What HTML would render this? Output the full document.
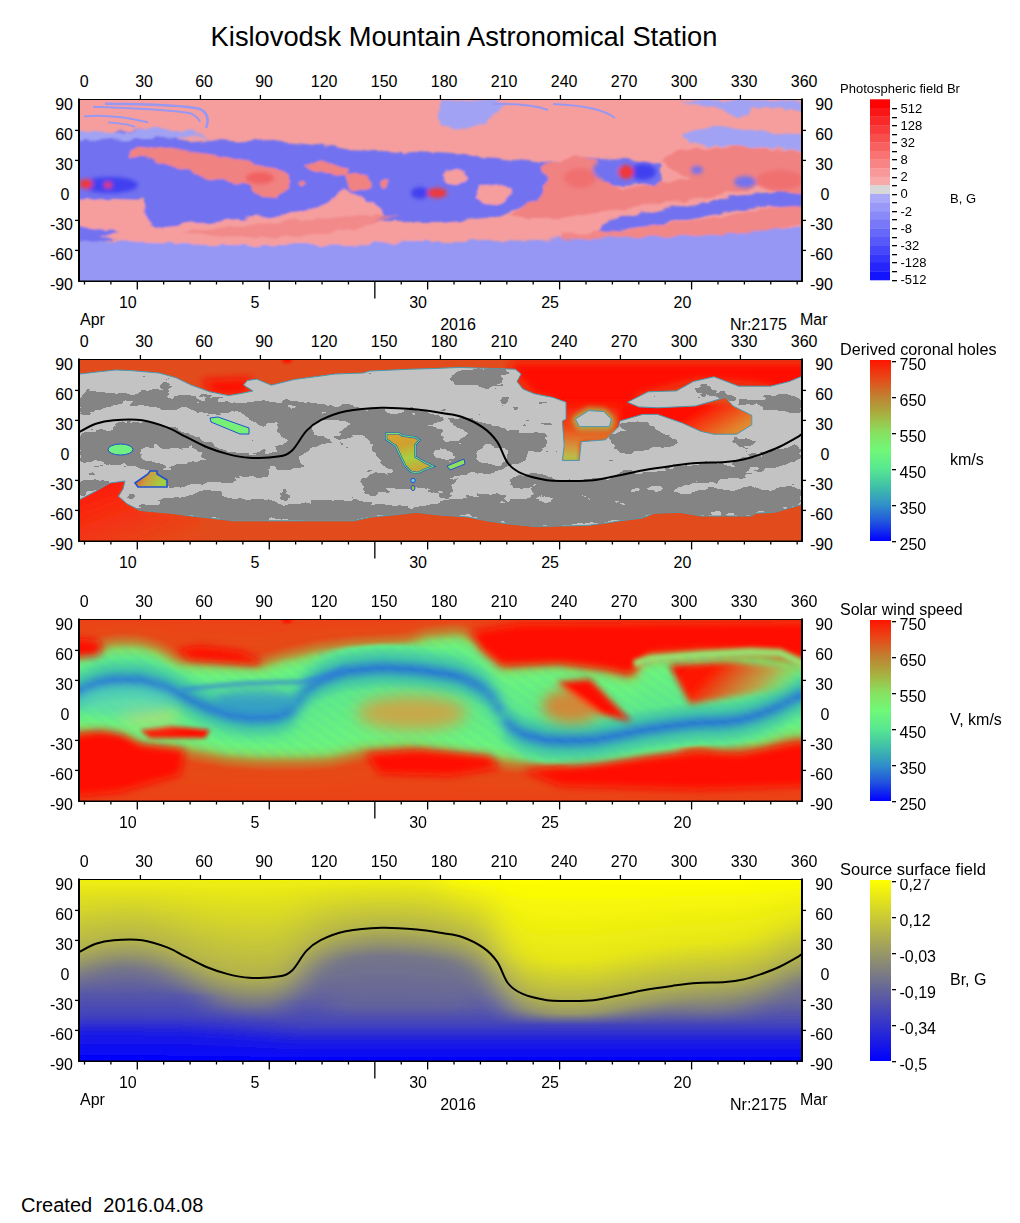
<!DOCTYPE html>
<html><head><meta charset="utf-8"><style>
html,body{margin:0;padding:0;background:#fff;width:1020px;height:1223px;overflow:hidden}
svg{display:block}
text{font-family:"Liberation Sans", sans-serif;fill:#000}
</style></head><body>
<svg width="1020" height="1223" viewBox="0 0 1020 1223">
<defs><clipPath id="clip0"><rect x="80" y="100" width="721" height="181"/></clipPath><clipPath id="clip1"><rect x="80" y="360" width="721" height="181"/></clipPath><clipPath id="clip2"><rect x="80" y="620" width="721" height="181"/></clipPath><clipPath id="clip3"><rect x="80" y="880" width="721" height="181"/></clipPath><linearGradient id="gv" x1="0" y1="0" x2="0" y2="1"><stop offset="0" stop-color="#ff1400"/><stop offset="0.1" stop-color="#e84818"/><stop offset="0.2" stop-color="#c08030"/><stop offset="0.3" stop-color="#a8b040"/><stop offset="0.4" stop-color="#88e060"/><stop offset="0.5" stop-color="#70f878"/><stop offset="0.6" stop-color="#58e890"/><stop offset="0.7" stop-color="#40c0a8"/><stop offset="0.8" stop-color="#3090c8"/><stop offset="0.9" stop-color="#2050e0"/><stop offset="1" stop-color="#0000ff"/></linearGradient><linearGradient id="gs" x1="0" y1="0" x2="0" y2="1"><stop offset="0" stop-color="#ffff00"/><stop offset="1" stop-color="#0000ff"/></linearGradient><clipPath id="lblclip"><rect x="880" y="879" width="80" height="30"/></clipPath><filter id="disp1" filterUnits="userSpaceOnUse" x="60" y="80" width="760" height="220"><feTurbulence type="fractalNoise" baseFrequency="0.06 0.1" numOctaves="2" seed="3" result="n"/><feDisplacementMap in="SourceGraphic" in2="n" scale="9" xChannelSelector="R" yChannelSelector="G" result="d"/><feGaussianBlur in="d" stdDeviation="0.8"/></filter><pattern id="streak" width="9" height="9" patternUnits="userSpaceOnUse" patternTransform="rotate(35)"><rect width="9" height="3" fill="#30a0d0"/></pattern><linearGradient id="g3_0" gradientUnits="userSpaceOnUse" x1="0" y1="619" x2="0" y2="802"><stop offset="0.000" stop-color="#eb4215"/><stop offset="0.120" stop-color="#e64a19"/><stop offset="0.169" stop-color="#be8532"/><stop offset="0.212" stop-color="#86e262"/><stop offset="0.251" stop-color="#70f878"/><stop offset="0.277" stop-color="#62ee86"/><stop offset="0.343" stop-color="#42c4a6"/><stop offset="0.397" stop-color="#2a76d2"/><stop offset="0.452" stop-color="#42c4a6"/><stop offset="0.517" stop-color="#62ee86"/><stop offset="0.552" stop-color="#70f878"/><stop offset="0.590" stop-color="#86e262"/><stop offset="0.634" stop-color="#be8532"/><stop offset="0.683" stop-color="#e64a19"/><stop offset="1.000" stop-color="#eb4215"/></linearGradient><linearGradient id="g3_1" gradientUnits="userSpaceOnUse" x1="0" y1="619" x2="0" y2="802"><stop offset="0.000" stop-color="#eb4215"/><stop offset="0.120" stop-color="#e64a19"/><stop offset="0.169" stop-color="#be8532"/><stop offset="0.212" stop-color="#86e262"/><stop offset="0.251" stop-color="#70f878"/><stop offset="0.277" stop-color="#62ee86"/><stop offset="0.343" stop-color="#42c4a6"/><stop offset="0.397" stop-color="#2a76d2"/><stop offset="0.452" stop-color="#42c4a6"/><stop offset="0.517" stop-color="#62ee86"/><stop offset="0.552" stop-color="#70f878"/><stop offset="0.590" stop-color="#86e262"/><stop offset="0.634" stop-color="#be8532"/><stop offset="0.683" stop-color="#e64a19"/><stop offset="1.000" stop-color="#eb4215"/></linearGradient><linearGradient id="g3_2" gradientUnits="userSpaceOnUse" x1="0" y1="619" x2="0" y2="802"><stop offset="0.000" stop-color="#eb4215"/><stop offset="0.120" stop-color="#e64a19"/><stop offset="0.169" stop-color="#be8532"/><stop offset="0.212" stop-color="#86e262"/><stop offset="0.251" stop-color="#70f878"/><stop offset="0.277" stop-color="#62ee86"/><stop offset="0.343" stop-color="#42c4a6"/><stop offset="0.397" stop-color="#2a76d2"/><stop offset="0.452" stop-color="#42c4a6"/><stop offset="0.517" stop-color="#62ee86"/><stop offset="0.552" stop-color="#70f878"/><stop offset="0.590" stop-color="#86e262"/><stop offset="0.634" stop-color="#be8532"/><stop offset="0.683" stop-color="#e64a19"/><stop offset="1.000" stop-color="#eb4215"/></linearGradient><linearGradient id="g3_3" gradientUnits="userSpaceOnUse" x1="0" y1="619" x2="0" y2="802"><stop offset="0.000" stop-color="#eb4215"/><stop offset="0.120" stop-color="#e64a19"/><stop offset="0.169" stop-color="#be8532"/><stop offset="0.212" stop-color="#86e262"/><stop offset="0.251" stop-color="#70f878"/><stop offset="0.277" stop-color="#62ee86"/><stop offset="0.343" stop-color="#42c4a6"/><stop offset="0.397" stop-color="#2a76d2"/><stop offset="0.452" stop-color="#42c4a6"/><stop offset="0.517" stop-color="#62ee86"/><stop offset="0.552" stop-color="#70f878"/><stop offset="0.590" stop-color="#86e262"/><stop offset="0.634" stop-color="#be8532"/><stop offset="0.683" stop-color="#e64a19"/><stop offset="1.000" stop-color="#eb4215"/></linearGradient><linearGradient id="g3_4" gradientUnits="userSpaceOnUse" x1="0" y1="619" x2="0" y2="802"><stop offset="0.000" stop-color="#eb4215"/><stop offset="0.114" stop-color="#e64a19"/><stop offset="0.163" stop-color="#be8532"/><stop offset="0.207" stop-color="#86e262"/><stop offset="0.245" stop-color="#70f878"/><stop offset="0.266" stop-color="#62ee86"/><stop offset="0.332" stop-color="#42c4a6"/><stop offset="0.386" stop-color="#2a76d2"/><stop offset="0.441" stop-color="#42c4a6"/><stop offset="0.507" stop-color="#62ee86"/><stop offset="0.553" stop-color="#70f878"/><stop offset="0.591" stop-color="#86e262"/><stop offset="0.635" stop-color="#be8532"/><stop offset="0.684" stop-color="#e64a19"/><stop offset="1.000" stop-color="#eb4215"/></linearGradient><linearGradient id="g3_5" gradientUnits="userSpaceOnUse" x1="0" y1="619" x2="0" y2="802"><stop offset="0.000" stop-color="#eb4215"/><stop offset="0.103" stop-color="#e64a19"/><stop offset="0.152" stop-color="#be8532"/><stop offset="0.196" stop-color="#86e262"/><stop offset="0.244" stop-color="#62ee86"/><stop offset="0.310" stop-color="#42c4a6"/><stop offset="0.364" stop-color="#2a76d2"/><stop offset="0.419" stop-color="#42c4a6"/><stop offset="0.485" stop-color="#62ee86"/><stop offset="0.555" stop-color="#70f878"/><stop offset="0.593" stop-color="#86e262"/><stop offset="0.637" stop-color="#be8532"/><stop offset="0.686" stop-color="#e64a19"/><stop offset="1.000" stop-color="#eb4215"/></linearGradient><linearGradient id="g3_6" gradientUnits="userSpaceOnUse" x1="0" y1="619" x2="0" y2="802"><stop offset="0.000" stop-color="#eb4215"/><stop offset="0.092" stop-color="#e64a19"/><stop offset="0.141" stop-color="#be8532"/><stop offset="0.185" stop-color="#86e262"/><stop offset="0.229" stop-color="#62ee86"/><stop offset="0.295" stop-color="#42c4a6"/><stop offset="0.349" stop-color="#2a76d2"/><stop offset="0.404" stop-color="#42c4a6"/><stop offset="0.470" stop-color="#62ee86"/><stop offset="0.557" stop-color="#70f878"/><stop offset="0.596" stop-color="#86e262"/><stop offset="0.639" stop-color="#be8532"/><stop offset="0.689" stop-color="#e64a19"/><stop offset="1.000" stop-color="#eb4215"/></linearGradient><linearGradient id="g3_7" gradientUnits="userSpaceOnUse" x1="0" y1="619" x2="0" y2="802"><stop offset="0.000" stop-color="#eb4215"/><stop offset="0.085" stop-color="#e64a19"/><stop offset="0.134" stop-color="#be8532"/><stop offset="0.178" stop-color="#86e262"/><stop offset="0.220" stop-color="#62ee86"/><stop offset="0.286" stop-color="#42c4a6"/><stop offset="0.341" stop-color="#2a76d2"/><stop offset="0.395" stop-color="#42c4a6"/><stop offset="0.461" stop-color="#62ee86"/><stop offset="0.566" stop-color="#70f878"/><stop offset="0.604" stop-color="#86e262"/><stop offset="0.648" stop-color="#be8532"/><stop offset="0.697" stop-color="#e64a19"/><stop offset="1.000" stop-color="#eb4215"/></linearGradient><linearGradient id="g3_8" gradientUnits="userSpaceOnUse" x1="0" y1="619" x2="0" y2="802"><stop offset="0.000" stop-color="#eb4215"/><stop offset="0.077" stop-color="#e64a19"/><stop offset="0.127" stop-color="#be8532"/><stop offset="0.170" stop-color="#86e262"/><stop offset="0.214" stop-color="#62ee86"/><stop offset="0.280" stop-color="#42c4a6"/><stop offset="0.334" stop-color="#2a76d2"/><stop offset="0.389" stop-color="#42c4a6"/><stop offset="0.455" stop-color="#62ee86"/><stop offset="0.574" stop-color="#70f878"/><stop offset="0.612" stop-color="#86e262"/><stop offset="0.656" stop-color="#be8532"/><stop offset="0.705" stop-color="#e64a19"/><stop offset="1.000" stop-color="#eb4215"/></linearGradient><linearGradient id="g3_9" gradientUnits="userSpaceOnUse" x1="0" y1="619" x2="0" y2="802"><stop offset="0.000" stop-color="#eb4215"/><stop offset="0.077" stop-color="#e64a19"/><stop offset="0.126" stop-color="#be8532"/><stop offset="0.169" stop-color="#86e262"/><stop offset="0.214" stop-color="#62ee86"/><stop offset="0.280" stop-color="#42c4a6"/><stop offset="0.334" stop-color="#2a76d2"/><stop offset="0.389" stop-color="#42c4a6"/><stop offset="0.455" stop-color="#62ee86"/><stop offset="0.586" stop-color="#70f878"/><stop offset="0.624" stop-color="#86e262"/><stop offset="0.668" stop-color="#be8532"/><stop offset="0.717" stop-color="#e64a19"/><stop offset="1.000" stop-color="#eb4215"/></linearGradient><linearGradient id="g3_10" gradientUnits="userSpaceOnUse" x1="0" y1="619" x2="0" y2="802"><stop offset="0.000" stop-color="#eb4215"/><stop offset="0.077" stop-color="#e64a19"/><stop offset="0.126" stop-color="#be8532"/><stop offset="0.169" stop-color="#86e262"/><stop offset="0.214" stop-color="#62ee86"/><stop offset="0.280" stop-color="#42c4a6"/><stop offset="0.334" stop-color="#2a76d2"/><stop offset="0.389" stop-color="#42c4a6"/><stop offset="0.455" stop-color="#62ee86"/><stop offset="0.604" stop-color="#70f878"/><stop offset="0.642" stop-color="#86e262"/><stop offset="0.686" stop-color="#be8532"/><stop offset="0.735" stop-color="#e64a19"/><stop offset="1.000" stop-color="#eb4215"/></linearGradient><linearGradient id="g3_11" gradientUnits="userSpaceOnUse" x1="0" y1="619" x2="0" y2="802"><stop offset="0.000" stop-color="#eb4215"/><stop offset="0.078" stop-color="#e64a19"/><stop offset="0.127" stop-color="#be8532"/><stop offset="0.171" stop-color="#86e262"/><stop offset="0.214" stop-color="#62ee86"/><stop offset="0.280" stop-color="#42c4a6"/><stop offset="0.334" stop-color="#2a76d2"/><stop offset="0.389" stop-color="#42c4a6"/><stop offset="0.455" stop-color="#62ee86"/><stop offset="0.622" stop-color="#70f878"/><stop offset="0.660" stop-color="#86e262"/><stop offset="0.704" stop-color="#be8532"/><stop offset="0.753" stop-color="#e64a19"/><stop offset="1.000" stop-color="#eb4215"/></linearGradient><linearGradient id="g3_12" gradientUnits="userSpaceOnUse" x1="0" y1="619" x2="0" y2="802"><stop offset="0.000" stop-color="#eb4215"/><stop offset="0.091" stop-color="#e64a19"/><stop offset="0.140" stop-color="#be8532"/><stop offset="0.183" stop-color="#86e262"/><stop offset="0.223" stop-color="#62ee86"/><stop offset="0.289" stop-color="#42c4a6"/><stop offset="0.344" stop-color="#2a76d2"/><stop offset="0.398" stop-color="#42c4a6"/><stop offset="0.464" stop-color="#62ee86"/><stop offset="0.630" stop-color="#70f878"/><stop offset="0.668" stop-color="#86e262"/><stop offset="0.712" stop-color="#be8532"/><stop offset="0.761" stop-color="#e64a19"/><stop offset="1.000" stop-color="#eb4215"/></linearGradient><linearGradient id="g3_13" gradientUnits="userSpaceOnUse" x1="0" y1="619" x2="0" y2="802"><stop offset="0.000" stop-color="#eb4215"/><stop offset="0.103" stop-color="#e64a19"/><stop offset="0.152" stop-color="#be8532"/><stop offset="0.196" stop-color="#86e262"/><stop offset="0.236" stop-color="#62ee86"/><stop offset="0.301" stop-color="#42c4a6"/><stop offset="0.356" stop-color="#2a76d2"/><stop offset="0.411" stop-color="#42c4a6"/><stop offset="0.476" stop-color="#62ee86"/><stop offset="0.633" stop-color="#70f878"/><stop offset="0.671" stop-color="#86e262"/><stop offset="0.715" stop-color="#be8532"/><stop offset="0.764" stop-color="#e64a19"/><stop offset="1.000" stop-color="#eb4215"/></linearGradient><linearGradient id="g3_14" gradientUnits="userSpaceOnUse" x1="0" y1="619" x2="0" y2="802"><stop offset="0.000" stop-color="#eb4215"/><stop offset="0.124" stop-color="#e64a19"/><stop offset="0.173" stop-color="#be8532"/><stop offset="0.217" stop-color="#86e262"/><stop offset="0.249" stop-color="#62ee86"/><stop offset="0.314" stop-color="#42c4a6"/><stop offset="0.369" stop-color="#2a76d2"/><stop offset="0.423" stop-color="#42c4a6"/><stop offset="0.489" stop-color="#62ee86"/><stop offset="0.635" stop-color="#70f878"/><stop offset="0.674" stop-color="#86e262"/><stop offset="0.717" stop-color="#be8532"/><stop offset="0.767" stop-color="#e64a19"/><stop offset="1.000" stop-color="#eb4215"/></linearGradient><linearGradient id="g3_15" gradientUnits="userSpaceOnUse" x1="0" y1="619" x2="0" y2="802"><stop offset="0.000" stop-color="#eb4215"/><stop offset="0.153" stop-color="#e64a19"/><stop offset="0.202" stop-color="#be8532"/><stop offset="0.246" stop-color="#86e262"/><stop offset="0.267" stop-color="#62ee86"/><stop offset="0.332" stop-color="#42c4a6"/><stop offset="0.387" stop-color="#2a76d2"/><stop offset="0.442" stop-color="#42c4a6"/><stop offset="0.507" stop-color="#62ee86"/><stop offset="0.638" stop-color="#70f878"/><stop offset="0.676" stop-color="#86e262"/><stop offset="0.720" stop-color="#be8532"/><stop offset="0.769" stop-color="#e64a19"/><stop offset="1.000" stop-color="#eb4215"/></linearGradient><linearGradient id="g3_16" gradientUnits="userSpaceOnUse" x1="0" y1="619" x2="0" y2="802"><stop offset="0.000" stop-color="#eb4215"/><stop offset="0.175" stop-color="#e64a19"/><stop offset="0.224" stop-color="#be8532"/><stop offset="0.268" stop-color="#86e262"/><stop offset="0.289" stop-color="#62ee86"/><stop offset="0.354" stop-color="#42c4a6"/><stop offset="0.409" stop-color="#2a76d2"/><stop offset="0.463" stop-color="#42c4a6"/><stop offset="0.529" stop-color="#62ee86"/><stop offset="0.642" stop-color="#70f878"/><stop offset="0.681" stop-color="#86e262"/><stop offset="0.724" stop-color="#be8532"/><stop offset="0.773" stop-color="#e64a19"/><stop offset="1.000" stop-color="#eb4215"/></linearGradient><linearGradient id="g3_17" gradientUnits="userSpaceOnUse" x1="0" y1="619" x2="0" y2="802"><stop offset="0.000" stop-color="#eb4215"/><stop offset="0.177" stop-color="#e64a19"/><stop offset="0.226" stop-color="#be8532"/><stop offset="0.270" stop-color="#86e262"/><stop offset="0.310" stop-color="#62ee86"/><stop offset="0.376" stop-color="#42c4a6"/><stop offset="0.431" stop-color="#2a76d2"/><stop offset="0.485" stop-color="#42c4a6"/><stop offset="0.551" stop-color="#62ee86"/><stop offset="0.648" stop-color="#70f878"/><stop offset="0.687" stop-color="#86e262"/><stop offset="0.730" stop-color="#be8532"/><stop offset="0.779" stop-color="#e64a19"/><stop offset="1.000" stop-color="#eb4215"/></linearGradient><linearGradient id="g3_18" gradientUnits="userSpaceOnUse" x1="0" y1="619" x2="0" y2="802"><stop offset="0.000" stop-color="#eb4215"/><stop offset="0.178" stop-color="#e64a19"/><stop offset="0.228" stop-color="#be8532"/><stop offset="0.271" stop-color="#86e262"/><stop offset="0.309" stop-color="#70f878"/><stop offset="0.332" stop-color="#62ee86"/><stop offset="0.398" stop-color="#42c4a6"/><stop offset="0.452" stop-color="#2a76d2"/><stop offset="0.507" stop-color="#42c4a6"/><stop offset="0.573" stop-color="#62ee86"/><stop offset="0.654" stop-color="#70f878"/><stop offset="0.692" stop-color="#86e262"/><stop offset="0.736" stop-color="#be8532"/><stop offset="0.785" stop-color="#e64a19"/><stop offset="1.000" stop-color="#eb4215"/></linearGradient><linearGradient id="g3_19" gradientUnits="userSpaceOnUse" x1="0" y1="619" x2="0" y2="802"><stop offset="0.000" stop-color="#eb4215"/><stop offset="0.180" stop-color="#e64a19"/><stop offset="0.229" stop-color="#be8532"/><stop offset="0.273" stop-color="#86e262"/><stop offset="0.311" stop-color="#70f878"/><stop offset="0.354" stop-color="#62ee86"/><stop offset="0.419" stop-color="#42c4a6"/><stop offset="0.474" stop-color="#2a76d2"/><stop offset="0.529" stop-color="#42c4a6"/><stop offset="0.594" stop-color="#62ee86"/><stop offset="0.662" stop-color="#70f878"/><stop offset="0.700" stop-color="#86e262"/><stop offset="0.744" stop-color="#be8532"/><stop offset="0.793" stop-color="#e64a19"/><stop offset="1.000" stop-color="#eb4215"/></linearGradient><linearGradient id="g3_20" gradientUnits="userSpaceOnUse" x1="0" y1="619" x2="0" y2="802"><stop offset="0.000" stop-color="#eb4215"/><stop offset="0.181" stop-color="#e64a19"/><stop offset="0.231" stop-color="#be8532"/><stop offset="0.274" stop-color="#86e262"/><stop offset="0.313" stop-color="#70f878"/><stop offset="0.371" stop-color="#62ee86"/><stop offset="0.436" stop-color="#42c4a6"/><stop offset="0.491" stop-color="#2a76d2"/><stop offset="0.545" stop-color="#42c4a6"/><stop offset="0.611" stop-color="#62ee86"/><stop offset="0.670" stop-color="#70f878"/><stop offset="0.708" stop-color="#86e262"/><stop offset="0.752" stop-color="#be8532"/><stop offset="0.801" stop-color="#e64a19"/><stop offset="1.000" stop-color="#eb4215"/></linearGradient><linearGradient id="g3_21" gradientUnits="userSpaceOnUse" x1="0" y1="619" x2="0" y2="802"><stop offset="0.000" stop-color="#eb4215"/><stop offset="0.183" stop-color="#e64a19"/><stop offset="0.232" stop-color="#be8532"/><stop offset="0.276" stop-color="#86e262"/><stop offset="0.314" stop-color="#70f878"/><stop offset="0.385" stop-color="#62ee86"/><stop offset="0.451" stop-color="#42c4a6"/><stop offset="0.505" stop-color="#2a76d2"/><stop offset="0.560" stop-color="#42c4a6"/><stop offset="0.626" stop-color="#62ee86"/><stop offset="0.678" stop-color="#70f878"/><stop offset="0.717" stop-color="#86e262"/><stop offset="0.760" stop-color="#be8532"/><stop offset="0.809" stop-color="#e64a19"/><stop offset="1.000" stop-color="#eb4215"/></linearGradient><linearGradient id="g3_22" gradientUnits="userSpaceOnUse" x1="0" y1="619" x2="0" y2="802"><stop offset="0.000" stop-color="#eb4215"/><stop offset="0.185" stop-color="#e64a19"/><stop offset="0.234" stop-color="#be8532"/><stop offset="0.277" stop-color="#86e262"/><stop offset="0.316" stop-color="#70f878"/><stop offset="0.400" stop-color="#62ee86"/><stop offset="0.465" stop-color="#42c4a6"/><stop offset="0.520" stop-color="#2a76d2"/><stop offset="0.574" stop-color="#42c4a6"/><stop offset="0.640" stop-color="#62ee86"/><stop offset="0.686" stop-color="#70f878"/><stop offset="0.725" stop-color="#86e262"/><stop offset="0.768" stop-color="#be8532"/><stop offset="0.818" stop-color="#e64a19"/><stop offset="1.000" stop-color="#eb4215"/></linearGradient><linearGradient id="g3_23" gradientUnits="userSpaceOnUse" x1="0" y1="619" x2="0" y2="802"><stop offset="0.000" stop-color="#eb4215"/><stop offset="0.186" stop-color="#e64a19"/><stop offset="0.235" stop-color="#be8532"/><stop offset="0.279" stop-color="#86e262"/><stop offset="0.317" stop-color="#70f878"/><stop offset="0.407" stop-color="#62ee86"/><stop offset="0.472" stop-color="#42c4a6"/><stop offset="0.527" stop-color="#2a76d2"/><stop offset="0.582" stop-color="#42c4a6"/><stop offset="0.647" stop-color="#62ee86"/><stop offset="0.691" stop-color="#70f878"/><stop offset="0.729" stop-color="#86e262"/><stop offset="0.772" stop-color="#be8532"/><stop offset="0.822" stop-color="#e64a19"/><stop offset="1.000" stop-color="#eb4215"/></linearGradient><linearGradient id="g3_24" gradientUnits="userSpaceOnUse" x1="0" y1="619" x2="0" y2="802"><stop offset="0.000" stop-color="#eb4215"/><stop offset="0.188" stop-color="#e64a19"/><stop offset="0.237" stop-color="#be8532"/><stop offset="0.280" stop-color="#86e262"/><stop offset="0.319" stop-color="#70f878"/><stop offset="0.414" stop-color="#62ee86"/><stop offset="0.480" stop-color="#42c4a6"/><stop offset="0.534" stop-color="#2a76d2"/><stop offset="0.589" stop-color="#42c4a6"/><stop offset="0.655" stop-color="#62ee86"/><stop offset="0.693" stop-color="#70f878"/><stop offset="0.731" stop-color="#86e262"/><stop offset="0.775" stop-color="#be8532"/><stop offset="0.824" stop-color="#e64a19"/><stop offset="1.000" stop-color="#eb4215"/></linearGradient><linearGradient id="g3_25" gradientUnits="userSpaceOnUse" x1="0" y1="619" x2="0" y2="802"><stop offset="0.000" stop-color="#eb4215"/><stop offset="0.189" stop-color="#e64a19"/><stop offset="0.238" stop-color="#be8532"/><stop offset="0.282" stop-color="#86e262"/><stop offset="0.320" stop-color="#70f878"/><stop offset="0.419" stop-color="#62ee86"/><stop offset="0.484" stop-color="#42c4a6"/><stop offset="0.539" stop-color="#2a76d2"/><stop offset="0.593" stop-color="#42c4a6"/><stop offset="0.659" stop-color="#62ee86"/><stop offset="0.696" stop-color="#70f878"/><stop offset="0.734" stop-color="#86e262"/><stop offset="0.778" stop-color="#be8532"/><stop offset="0.827" stop-color="#e64a19"/><stop offset="1.000" stop-color="#eb4215"/></linearGradient><linearGradient id="g3_26" gradientUnits="userSpaceOnUse" x1="0" y1="619" x2="0" y2="802"><stop offset="0.000" stop-color="#eb4215"/><stop offset="0.191" stop-color="#e64a19"/><stop offset="0.240" stop-color="#be8532"/><stop offset="0.284" stop-color="#86e262"/><stop offset="0.322" stop-color="#70f878"/><stop offset="0.417" stop-color="#62ee86"/><stop offset="0.482" stop-color="#42c4a6"/><stop offset="0.537" stop-color="#2a76d2"/><stop offset="0.592" stop-color="#42c4a6"/><stop offset="0.657" stop-color="#62ee86"/><stop offset="0.698" stop-color="#70f878"/><stop offset="0.737" stop-color="#86e262"/><stop offset="0.780" stop-color="#be8532"/><stop offset="0.830" stop-color="#e64a19"/><stop offset="1.000" stop-color="#eb4215"/></linearGradient><linearGradient id="g3_27" gradientUnits="userSpaceOnUse" x1="0" y1="619" x2="0" y2="802"><stop offset="0.000" stop-color="#eb4215"/><stop offset="0.183" stop-color="#e64a19"/><stop offset="0.232" stop-color="#be8532"/><stop offset="0.275" stop-color="#86e262"/><stop offset="0.314" stop-color="#70f878"/><stop offset="0.415" stop-color="#62ee86"/><stop offset="0.481" stop-color="#42c4a6"/><stop offset="0.535" stop-color="#2a76d2"/><stop offset="0.590" stop-color="#42c4a6"/><stop offset="0.656" stop-color="#62ee86"/><stop offset="0.699" stop-color="#70f878"/><stop offset="0.738" stop-color="#86e262"/><stop offset="0.781" stop-color="#be8532"/><stop offset="0.831" stop-color="#e64a19"/><stop offset="1.000" stop-color="#eb4215"/></linearGradient><linearGradient id="g3_28" gradientUnits="userSpaceOnUse" x1="0" y1="619" x2="0" y2="802"><stop offset="0.000" stop-color="#eb4215"/><stop offset="0.169" stop-color="#e64a19"/><stop offset="0.218" stop-color="#be8532"/><stop offset="0.262" stop-color="#86e262"/><stop offset="0.300" stop-color="#70f878"/><stop offset="0.414" stop-color="#62ee86"/><stop offset="0.479" stop-color="#42c4a6"/><stop offset="0.534" stop-color="#2a76d2"/><stop offset="0.588" stop-color="#42c4a6"/><stop offset="0.654" stop-color="#62ee86"/><stop offset="0.699" stop-color="#70f878"/><stop offset="0.738" stop-color="#86e262"/><stop offset="0.781" stop-color="#be8532"/><stop offset="0.831" stop-color="#e64a19"/><stop offset="1.000" stop-color="#eb4215"/></linearGradient><linearGradient id="g3_29" gradientUnits="userSpaceOnUse" x1="0" y1="619" x2="0" y2="802"><stop offset="0.000" stop-color="#eb4215"/><stop offset="0.155" stop-color="#e64a19"/><stop offset="0.204" stop-color="#be8532"/><stop offset="0.248" stop-color="#86e262"/><stop offset="0.286" stop-color="#70f878"/><stop offset="0.399" stop-color="#62ee86"/><stop offset="0.464" stop-color="#42c4a6"/><stop offset="0.519" stop-color="#2a76d2"/><stop offset="0.574" stop-color="#42c4a6"/><stop offset="0.639" stop-color="#62ee86"/><stop offset="0.699" stop-color="#70f878"/><stop offset="0.738" stop-color="#86e262"/><stop offset="0.781" stop-color="#be8532"/><stop offset="0.831" stop-color="#e64a19"/><stop offset="1.000" stop-color="#eb4215"/></linearGradient><linearGradient id="g3_30" gradientUnits="userSpaceOnUse" x1="0" y1="619" x2="0" y2="802"><stop offset="0.000" stop-color="#eb4215"/><stop offset="0.145" stop-color="#e64a19"/><stop offset="0.195" stop-color="#be8532"/><stop offset="0.238" stop-color="#86e262"/><stop offset="0.277" stop-color="#70f878"/><stop offset="0.380" stop-color="#62ee86"/><stop offset="0.446" stop-color="#42c4a6"/><stop offset="0.500" stop-color="#2a76d2"/><stop offset="0.555" stop-color="#42c4a6"/><stop offset="0.620" stop-color="#62ee86"/><stop offset="0.699" stop-color="#70f878"/><stop offset="0.738" stop-color="#86e262"/><stop offset="0.781" stop-color="#be8532"/><stop offset="0.831" stop-color="#e64a19"/><stop offset="1.000" stop-color="#eb4215"/></linearGradient><linearGradient id="g3_31" gradientUnits="userSpaceOnUse" x1="0" y1="619" x2="0" y2="802"><stop offset="0.000" stop-color="#eb4215"/><stop offset="0.137" stop-color="#e64a19"/><stop offset="0.186" stop-color="#be8532"/><stop offset="0.230" stop-color="#86e262"/><stop offset="0.268" stop-color="#70f878"/><stop offset="0.321" stop-color="#62ee86"/><stop offset="0.386" stop-color="#42c4a6"/><stop offset="0.441" stop-color="#2a76d2"/><stop offset="0.495" stop-color="#42c4a6"/><stop offset="0.561" stop-color="#62ee86"/><stop offset="0.699" stop-color="#70f878"/><stop offset="0.738" stop-color="#86e262"/><stop offset="0.781" stop-color="#be8532"/><stop offset="0.831" stop-color="#e64a19"/><stop offset="1.000" stop-color="#eb4215"/></linearGradient><linearGradient id="g3_32" gradientUnits="userSpaceOnUse" x1="0" y1="619" x2="0" y2="802"><stop offset="0.000" stop-color="#eb4215"/><stop offset="0.126" stop-color="#e64a19"/><stop offset="0.175" stop-color="#be8532"/><stop offset="0.219" stop-color="#86e262"/><stop offset="0.266" stop-color="#62ee86"/><stop offset="0.332" stop-color="#42c4a6"/><stop offset="0.386" stop-color="#2a76d2"/><stop offset="0.441" stop-color="#42c4a6"/><stop offset="0.507" stop-color="#62ee86"/><stop offset="0.698" stop-color="#70f878"/><stop offset="0.736" stop-color="#86e262"/><stop offset="0.780" stop-color="#be8532"/><stop offset="0.829" stop-color="#e64a19"/><stop offset="1.000" stop-color="#eb4215"/></linearGradient><linearGradient id="g3_33" gradientUnits="userSpaceOnUse" x1="0" y1="619" x2="0" y2="802"><stop offset="0.000" stop-color="#eb4215"/><stop offset="0.115" stop-color="#e64a19"/><stop offset="0.164" stop-color="#be8532"/><stop offset="0.208" stop-color="#86e262"/><stop offset="0.233" stop-color="#62ee86"/><stop offset="0.299" stop-color="#42c4a6"/><stop offset="0.354" stop-color="#2a76d2"/><stop offset="0.408" stop-color="#42c4a6"/><stop offset="0.474" stop-color="#62ee86"/><stop offset="0.697" stop-color="#70f878"/><stop offset="0.735" stop-color="#86e262"/><stop offset="0.779" stop-color="#be8532"/><stop offset="0.828" stop-color="#e64a19"/><stop offset="1.000" stop-color="#eb4215"/></linearGradient><linearGradient id="g3_34" gradientUnits="userSpaceOnUse" x1="0" y1="619" x2="0" y2="802"><stop offset="0.000" stop-color="#eb4215"/><stop offset="0.109" stop-color="#e64a19"/><stop offset="0.158" stop-color="#be8532"/><stop offset="0.208" stop-color="#62ee86"/><stop offset="0.273" stop-color="#42c4a6"/><stop offset="0.328" stop-color="#2a76d2"/><stop offset="0.383" stop-color="#42c4a6"/><stop offset="0.448" stop-color="#62ee86"/><stop offset="0.695" stop-color="#70f878"/><stop offset="0.733" stop-color="#86e262"/><stop offset="0.777" stop-color="#be8532"/><stop offset="0.826" stop-color="#e64a19"/><stop offset="1.000" stop-color="#eb4215"/></linearGradient><linearGradient id="g3_35" gradientUnits="userSpaceOnUse" x1="0" y1="619" x2="0" y2="802"><stop offset="0.000" stop-color="#eb4215"/><stop offset="0.104" stop-color="#e64a19"/><stop offset="0.153" stop-color="#be8532"/><stop offset="0.192" stop-color="#62ee86"/><stop offset="0.258" stop-color="#42c4a6"/><stop offset="0.312" stop-color="#2a76d2"/><stop offset="0.367" stop-color="#42c4a6"/><stop offset="0.433" stop-color="#62ee86"/><stop offset="0.691" stop-color="#70f878"/><stop offset="0.730" stop-color="#86e262"/><stop offset="0.773" stop-color="#be8532"/><stop offset="0.823" stop-color="#e64a19"/><stop offset="1.000" stop-color="#eb4215"/></linearGradient><linearGradient id="g3_36" gradientUnits="userSpaceOnUse" x1="0" y1="619" x2="0" y2="802"><stop offset="0.000" stop-color="#eb4215"/><stop offset="0.098" stop-color="#e64a19"/><stop offset="0.148" stop-color="#be8532"/><stop offset="0.177" stop-color="#62ee86"/><stop offset="0.242" stop-color="#42c4a6"/><stop offset="0.297" stop-color="#2a76d2"/><stop offset="0.352" stop-color="#42c4a6"/><stop offset="0.417" stop-color="#62ee86"/><stop offset="0.681" stop-color="#70f878"/><stop offset="0.719" stop-color="#86e262"/><stop offset="0.763" stop-color="#be8532"/><stop offset="0.812" stop-color="#e64a19"/><stop offset="1.000" stop-color="#eb4215"/></linearGradient><linearGradient id="g3_37" gradientUnits="userSpaceOnUse" x1="0" y1="619" x2="0" y2="802"><stop offset="0.000" stop-color="#eb4215"/><stop offset="0.093" stop-color="#e64a19"/><stop offset="0.142" stop-color="#be8532"/><stop offset="0.164" stop-color="#62ee86"/><stop offset="0.230" stop-color="#42c4a6"/><stop offset="0.285" stop-color="#2a76d2"/><stop offset="0.339" stop-color="#42c4a6"/><stop offset="0.405" stop-color="#62ee86"/><stop offset="0.671" stop-color="#70f878"/><stop offset="0.709" stop-color="#86e262"/><stop offset="0.753" stop-color="#be8532"/><stop offset="0.802" stop-color="#e64a19"/><stop offset="1.000" stop-color="#eb4215"/></linearGradient><linearGradient id="g3_38" gradientUnits="userSpaceOnUse" x1="0" y1="619" x2="0" y2="802"><stop offset="0.000" stop-color="#eb4215"/><stop offset="0.087" stop-color="#e64a19"/><stop offset="0.137" stop-color="#be8532"/><stop offset="0.160" stop-color="#62ee86"/><stop offset="0.225" stop-color="#42c4a6"/><stop offset="0.280" stop-color="#2a76d2"/><stop offset="0.335" stop-color="#42c4a6"/><stop offset="0.400" stop-color="#62ee86"/><stop offset="0.661" stop-color="#70f878"/><stop offset="0.699" stop-color="#86e262"/><stop offset="0.743" stop-color="#be8532"/><stop offset="0.792" stop-color="#e64a19"/><stop offset="1.000" stop-color="#eb4215"/></linearGradient><linearGradient id="g3_39" gradientUnits="userSpaceOnUse" x1="0" y1="619" x2="0" y2="802"><stop offset="0.000" stop-color="#eb4215"/><stop offset="0.085" stop-color="#e64a19"/><stop offset="0.134" stop-color="#be8532"/><stop offset="0.155" stop-color="#62ee86"/><stop offset="0.221" stop-color="#42c4a6"/><stop offset="0.276" stop-color="#2a76d2"/><stop offset="0.330" stop-color="#42c4a6"/><stop offset="0.396" stop-color="#62ee86"/><stop offset="0.650" stop-color="#70f878"/><stop offset="0.689" stop-color="#86e262"/><stop offset="0.732" stop-color="#be8532"/><stop offset="0.781" stop-color="#e64a19"/><stop offset="1.000" stop-color="#eb4215"/></linearGradient><linearGradient id="g3_40" gradientUnits="userSpaceOnUse" x1="0" y1="619" x2="0" y2="802"><stop offset="0.000" stop-color="#eb4215"/><stop offset="0.082" stop-color="#e64a19"/><stop offset="0.132" stop-color="#be8532"/><stop offset="0.151" stop-color="#62ee86"/><stop offset="0.217" stop-color="#42c4a6"/><stop offset="0.271" stop-color="#2a76d2"/><stop offset="0.326" stop-color="#42c4a6"/><stop offset="0.392" stop-color="#62ee86"/><stop offset="0.647" stop-color="#70f878"/><stop offset="0.686" stop-color="#86e262"/><stop offset="0.729" stop-color="#be8532"/><stop offset="0.779" stop-color="#e64a19"/><stop offset="1.000" stop-color="#eb4215"/></linearGradient><linearGradient id="g3_41" gradientUnits="userSpaceOnUse" x1="0" y1="619" x2="0" y2="802"><stop offset="0.000" stop-color="#eb4215"/><stop offset="0.080" stop-color="#e64a19"/><stop offset="0.129" stop-color="#be8532"/><stop offset="0.147" stop-color="#62ee86"/><stop offset="0.212" stop-color="#42c4a6"/><stop offset="0.267" stop-color="#2a76d2"/><stop offset="0.322" stop-color="#42c4a6"/><stop offset="0.387" stop-color="#62ee86"/><stop offset="0.644" stop-color="#70f878"/><stop offset="0.683" stop-color="#86e262"/><stop offset="0.726" stop-color="#be8532"/><stop offset="0.776" stop-color="#e64a19"/><stop offset="1.000" stop-color="#eb4215"/></linearGradient><linearGradient id="g3_42" gradientUnits="userSpaceOnUse" x1="0" y1="619" x2="0" y2="802"><stop offset="0.000" stop-color="#eb4215"/><stop offset="0.078" stop-color="#e64a19"/><stop offset="0.127" stop-color="#be8532"/><stop offset="0.148" stop-color="#62ee86"/><stop offset="0.213" stop-color="#42c4a6"/><stop offset="0.268" stop-color="#2a76d2"/><stop offset="0.323" stop-color="#42c4a6"/><stop offset="0.388" stop-color="#62ee86"/><stop offset="0.642" stop-color="#70f878"/><stop offset="0.680" stop-color="#86e262"/><stop offset="0.723" stop-color="#be8532"/><stop offset="0.773" stop-color="#e64a19"/><stop offset="1.000" stop-color="#eb4215"/></linearGradient><linearGradient id="g3_43" gradientUnits="userSpaceOnUse" x1="0" y1="619" x2="0" y2="802"><stop offset="0.000" stop-color="#eb4215"/><stop offset="0.075" stop-color="#e64a19"/><stop offset="0.124" stop-color="#be8532"/><stop offset="0.150" stop-color="#62ee86"/><stop offset="0.216" stop-color="#42c4a6"/><stop offset="0.270" stop-color="#2a76d2"/><stop offset="0.325" stop-color="#42c4a6"/><stop offset="0.390" stop-color="#62ee86"/><stop offset="0.639" stop-color="#70f878"/><stop offset="0.677" stop-color="#86e262"/><stop offset="0.721" stop-color="#be8532"/><stop offset="0.770" stop-color="#e64a19"/><stop offset="1.000" stop-color="#eb4215"/></linearGradient><linearGradient id="g3_44" gradientUnits="userSpaceOnUse" x1="0" y1="619" x2="0" y2="802"><stop offset="0.000" stop-color="#eb4215"/><stop offset="0.073" stop-color="#e64a19"/><stop offset="0.122" stop-color="#be8532"/><stop offset="0.152" stop-color="#62ee86"/><stop offset="0.218" stop-color="#42c4a6"/><stop offset="0.272" stop-color="#2a76d2"/><stop offset="0.327" stop-color="#42c4a6"/><stop offset="0.393" stop-color="#62ee86"/><stop offset="0.636" stop-color="#70f878"/><stop offset="0.674" stop-color="#86e262"/><stop offset="0.718" stop-color="#be8532"/><stop offset="0.767" stop-color="#e64a19"/><stop offset="1.000" stop-color="#eb4215"/></linearGradient><linearGradient id="g3_45" gradientUnits="userSpaceOnUse" x1="0" y1="619" x2="0" y2="802"><stop offset="0.000" stop-color="#eb4215"/><stop offset="0.065" stop-color="#e64a19"/><stop offset="0.114" stop-color="#be8532"/><stop offset="0.154" stop-color="#62ee86"/><stop offset="0.220" stop-color="#42c4a6"/><stop offset="0.275" stop-color="#2a76d2"/><stop offset="0.329" stop-color="#42c4a6"/><stop offset="0.395" stop-color="#62ee86"/><stop offset="0.636" stop-color="#70f878"/><stop offset="0.674" stop-color="#86e262"/><stop offset="0.718" stop-color="#be8532"/><stop offset="0.767" stop-color="#e64a19"/><stop offset="1.000" stop-color="#eb4215"/></linearGradient><linearGradient id="g3_46" gradientUnits="userSpaceOnUse" x1="0" y1="619" x2="0" y2="802"><stop offset="0.000" stop-color="#eb4215"/><stop offset="0.049" stop-color="#e64a19"/><stop offset="0.098" stop-color="#be8532"/><stop offset="0.142" stop-color="#86e262"/><stop offset="0.158" stop-color="#62ee86"/><stop offset="0.224" stop-color="#42c4a6"/><stop offset="0.278" stop-color="#2a76d2"/><stop offset="0.333" stop-color="#42c4a6"/><stop offset="0.399" stop-color="#62ee86"/><stop offset="0.641" stop-color="#70f878"/><stop offset="0.680" stop-color="#86e262"/><stop offset="0.723" stop-color="#be8532"/><stop offset="0.773" stop-color="#e64a19"/><stop offset="1.000" stop-color="#eb4215"/></linearGradient><linearGradient id="g3_47" gradientUnits="userSpaceOnUse" x1="0" y1="619" x2="0" y2="802"><stop offset="0.000" stop-color="#eb4215"/><stop offset="0.033" stop-color="#e64a19"/><stop offset="0.082" stop-color="#be8532"/><stop offset="0.126" stop-color="#86e262"/><stop offset="0.164" stop-color="#62ee86"/><stop offset="0.230" stop-color="#42c4a6"/><stop offset="0.285" stop-color="#2a76d2"/><stop offset="0.339" stop-color="#42c4a6"/><stop offset="0.405" stop-color="#62ee86"/><stop offset="0.647" stop-color="#70f878"/><stop offset="0.685" stop-color="#86e262"/><stop offset="0.729" stop-color="#be8532"/><stop offset="0.778" stop-color="#e64a19"/><stop offset="1.000" stop-color="#eb4215"/></linearGradient><linearGradient id="g3_48" gradientUnits="userSpaceOnUse" x1="0" y1="619" x2="0" y2="802"><stop offset="0.000" stop-color="#eb4215"/><stop offset="0.029" stop-color="#e64a19"/><stop offset="0.078" stop-color="#be8532"/><stop offset="0.121" stop-color="#86e262"/><stop offset="0.160" stop-color="#70f878"/><stop offset="0.171" stop-color="#62ee86"/><stop offset="0.236" stop-color="#42c4a6"/><stop offset="0.291" stop-color="#2a76d2"/><stop offset="0.346" stop-color="#42c4a6"/><stop offset="0.411" stop-color="#62ee86"/><stop offset="0.652" stop-color="#70f878"/><stop offset="0.691" stop-color="#86e262"/><stop offset="0.734" stop-color="#be8532"/><stop offset="0.783" stop-color="#e64a19"/><stop offset="1.000" stop-color="#eb4215"/></linearGradient><linearGradient id="g3_49" gradientUnits="userSpaceOnUse" x1="0" y1="619" x2="0" y2="802"><stop offset="0.000" stop-color="#eb4215"/><stop offset="0.024" stop-color="#e64a19"/><stop offset="0.074" stop-color="#be8532"/><stop offset="0.117" stop-color="#86e262"/><stop offset="0.155" stop-color="#70f878"/><stop offset="0.177" stop-color="#62ee86"/><stop offset="0.243" stop-color="#42c4a6"/><stop offset="0.298" stop-color="#2a76d2"/><stop offset="0.352" stop-color="#42c4a6"/><stop offset="0.418" stop-color="#62ee86"/><stop offset="0.658" stop-color="#70f878"/><stop offset="0.696" stop-color="#86e262"/><stop offset="0.740" stop-color="#be8532"/><stop offset="0.789" stop-color="#e64a19"/><stop offset="1.000" stop-color="#eb4215"/></linearGradient><linearGradient id="g3_50" gradientUnits="userSpaceOnUse" x1="0" y1="619" x2="0" y2="802"><stop offset="0.000" stop-color="#eb4215"/><stop offset="0.020" stop-color="#e64a19"/><stop offset="0.069" stop-color="#be8532"/><stop offset="0.113" stop-color="#86e262"/><stop offset="0.151" stop-color="#70f878"/><stop offset="0.186" stop-color="#62ee86"/><stop offset="0.251" stop-color="#42c4a6"/><stop offset="0.306" stop-color="#2a76d2"/><stop offset="0.360" stop-color="#42c4a6"/><stop offset="0.426" stop-color="#62ee86"/><stop offset="0.664" stop-color="#70f878"/><stop offset="0.702" stop-color="#86e262"/><stop offset="0.746" stop-color="#be8532"/><stop offset="0.795" stop-color="#e64a19"/><stop offset="1.000" stop-color="#eb4215"/></linearGradient><linearGradient id="g3_51" gradientUnits="userSpaceOnUse" x1="0" y1="619" x2="0" y2="802"><stop offset="0.000" stop-color="#eb4215"/><stop offset="0.018" stop-color="#e64a19"/><stop offset="0.068" stop-color="#be8532"/><stop offset="0.111" stop-color="#86e262"/><stop offset="0.150" stop-color="#70f878"/><stop offset="0.194" stop-color="#62ee86"/><stop offset="0.259" stop-color="#42c4a6"/><stop offset="0.314" stop-color="#2a76d2"/><stop offset="0.369" stop-color="#42c4a6"/><stop offset="0.434" stop-color="#62ee86"/><stop offset="0.670" stop-color="#70f878"/><stop offset="0.709" stop-color="#86e262"/><stop offset="0.752" stop-color="#be8532"/><stop offset="0.802" stop-color="#e64a19"/><stop offset="1.000" stop-color="#eb4215"/></linearGradient><linearGradient id="g3_52" gradientUnits="userSpaceOnUse" x1="0" y1="619" x2="0" y2="802"><stop offset="0.000" stop-color="#eb4215"/><stop offset="0.035" stop-color="#e64a19"/><stop offset="0.084" stop-color="#be8532"/><stop offset="0.128" stop-color="#86e262"/><stop offset="0.166" stop-color="#70f878"/><stop offset="0.213" stop-color="#62ee86"/><stop offset="0.279" stop-color="#42c4a6"/><stop offset="0.333" stop-color="#2a76d2"/><stop offset="0.388" stop-color="#42c4a6"/><stop offset="0.454" stop-color="#62ee86"/><stop offset="0.677" stop-color="#70f878"/><stop offset="0.715" stop-color="#86e262"/><stop offset="0.759" stop-color="#be8532"/><stop offset="0.808" stop-color="#e64a19"/><stop offset="1.000" stop-color="#eb4215"/></linearGradient><linearGradient id="g3_53" gradientUnits="userSpaceOnUse" x1="0" y1="619" x2="0" y2="802"><stop offset="0.000" stop-color="#eb4215"/><stop offset="0.055" stop-color="#e64a19"/><stop offset="0.104" stop-color="#be8532"/><stop offset="0.148" stop-color="#86e262"/><stop offset="0.186" stop-color="#70f878"/><stop offset="0.235" stop-color="#62ee86"/><stop offset="0.301" stop-color="#42c4a6"/><stop offset="0.355" stop-color="#2a76d2"/><stop offset="0.410" stop-color="#42c4a6"/><stop offset="0.475" stop-color="#62ee86"/><stop offset="0.684" stop-color="#70f878"/><stop offset="0.722" stop-color="#86e262"/><stop offset="0.766" stop-color="#be8532"/><stop offset="0.815" stop-color="#e64a19"/><stop offset="1.000" stop-color="#eb4215"/></linearGradient><linearGradient id="g3_54" gradientUnits="userSpaceOnUse" x1="0" y1="619" x2="0" y2="802"><stop offset="0.000" stop-color="#eb4215"/><stop offset="0.100" stop-color="#e64a19"/><stop offset="0.149" stop-color="#be8532"/><stop offset="0.193" stop-color="#86e262"/><stop offset="0.231" stop-color="#70f878"/><stop offset="0.260" stop-color="#62ee86"/><stop offset="0.326" stop-color="#42c4a6"/><stop offset="0.380" stop-color="#2a76d2"/><stop offset="0.435" stop-color="#42c4a6"/><stop offset="0.501" stop-color="#62ee86"/><stop offset="0.691" stop-color="#70f878"/><stop offset="0.729" stop-color="#86e262"/><stop offset="0.773" stop-color="#be8532"/><stop offset="0.822" stop-color="#e64a19"/><stop offset="1.000" stop-color="#eb4215"/></linearGradient><linearGradient id="g3_55" gradientUnits="userSpaceOnUse" x1="0" y1="619" x2="0" y2="802"><stop offset="0.000" stop-color="#eb4215"/><stop offset="0.146" stop-color="#e64a19"/><stop offset="0.195" stop-color="#be8532"/><stop offset="0.238" stop-color="#86e262"/><stop offset="0.277" stop-color="#70f878"/><stop offset="0.303" stop-color="#62ee86"/><stop offset="0.369" stop-color="#42c4a6"/><stop offset="0.424" stop-color="#2a76d2"/><stop offset="0.478" stop-color="#42c4a6"/><stop offset="0.544" stop-color="#62ee86"/><stop offset="0.697" stop-color="#70f878"/><stop offset="0.735" stop-color="#86e262"/><stop offset="0.779" stop-color="#be8532"/><stop offset="0.828" stop-color="#e64a19"/><stop offset="1.000" stop-color="#eb4215"/></linearGradient><linearGradient id="g3_56" gradientUnits="userSpaceOnUse" x1="0" y1="619" x2="0" y2="802"><stop offset="0.000" stop-color="#eb4215"/><stop offset="0.191" stop-color="#e64a19"/><stop offset="0.240" stop-color="#be8532"/><stop offset="0.284" stop-color="#86e262"/><stop offset="0.322" stop-color="#70f878"/><stop offset="0.363" stop-color="#62ee86"/><stop offset="0.428" stop-color="#42c4a6"/><stop offset="0.483" stop-color="#2a76d2"/><stop offset="0.538" stop-color="#42c4a6"/><stop offset="0.603" stop-color="#62ee86"/><stop offset="0.702" stop-color="#70f878"/><stop offset="0.740" stop-color="#86e262"/><stop offset="0.784" stop-color="#be8532"/><stop offset="0.833" stop-color="#e64a19"/><stop offset="1.000" stop-color="#eb4215"/></linearGradient><linearGradient id="g3_57" gradientUnits="userSpaceOnUse" x1="0" y1="619" x2="0" y2="802"><stop offset="0.000" stop-color="#eb4215"/><stop offset="0.200" stop-color="#e64a19"/><stop offset="0.249" stop-color="#be8532"/><stop offset="0.293" stop-color="#86e262"/><stop offset="0.331" stop-color="#70f878"/><stop offset="0.449" stop-color="#62ee86"/><stop offset="0.514" stop-color="#42c4a6"/><stop offset="0.569" stop-color="#2a76d2"/><stop offset="0.624" stop-color="#42c4a6"/><stop offset="0.689" stop-color="#62ee86"/><stop offset="0.708" stop-color="#70f878"/><stop offset="0.746" stop-color="#86e262"/><stop offset="0.790" stop-color="#be8532"/><stop offset="0.839" stop-color="#e64a19"/><stop offset="1.000" stop-color="#eb4215"/></linearGradient><linearGradient id="g3_58" gradientUnits="userSpaceOnUse" x1="0" y1="619" x2="0" y2="802"><stop offset="0.000" stop-color="#eb4215"/><stop offset="0.196" stop-color="#e64a19"/><stop offset="0.245" stop-color="#be8532"/><stop offset="0.289" stop-color="#86e262"/><stop offset="0.327" stop-color="#70f878"/><stop offset="0.482" stop-color="#62ee86"/><stop offset="0.547" stop-color="#42c4a6"/><stop offset="0.602" stop-color="#2a76d2"/><stop offset="0.656" stop-color="#42c4a6"/><stop offset="0.722" stop-color="#62ee86"/><stop offset="0.751" stop-color="#86e262"/><stop offset="0.795" stop-color="#be8532"/><stop offset="0.844" stop-color="#e64a19"/><stop offset="1.000" stop-color="#eb4215"/></linearGradient><linearGradient id="g3_59" gradientUnits="userSpaceOnUse" x1="0" y1="619" x2="0" y2="802"><stop offset="0.000" stop-color="#eb4215"/><stop offset="0.193" stop-color="#e64a19"/><stop offset="0.242" stop-color="#be8532"/><stop offset="0.286" stop-color="#86e262"/><stop offset="0.324" stop-color="#70f878"/><stop offset="0.509" stop-color="#62ee86"/><stop offset="0.575" stop-color="#42c4a6"/><stop offset="0.629" stop-color="#2a76d2"/><stop offset="0.684" stop-color="#42c4a6"/><stop offset="0.750" stop-color="#62ee86"/><stop offset="0.801" stop-color="#be8532"/><stop offset="0.850" stop-color="#e64a19"/><stop offset="1.000" stop-color="#eb4215"/></linearGradient><linearGradient id="g3_60" gradientUnits="userSpaceOnUse" x1="0" y1="619" x2="0" y2="802"><stop offset="0.000" stop-color="#eb4215"/><stop offset="0.190" stop-color="#e64a19"/><stop offset="0.239" stop-color="#be8532"/><stop offset="0.283" stop-color="#86e262"/><stop offset="0.321" stop-color="#70f878"/><stop offset="0.521" stop-color="#62ee86"/><stop offset="0.586" stop-color="#42c4a6"/><stop offset="0.641" stop-color="#2a76d2"/><stop offset="0.696" stop-color="#42c4a6"/><stop offset="0.761" stop-color="#62ee86"/><stop offset="0.803" stop-color="#be8532"/><stop offset="0.852" stop-color="#e64a19"/><stop offset="1.000" stop-color="#eb4215"/></linearGradient><linearGradient id="g3_61" gradientUnits="userSpaceOnUse" x1="0" y1="619" x2="0" y2="802"><stop offset="0.000" stop-color="#eb4215"/><stop offset="0.187" stop-color="#e64a19"/><stop offset="0.236" stop-color="#be8532"/><stop offset="0.279" stop-color="#86e262"/><stop offset="0.318" stop-color="#70f878"/><stop offset="0.532" stop-color="#62ee86"/><stop offset="0.598" stop-color="#42c4a6"/><stop offset="0.652" stop-color="#2a76d2"/><stop offset="0.707" stop-color="#42c4a6"/><stop offset="0.773" stop-color="#62ee86"/><stop offset="0.803" stop-color="#be8532"/><stop offset="0.852" stop-color="#e64a19"/><stop offset="1.000" stop-color="#eb4215"/></linearGradient><linearGradient id="g3_62" gradientUnits="userSpaceOnUse" x1="0" y1="619" x2="0" y2="802"><stop offset="0.000" stop-color="#eb4215"/><stop offset="0.183" stop-color="#e64a19"/><stop offset="0.233" stop-color="#be8532"/><stop offset="0.276" stop-color="#86e262"/><stop offset="0.315" stop-color="#70f878"/><stop offset="0.542" stop-color="#62ee86"/><stop offset="0.608" stop-color="#42c4a6"/><stop offset="0.662" stop-color="#2a76d2"/><stop offset="0.717" stop-color="#42c4a6"/><stop offset="0.783" stop-color="#62ee86"/><stop offset="0.803" stop-color="#be8532"/><stop offset="0.852" stop-color="#e64a19"/><stop offset="1.000" stop-color="#eb4215"/></linearGradient><linearGradient id="g3_63" gradientUnits="userSpaceOnUse" x1="0" y1="619" x2="0" y2="802"><stop offset="0.000" stop-color="#eb4215"/><stop offset="0.180" stop-color="#e64a19"/><stop offset="0.230" stop-color="#be8532"/><stop offset="0.273" stop-color="#86e262"/><stop offset="0.311" stop-color="#70f878"/><stop offset="0.544" stop-color="#62ee86"/><stop offset="0.609" stop-color="#42c4a6"/><stop offset="0.664" stop-color="#2a76d2"/><stop offset="0.719" stop-color="#42c4a6"/><stop offset="0.784" stop-color="#62ee86"/><stop offset="0.803" stop-color="#be8532"/><stop offset="0.852" stop-color="#e64a19"/><stop offset="1.000" stop-color="#eb4215"/></linearGradient><linearGradient id="g3_64" gradientUnits="userSpaceOnUse" x1="0" y1="619" x2="0" y2="802"><stop offset="0.000" stop-color="#eb4215"/><stop offset="0.186" stop-color="#e64a19"/><stop offset="0.235" stop-color="#be8532"/><stop offset="0.279" stop-color="#86e262"/><stop offset="0.317" stop-color="#70f878"/><stop offset="0.545" stop-color="#62ee86"/><stop offset="0.611" stop-color="#42c4a6"/><stop offset="0.665" stop-color="#2a76d2"/><stop offset="0.720" stop-color="#42c4a6"/><stop offset="0.786" stop-color="#62ee86"/><stop offset="0.801" stop-color="#be8532"/><stop offset="0.850" stop-color="#e64a19"/><stop offset="1.000" stop-color="#eb4215"/></linearGradient><linearGradient id="g3_65" gradientUnits="userSpaceOnUse" x1="0" y1="619" x2="0" y2="802"><stop offset="0.000" stop-color="#eb4215"/><stop offset="0.192" stop-color="#e64a19"/><stop offset="0.241" stop-color="#be8532"/><stop offset="0.285" stop-color="#86e262"/><stop offset="0.323" stop-color="#70f878"/><stop offset="0.545" stop-color="#62ee86"/><stop offset="0.611" stop-color="#42c4a6"/><stop offset="0.666" stop-color="#2a76d2"/><stop offset="0.720" stop-color="#42c4a6"/><stop offset="0.786" stop-color="#62ee86"/><stop offset="0.846" stop-color="#e64a19"/><stop offset="1.000" stop-color="#eb4215"/></linearGradient><linearGradient id="g3_66" gradientUnits="userSpaceOnUse" x1="0" y1="619" x2="0" y2="802"><stop offset="0.000" stop-color="#eb4215"/><stop offset="0.198" stop-color="#e64a19"/><stop offset="0.247" stop-color="#be8532"/><stop offset="0.291" stop-color="#86e262"/><stop offset="0.329" stop-color="#70f878"/><stop offset="0.544" stop-color="#62ee86"/><stop offset="0.610" stop-color="#42c4a6"/><stop offset="0.664" stop-color="#2a76d2"/><stop offset="0.719" stop-color="#42c4a6"/><stop offset="0.785" stop-color="#62ee86"/><stop offset="0.842" stop-color="#e64a19"/><stop offset="1.000" stop-color="#eb4215"/></linearGradient><linearGradient id="g3_67" gradientUnits="userSpaceOnUse" x1="0" y1="619" x2="0" y2="802"><stop offset="0.000" stop-color="#eb4215"/><stop offset="0.204" stop-color="#e64a19"/><stop offset="0.253" stop-color="#be8532"/><stop offset="0.297" stop-color="#86e262"/><stop offset="0.335" stop-color="#70f878"/><stop offset="0.543" stop-color="#62ee86"/><stop offset="0.608" stop-color="#42c4a6"/><stop offset="0.663" stop-color="#2a76d2"/><stop offset="0.718" stop-color="#42c4a6"/><stop offset="0.783" stop-color="#62ee86"/><stop offset="0.837" stop-color="#e64a19"/><stop offset="1.000" stop-color="#eb4215"/></linearGradient><linearGradient id="g3_68" gradientUnits="userSpaceOnUse" x1="0" y1="619" x2="0" y2="802"><stop offset="0.000" stop-color="#eb4215"/><stop offset="0.210" stop-color="#e64a19"/><stop offset="0.259" stop-color="#be8532"/><stop offset="0.303" stop-color="#86e262"/><stop offset="0.341" stop-color="#70f878"/><stop offset="0.539" stop-color="#62ee86"/><stop offset="0.605" stop-color="#42c4a6"/><stop offset="0.660" stop-color="#2a76d2"/><stop offset="0.714" stop-color="#42c4a6"/><stop offset="0.780" stop-color="#62ee86"/><stop offset="0.833" stop-color="#e64a19"/><stop offset="1.000" stop-color="#eb4215"/></linearGradient><linearGradient id="g3_69" gradientUnits="userSpaceOnUse" x1="0" y1="619" x2="0" y2="802"><stop offset="0.000" stop-color="#eb4215"/><stop offset="0.218" stop-color="#e64a19"/><stop offset="0.267" stop-color="#be8532"/><stop offset="0.311" stop-color="#86e262"/><stop offset="0.349" stop-color="#70f878"/><stop offset="0.531" stop-color="#62ee86"/><stop offset="0.597" stop-color="#42c4a6"/><stop offset="0.651" stop-color="#2a76d2"/><stop offset="0.706" stop-color="#42c4a6"/><stop offset="0.772" stop-color="#62ee86"/><stop offset="0.826" stop-color="#e64a19"/><stop offset="1.000" stop-color="#eb4215"/></linearGradient><linearGradient id="g3_70" gradientUnits="userSpaceOnUse" x1="0" y1="619" x2="0" y2="802"><stop offset="0.000" stop-color="#eb4215"/><stop offset="0.229" stop-color="#e64a19"/><stop offset="0.278" stop-color="#be8532"/><stop offset="0.321" stop-color="#86e262"/><stop offset="0.360" stop-color="#70f878"/><stop offset="0.523" stop-color="#62ee86"/><stop offset="0.589" stop-color="#42c4a6"/><stop offset="0.643" stop-color="#2a76d2"/><stop offset="0.698" stop-color="#42c4a6"/><stop offset="0.763" stop-color="#62ee86"/><stop offset="0.817" stop-color="#e64a19"/><stop offset="1.000" stop-color="#eb4215"/></linearGradient><linearGradient id="g3_71" gradientUnits="userSpaceOnUse" x1="0" y1="619" x2="0" y2="802"><stop offset="0.000" stop-color="#eb4215"/><stop offset="0.239" stop-color="#e64a19"/><stop offset="0.288" stop-color="#be8532"/><stop offset="0.332" stop-color="#86e262"/><stop offset="0.370" stop-color="#70f878"/><stop offset="0.515" stop-color="#62ee86"/><stop offset="0.580" stop-color="#42c4a6"/><stop offset="0.635" stop-color="#2a76d2"/><stop offset="0.689" stop-color="#42c4a6"/><stop offset="0.755" stop-color="#62ee86"/><stop offset="0.809" stop-color="#e64a19"/><stop offset="1.000" stop-color="#eb4215"/></linearGradient><linearGradient id="g3_72" gradientUnits="userSpaceOnUse" x1="0" y1="619" x2="0" y2="802"><stop offset="0.000" stop-color="#eb4215"/><stop offset="0.249" stop-color="#e64a19"/><stop offset="0.298" stop-color="#be8532"/><stop offset="0.342" stop-color="#86e262"/><stop offset="0.380" stop-color="#70f878"/><stop offset="0.505" stop-color="#62ee86"/><stop offset="0.571" stop-color="#42c4a6"/><stop offset="0.625" stop-color="#2a76d2"/><stop offset="0.680" stop-color="#42c4a6"/><stop offset="0.746" stop-color="#62ee86"/><stop offset="0.800" stop-color="#e64a19"/><stop offset="1.000" stop-color="#eb4215"/></linearGradient><linearGradient id="g3_73" gradientUnits="userSpaceOnUse" x1="0" y1="619" x2="0" y2="802"><stop offset="0.000" stop-color="#eb4215"/><stop offset="0.239" stop-color="#e64a19"/><stop offset="0.288" stop-color="#be8532"/><stop offset="0.332" stop-color="#86e262"/><stop offset="0.370" stop-color="#70f878"/><stop offset="0.496" stop-color="#62ee86"/><stop offset="0.562" stop-color="#42c4a6"/><stop offset="0.616" stop-color="#2a76d2"/><stop offset="0.671" stop-color="#42c4a6"/><stop offset="0.736" stop-color="#62ee86"/><stop offset="0.791" stop-color="#e64a19"/><stop offset="1.000" stop-color="#eb4215"/></linearGradient><linearGradient id="g3_74" gradientUnits="userSpaceOnUse" x1="0" y1="619" x2="0" y2="802"><stop offset="0.000" stop-color="#eb4215"/><stop offset="0.167" stop-color="#e64a19"/><stop offset="0.217" stop-color="#be8532"/><stop offset="0.260" stop-color="#86e262"/><stop offset="0.299" stop-color="#70f878"/><stop offset="0.487" stop-color="#62ee86"/><stop offset="0.553" stop-color="#42c4a6"/><stop offset="0.607" stop-color="#2a76d2"/><stop offset="0.662" stop-color="#42c4a6"/><stop offset="0.727" stop-color="#62ee86"/><stop offset="0.783" stop-color="#e64a19"/><stop offset="1.000" stop-color="#eb4215"/></linearGradient><linearGradient id="g3_75" gradientUnits="userSpaceOnUse" x1="0" y1="619" x2="0" y2="802"><stop offset="0.000" stop-color="#eb4215"/><stop offset="0.155" stop-color="#e64a19"/><stop offset="0.204" stop-color="#be8532"/><stop offset="0.248" stop-color="#86e262"/><stop offset="0.286" stop-color="#70f878"/><stop offset="0.480" stop-color="#62ee86"/><stop offset="0.546" stop-color="#42c4a6"/><stop offset="0.601" stop-color="#2a76d2"/><stop offset="0.655" stop-color="#42c4a6"/><stop offset="0.721" stop-color="#62ee86"/><stop offset="0.775" stop-color="#e64a19"/><stop offset="1.000" stop-color="#eb4215"/></linearGradient><linearGradient id="g3_76" gradientUnits="userSpaceOnUse" x1="0" y1="619" x2="0" y2="802"><stop offset="0.000" stop-color="#eb4215"/><stop offset="0.151" stop-color="#e64a19"/><stop offset="0.200" stop-color="#be8532"/><stop offset="0.244" stop-color="#86e262"/><stop offset="0.282" stop-color="#70f878"/><stop offset="0.474" stop-color="#62ee86"/><stop offset="0.539" stop-color="#42c4a6"/><stop offset="0.594" stop-color="#2a76d2"/><stop offset="0.649" stop-color="#42c4a6"/><stop offset="0.714" stop-color="#62ee86"/><stop offset="0.770" stop-color="#e64a19"/><stop offset="1.000" stop-color="#eb4215"/></linearGradient><linearGradient id="g3_77" gradientUnits="userSpaceOnUse" x1="0" y1="619" x2="0" y2="802"><stop offset="0.000" stop-color="#eb4215"/><stop offset="0.147" stop-color="#e64a19"/><stop offset="0.196" stop-color="#be8532"/><stop offset="0.240" stop-color="#86e262"/><stop offset="0.278" stop-color="#70f878"/><stop offset="0.467" stop-color="#62ee86"/><stop offset="0.533" stop-color="#42c4a6"/><stop offset="0.587" stop-color="#2a76d2"/><stop offset="0.642" stop-color="#42c4a6"/><stop offset="0.708" stop-color="#62ee86"/><stop offset="0.766" stop-color="#e64a19"/><stop offset="1.000" stop-color="#eb4215"/></linearGradient><linearGradient id="g3_78" gradientUnits="userSpaceOnUse" x1="0" y1="619" x2="0" y2="802"><stop offset="0.000" stop-color="#eb4215"/><stop offset="0.143" stop-color="#e64a19"/><stop offset="0.192" stop-color="#be8532"/><stop offset="0.236" stop-color="#86e262"/><stop offset="0.274" stop-color="#70f878"/><stop offset="0.461" stop-color="#62ee86"/><stop offset="0.527" stop-color="#42c4a6"/><stop offset="0.582" stop-color="#2a76d2"/><stop offset="0.636" stop-color="#42c4a6"/><stop offset="0.702" stop-color="#62ee86"/><stop offset="0.761" stop-color="#e64a19"/><stop offset="1.000" stop-color="#eb4215"/></linearGradient><linearGradient id="g3_79" gradientUnits="userSpaceOnUse" x1="0" y1="619" x2="0" y2="802"><stop offset="0.000" stop-color="#eb4215"/><stop offset="0.139" stop-color="#e64a19"/><stop offset="0.188" stop-color="#be8532"/><stop offset="0.232" stop-color="#86e262"/><stop offset="0.270" stop-color="#70f878"/><stop offset="0.456" stop-color="#62ee86"/><stop offset="0.522" stop-color="#42c4a6"/><stop offset="0.577" stop-color="#2a76d2"/><stop offset="0.631" stop-color="#42c4a6"/><stop offset="0.697" stop-color="#62ee86"/><stop offset="0.708" stop-color="#be8532"/><stop offset="0.757" stop-color="#e64a19"/><stop offset="1.000" stop-color="#eb4215"/></linearGradient><linearGradient id="g3_80" gradientUnits="userSpaceOnUse" x1="0" y1="619" x2="0" y2="802"><stop offset="0.000" stop-color="#eb4215"/><stop offset="0.135" stop-color="#e64a19"/><stop offset="0.184" stop-color="#be8532"/><stop offset="0.228" stop-color="#86e262"/><stop offset="0.266" stop-color="#70f878"/><stop offset="0.451" stop-color="#62ee86"/><stop offset="0.517" stop-color="#42c4a6"/><stop offset="0.571" stop-color="#2a76d2"/><stop offset="0.626" stop-color="#42c4a6"/><stop offset="0.692" stop-color="#62ee86"/><stop offset="0.703" stop-color="#be8532"/><stop offset="0.753" stop-color="#e64a19"/><stop offset="1.000" stop-color="#eb4215"/></linearGradient><linearGradient id="g3_81" gradientUnits="userSpaceOnUse" x1="0" y1="619" x2="0" y2="802"><stop offset="0.000" stop-color="#eb4215"/><stop offset="0.131" stop-color="#e64a19"/><stop offset="0.180" stop-color="#be8532"/><stop offset="0.224" stop-color="#86e262"/><stop offset="0.262" stop-color="#70f878"/><stop offset="0.448" stop-color="#62ee86"/><stop offset="0.513" stop-color="#42c4a6"/><stop offset="0.568" stop-color="#2a76d2"/><stop offset="0.622" stop-color="#42c4a6"/><stop offset="0.688" stop-color="#62ee86"/><stop offset="0.701" stop-color="#be8532"/><stop offset="0.750" stop-color="#e64a19"/><stop offset="1.000" stop-color="#eb4215"/></linearGradient><linearGradient id="g3_82" gradientUnits="userSpaceOnUse" x1="0" y1="619" x2="0" y2="802"><stop offset="0.000" stop-color="#eb4215"/><stop offset="0.132" stop-color="#e64a19"/><stop offset="0.181" stop-color="#be8532"/><stop offset="0.225" stop-color="#86e262"/><stop offset="0.263" stop-color="#70f878"/><stop offset="0.446" stop-color="#62ee86"/><stop offset="0.512" stop-color="#42c4a6"/><stop offset="0.566" stop-color="#2a76d2"/><stop offset="0.621" stop-color="#42c4a6"/><stop offset="0.686" stop-color="#62ee86"/><stop offset="0.709" stop-color="#be8532"/><stop offset="0.758" stop-color="#e64a19"/><stop offset="1.000" stop-color="#eb4215"/></linearGradient><linearGradient id="g3_83" gradientUnits="userSpaceOnUse" x1="0" y1="619" x2="0" y2="802"><stop offset="0.000" stop-color="#eb4215"/><stop offset="0.133" stop-color="#e64a19"/><stop offset="0.182" stop-color="#be8532"/><stop offset="0.226" stop-color="#86e262"/><stop offset="0.264" stop-color="#70f878"/><stop offset="0.444" stop-color="#62ee86"/><stop offset="0.510" stop-color="#42c4a6"/><stop offset="0.565" stop-color="#2a76d2"/><stop offset="0.619" stop-color="#42c4a6"/><stop offset="0.685" stop-color="#62ee86"/><stop offset="0.718" stop-color="#be8532"/><stop offset="0.767" stop-color="#e64a19"/><stop offset="1.000" stop-color="#eb4215"/></linearGradient><linearGradient id="g3_84" gradientUnits="userSpaceOnUse" x1="0" y1="619" x2="0" y2="802"><stop offset="0.000" stop-color="#eb4215"/><stop offset="0.133" stop-color="#e64a19"/><stop offset="0.183" stop-color="#be8532"/><stop offset="0.226" stop-color="#86e262"/><stop offset="0.264" stop-color="#70f878"/><stop offset="0.443" stop-color="#62ee86"/><stop offset="0.508" stop-color="#42c4a6"/><stop offset="0.563" stop-color="#2a76d2"/><stop offset="0.618" stop-color="#42c4a6"/><stop offset="0.683" stop-color="#62ee86"/><stop offset="0.727" stop-color="#be8532"/><stop offset="0.776" stop-color="#e64a19"/><stop offset="1.000" stop-color="#eb4215"/></linearGradient><linearGradient id="g3_85" gradientUnits="userSpaceOnUse" x1="0" y1="619" x2="0" y2="802"><stop offset="0.000" stop-color="#eb4215"/><stop offset="0.134" stop-color="#e64a19"/><stop offset="0.183" stop-color="#be8532"/><stop offset="0.227" stop-color="#86e262"/><stop offset="0.265" stop-color="#70f878"/><stop offset="0.438" stop-color="#62ee86"/><stop offset="0.503" stop-color="#42c4a6"/><stop offset="0.558" stop-color="#2a76d2"/><stop offset="0.613" stop-color="#42c4a6"/><stop offset="0.678" stop-color="#62ee86"/><stop offset="0.724" stop-color="#be8532"/><stop offset="0.774" stop-color="#e64a19"/><stop offset="1.000" stop-color="#eb4215"/></linearGradient><linearGradient id="g3_86" gradientUnits="userSpaceOnUse" x1="0" y1="619" x2="0" y2="802"><stop offset="0.000" stop-color="#eb4215"/><stop offset="0.135" stop-color="#e64a19"/><stop offset="0.184" stop-color="#be8532"/><stop offset="0.228" stop-color="#86e262"/><stop offset="0.266" stop-color="#70f878"/><stop offset="0.432" stop-color="#62ee86"/><stop offset="0.497" stop-color="#42c4a6"/><stop offset="0.552" stop-color="#2a76d2"/><stop offset="0.606" stop-color="#42c4a6"/><stop offset="0.672" stop-color="#62ee86"/><stop offset="0.722" stop-color="#be8532"/><stop offset="0.771" stop-color="#e64a19"/><stop offset="1.000" stop-color="#eb4215"/></linearGradient><linearGradient id="g3_87" gradientUnits="userSpaceOnUse" x1="0" y1="619" x2="0" y2="802"><stop offset="0.000" stop-color="#eb4215"/><stop offset="0.136" stop-color="#e64a19"/><stop offset="0.185" stop-color="#be8532"/><stop offset="0.228" stop-color="#86e262"/><stop offset="0.267" stop-color="#70f878"/><stop offset="0.421" stop-color="#62ee86"/><stop offset="0.487" stop-color="#42c4a6"/><stop offset="0.542" stop-color="#2a76d2"/><stop offset="0.596" stop-color="#42c4a6"/><stop offset="0.662" stop-color="#62ee86"/><stop offset="0.676" stop-color="#86e262"/><stop offset="0.720" stop-color="#be8532"/><stop offset="0.769" stop-color="#e64a19"/><stop offset="1.000" stop-color="#eb4215"/></linearGradient><linearGradient id="g3_88" gradientUnits="userSpaceOnUse" x1="0" y1="619" x2="0" y2="802"><stop offset="0.000" stop-color="#eb4215"/><stop offset="0.136" stop-color="#e64a19"/><stop offset="0.185" stop-color="#be8532"/><stop offset="0.229" stop-color="#86e262"/><stop offset="0.267" stop-color="#70f878"/><stop offset="0.408" stop-color="#62ee86"/><stop offset="0.474" stop-color="#42c4a6"/><stop offset="0.528" stop-color="#2a76d2"/><stop offset="0.583" stop-color="#42c4a6"/><stop offset="0.649" stop-color="#62ee86"/><stop offset="0.674" stop-color="#86e262"/><stop offset="0.718" stop-color="#be8532"/><stop offset="0.767" stop-color="#e64a19"/><stop offset="1.000" stop-color="#eb4215"/></linearGradient><linearGradient id="g3_89" gradientUnits="userSpaceOnUse" x1="0" y1="619" x2="0" y2="802"><stop offset="0.000" stop-color="#eb4215"/><stop offset="0.140" stop-color="#e64a19"/><stop offset="0.190" stop-color="#be8532"/><stop offset="0.233" stop-color="#86e262"/><stop offset="0.272" stop-color="#70f878"/><stop offset="0.393" stop-color="#62ee86"/><stop offset="0.459" stop-color="#42c4a6"/><stop offset="0.514" stop-color="#2a76d2"/><stop offset="0.568" stop-color="#42c4a6"/><stop offset="0.634" stop-color="#62ee86"/><stop offset="0.669" stop-color="#86e262"/><stop offset="0.712" stop-color="#be8532"/><stop offset="0.762" stop-color="#e64a19"/><stop offset="1.000" stop-color="#eb4215"/></linearGradient><linearGradient id="g3_90" gradientUnits="userSpaceOnUse" x1="0" y1="619" x2="0" y2="802"><stop offset="0.000" stop-color="#eb4215"/><stop offset="0.148" stop-color="#e64a19"/><stop offset="0.197" stop-color="#be8532"/><stop offset="0.241" stop-color="#86e262"/><stop offset="0.279" stop-color="#70f878"/><stop offset="0.376" stop-color="#62ee86"/><stop offset="0.442" stop-color="#42c4a6"/><stop offset="0.496" stop-color="#2a76d2"/><stop offset="0.551" stop-color="#42c4a6"/><stop offset="0.616" stop-color="#62ee86"/><stop offset="0.655" stop-color="#86e262"/><stop offset="0.698" stop-color="#be8532"/><stop offset="0.748" stop-color="#e64a19"/><stop offset="1.000" stop-color="#eb4215"/></linearGradient><linearGradient id="g3_91" gradientUnits="userSpaceOnUse" x1="0" y1="619" x2="0" y2="802"><stop offset="0.000" stop-color="#eb4215"/><stop offset="0.156" stop-color="#e64a19"/><stop offset="0.205" stop-color="#be8532"/><stop offset="0.249" stop-color="#86e262"/><stop offset="0.287" stop-color="#70f878"/><stop offset="0.358" stop-color="#62ee86"/><stop offset="0.424" stop-color="#42c4a6"/><stop offset="0.478" stop-color="#2a76d2"/><stop offset="0.533" stop-color="#42c4a6"/><stop offset="0.598" stop-color="#62ee86"/><stop offset="0.641" stop-color="#86e262"/><stop offset="0.684" stop-color="#be8532"/><stop offset="0.734" stop-color="#e64a19"/><stop offset="1.000" stop-color="#eb4215"/></linearGradient><linearGradient id="g3_92" gradientUnits="userSpaceOnUse" x1="0" y1="619" x2="0" y2="802"><stop offset="0.000" stop-color="#eb4215"/><stop offset="0.163" stop-color="#e64a19"/><stop offset="0.213" stop-color="#be8532"/><stop offset="0.256" stop-color="#86e262"/><stop offset="0.295" stop-color="#70f878"/><stop offset="0.334" stop-color="#62ee86"/><stop offset="0.400" stop-color="#42c4a6"/><stop offset="0.454" stop-color="#2a76d2"/><stop offset="0.509" stop-color="#42c4a6"/><stop offset="0.575" stop-color="#62ee86"/><stop offset="0.590" stop-color="#70f878"/><stop offset="0.628" stop-color="#86e262"/><stop offset="0.672" stop-color="#be8532"/><stop offset="0.721" stop-color="#e64a19"/><stop offset="1.000" stop-color="#eb4215"/></linearGradient><linearGradient id="g3_93" gradientUnits="userSpaceOnUse" x1="0" y1="619" x2="0" y2="802"><stop offset="0.000" stop-color="#eb4215"/><stop offset="0.171" stop-color="#e64a19"/><stop offset="0.220" stop-color="#be8532"/><stop offset="0.264" stop-color="#86e262"/><stop offset="0.310" stop-color="#62ee86"/><stop offset="0.376" stop-color="#42c4a6"/><stop offset="0.430" stop-color="#2a76d2"/><stop offset="0.485" stop-color="#42c4a6"/><stop offset="0.551" stop-color="#62ee86"/><stop offset="0.586" stop-color="#70f878"/><stop offset="0.624" stop-color="#86e262"/><stop offset="0.668" stop-color="#be8532"/><stop offset="0.717" stop-color="#e64a19"/><stop offset="1.000" stop-color="#eb4215"/></linearGradient><linearGradient id="g3_94" gradientUnits="userSpaceOnUse" x1="0" y1="619" x2="0" y2="802"><stop offset="0.000" stop-color="#eb4215"/><stop offset="0.176" stop-color="#e64a19"/><stop offset="0.225" stop-color="#be8532"/><stop offset="0.269" stop-color="#86e262"/><stop offset="0.293" stop-color="#62ee86"/><stop offset="0.358" stop-color="#42c4a6"/><stop offset="0.413" stop-color="#2a76d2"/><stop offset="0.467" stop-color="#42c4a6"/><stop offset="0.533" stop-color="#62ee86"/><stop offset="0.583" stop-color="#70f878"/><stop offset="0.621" stop-color="#86e262"/><stop offset="0.665" stop-color="#be8532"/><stop offset="0.714" stop-color="#e64a19"/><stop offset="1.000" stop-color="#eb4215"/></linearGradient><linearGradient id="g3_95" gradientUnits="userSpaceOnUse" x1="0" y1="619" x2="0" y2="802"><stop offset="0.000" stop-color="#eb4215"/><stop offset="0.176" stop-color="#e64a19"/><stop offset="0.225" stop-color="#be8532"/><stop offset="0.269" stop-color="#86e262"/><stop offset="0.293" stop-color="#62ee86"/><stop offset="0.358" stop-color="#42c4a6"/><stop offset="0.413" stop-color="#2a76d2"/><stop offset="0.467" stop-color="#42c4a6"/><stop offset="0.533" stop-color="#62ee86"/><stop offset="0.583" stop-color="#70f878"/><stop offset="0.621" stop-color="#86e262"/><stop offset="0.665" stop-color="#be8532"/><stop offset="0.714" stop-color="#e64a19"/><stop offset="1.000" stop-color="#eb4215"/></linearGradient><linearGradient id="g3_96" gradientUnits="userSpaceOnUse" x1="0" y1="619" x2="0" y2="802"><stop offset="0.000" stop-color="#eb4215"/><stop offset="0.176" stop-color="#e64a19"/><stop offset="0.225" stop-color="#be8532"/><stop offset="0.269" stop-color="#86e262"/><stop offset="0.293" stop-color="#62ee86"/><stop offset="0.358" stop-color="#42c4a6"/><stop offset="0.413" stop-color="#2a76d2"/><stop offset="0.467" stop-color="#42c4a6"/><stop offset="0.533" stop-color="#62ee86"/><stop offset="0.583" stop-color="#70f878"/><stop offset="0.621" stop-color="#86e262"/><stop offset="0.665" stop-color="#be8532"/><stop offset="0.714" stop-color="#e64a19"/><stop offset="1.000" stop-color="#eb4215"/></linearGradient><linearGradient id="g3_97" gradientUnits="userSpaceOnUse" x1="0" y1="619" x2="0" y2="802"><stop offset="0.000" stop-color="#eb4215"/><stop offset="0.176" stop-color="#e64a19"/><stop offset="0.225" stop-color="#be8532"/><stop offset="0.269" stop-color="#86e262"/><stop offset="0.293" stop-color="#62ee86"/><stop offset="0.358" stop-color="#42c4a6"/><stop offset="0.413" stop-color="#2a76d2"/><stop offset="0.467" stop-color="#42c4a6"/><stop offset="0.533" stop-color="#62ee86"/><stop offset="0.583" stop-color="#70f878"/><stop offset="0.621" stop-color="#86e262"/><stop offset="0.665" stop-color="#be8532"/><stop offset="0.714" stop-color="#e64a19"/><stop offset="1.000" stop-color="#eb4215"/></linearGradient><linearGradient id="g3_98" gradientUnits="userSpaceOnUse" x1="0" y1="619" x2="0" y2="802"><stop offset="0.000" stop-color="#eb4215"/><stop offset="0.176" stop-color="#e64a19"/><stop offset="0.225" stop-color="#be8532"/><stop offset="0.269" stop-color="#86e262"/><stop offset="0.293" stop-color="#62ee86"/><stop offset="0.358" stop-color="#42c4a6"/><stop offset="0.413" stop-color="#2a76d2"/><stop offset="0.467" stop-color="#42c4a6"/><stop offset="0.533" stop-color="#62ee86"/><stop offset="0.583" stop-color="#70f878"/><stop offset="0.621" stop-color="#86e262"/><stop offset="0.665" stop-color="#be8532"/><stop offset="0.714" stop-color="#e64a19"/><stop offset="1.000" stop-color="#eb4215"/></linearGradient><linearGradient id="wedgeR" x1="0" y1="0" x2="1" y2="0.3"><stop offset="0" stop-color="#ff0a00"/><stop offset="0.35" stop-color="#ff1a00"/><stop offset="0.75" stop-color="#d09038" stop-opacity="0.8"/><stop offset="1" stop-color="#a0d050" stop-opacity="0"/></linearGradient><filter id="tex2" filterUnits="userSpaceOnUse" x="70" y="350" width="750" height="200" color-interpolation-filters="sRGB"><feGaussianBlur in="SourceAlpha" stdDeviation="3" result="p"/><feTurbulence type="fractalNoise" baseFrequency="0.05 0.11" numOctaves="3" seed="7" result="n"/><feColorMatrix in="n" type="matrix" values="0 0 0 0 0  0 0 0 0 0  0 0 0 0 0  1.6 0 0 0 -0.3" result="na"/><feComposite in="p" in2="na" operator="arithmetic" k1="0" k2="1" k3="1.0" k4="-0.5" result="sum"/><feComponentTransfer in="sum" result="thr"><feFuncA type="discrete" tableValues="0 1"/></feComponentTransfer><feFlood flood-color="#848484"/><feComposite in2="thr" operator="in"/></filter><linearGradient id="blobR" x1="0" y1="0" x2="1" y2="0.4"><stop offset="0" stop-color="#ff0800"/><stop offset="0.55" stop-color="#ff1000"/><stop offset="1" stop-color="#e08a30"/></linearGradient><linearGradient id="stemG" x1="0" y1="0" x2="0" y2="1"><stop offset="0" stop-color="#ff1000"/><stop offset="0.45" stop-color="#f04818"/><stop offset="0.8" stop-color="#d0a040"/><stop offset="1" stop-color="#a8d050"/></linearGradient><linearGradient id="bootG" x1="0" y1="0" x2="0.3" y2="1"><stop offset="0" stop-color="#d8a830"/><stop offset="0.35" stop-color="#d0a030"/><stop offset="0.7" stop-color="#a8d040"/><stop offset="1" stop-color="#c8a838"/></linearGradient><linearGradient id="holeG" x1="0" y1="0" x2="1" y2="0.3"><stop offset="0" stop-color="#e84020"/><stop offset="0.5" stop-color="#c8a040"/><stop offset="1" stop-color="#a0d040"/></linearGradient><linearGradient id="blRed" x1="0" y1="0" x2="0.6" y2="1"><stop offset="0" stop-color="#ff1208"/><stop offset="0.45" stop-color="#f82c10"/><stop offset="1" stop-color="#e54a1a"/></linearGradient><linearGradient id="topR" x1="0" y1="0" x2="0" y2="1"><stop offset="0" stop-color="#e84018"/><stop offset="0.25" stop-color="#ff0800"/><stop offset="1" stop-color="#ff0800"/></linearGradient><clipPath id="grayclip"><polygon points="80,374 96.8,372 115.6,370 130.7,370.6 159,373 176,377.7 191,385 209.8,391.8 228.6,395.6 240,393.7 253,391 243.6,385 247.4,380.5 256.8,379.2 271.3,385.2 293.9,379.6 314.6,376.8 335.3,374 363.5,373 369.2,371.1 410.6,369.2 440,368.3 458.8,367.4 515.3,369.2 521,374 517,381.5 522.8,389 534,393.7 553,397.5 566,402.2 566,419 562.4,421 564.2,445.5 562.4,460.5 579.3,460.5 581.2,441.7 605.6,439.8 618.8,426.6 620,421 642.6,414.4 657.6,414.4 682,422.9 701,431.4 714,434.2 736.7,434.2 751.8,424.8 751.8,415.4 733,406 725.4,397.5 695.3,406 657.6,407.8 638.8,406.9 627.5,402.2 648.2,391.8 676.5,390.9 693.4,381.5 714,376.8 738.6,386.2 770.6,386.2 789.4,381.5 800.7,376.8 806,375 806,505 800.7,504.8 774.4,512.3 755.5,513.2 751.8,516 701,516 680.2,512.3 654,513.2 642.6,518 620,520.8 609.4,522.6 587,525.5 534,526.4 506,523.6 487,520.8 468,517 440,515 416.2,512.3 391.8,515.1 371,517 354,520.8 260,520.8 234,520.8 209.8,518 191,516 172,513.2 140,510.4 127,503.8 118.5,496.3 123.2,488.8 125,481 110,483 96.8,490.6 75,502 75,374"/></clipPath><linearGradient id="g4_0" gradientUnits="userSpaceOnUse" x1="0" y1="879" x2="0" y2="1062"><stop offset="0.000" stop-color="#f0f00f"/><stop offset="0.397" stop-color="#b2b24d"/><stop offset="0.468" stop-color="#999966"/><stop offset="0.550" stop-color="#75758a"/><stop offset="0.628" stop-color="#5757a8"/><stop offset="0.749" stop-color="#4242bd"/><stop offset="0.842" stop-color="#1c1ce3"/><stop offset="1.000" stop-color="#0000ff"/></linearGradient><linearGradient id="g4_1" gradientUnits="userSpaceOnUse" x1="0" y1="879" x2="0" y2="1062"><stop offset="0.000" stop-color="#f0f00f"/><stop offset="0.397" stop-color="#b2b24d"/><stop offset="0.468" stop-color="#999966"/><stop offset="0.550" stop-color="#75758a"/><stop offset="0.628" stop-color="#5757a8"/><stop offset="0.749" stop-color="#4242bd"/><stop offset="0.842" stop-color="#1c1ce3"/><stop offset="1.000" stop-color="#0000ff"/></linearGradient><linearGradient id="g4_2" gradientUnits="userSpaceOnUse" x1="0" y1="879" x2="0" y2="1062"><stop offset="0.000" stop-color="#f0f00f"/><stop offset="0.397" stop-color="#b2b24d"/><stop offset="0.468" stop-color="#999966"/><stop offset="0.550" stop-color="#75758a"/><stop offset="0.628" stop-color="#5757a8"/><stop offset="0.749" stop-color="#4242bd"/><stop offset="0.842" stop-color="#1c1ce3"/><stop offset="1.000" stop-color="#0000ff"/></linearGradient><linearGradient id="g4_3" gradientUnits="userSpaceOnUse" x1="0" y1="879" x2="0" y2="1062"><stop offset="0.000" stop-color="#f0f00f"/><stop offset="0.397" stop-color="#b2b24d"/><stop offset="0.468" stop-color="#999966"/><stop offset="0.550" stop-color="#75758a"/><stop offset="0.628" stop-color="#5757a8"/><stop offset="0.749" stop-color="#4242bd"/><stop offset="0.842" stop-color="#1c1ce3"/><stop offset="1.000" stop-color="#0000ff"/></linearGradient><linearGradient id="g4_4" gradientUnits="userSpaceOnUse" x1="0" y1="879" x2="0" y2="1062"><stop offset="0.000" stop-color="#f0f00f"/><stop offset="0.386" stop-color="#b2b24d"/><stop offset="0.457" stop-color="#999966"/><stop offset="0.539" stop-color="#75758a"/><stop offset="0.628" stop-color="#5757a8"/><stop offset="0.749" stop-color="#4242bd"/><stop offset="0.842" stop-color="#1c1ce3"/><stop offset="1.000" stop-color="#0000ff"/></linearGradient><linearGradient id="g4_5" gradientUnits="userSpaceOnUse" x1="0" y1="879" x2="0" y2="1062"><stop offset="0.000" stop-color="#f0f00f"/><stop offset="0.364" stop-color="#b2b24d"/><stop offset="0.436" stop-color="#999966"/><stop offset="0.517" stop-color="#75758a"/><stop offset="0.628" stop-color="#5757a8"/><stop offset="0.749" stop-color="#4242bd"/><stop offset="0.842" stop-color="#1c1ce3"/><stop offset="1.000" stop-color="#0000ff"/></linearGradient><linearGradient id="g4_6" gradientUnits="userSpaceOnUse" x1="0" y1="879" x2="0" y2="1062"><stop offset="0.000" stop-color="#f0f00f"/><stop offset="0.349" stop-color="#b2b24d"/><stop offset="0.421" stop-color="#999966"/><stop offset="0.502" stop-color="#75758a"/><stop offset="0.628" stop-color="#5757a8"/><stop offset="0.749" stop-color="#4242bd"/><stop offset="0.842" stop-color="#1c1ce3"/><stop offset="1.000" stop-color="#0000ff"/></linearGradient><linearGradient id="g4_7" gradientUnits="userSpaceOnUse" x1="0" y1="879" x2="0" y2="1062"><stop offset="0.000" stop-color="#f0f00f"/><stop offset="0.341" stop-color="#b2b24d"/><stop offset="0.412" stop-color="#999966"/><stop offset="0.494" stop-color="#75758a"/><stop offset="0.628" stop-color="#5757a8"/><stop offset="0.749" stop-color="#4242bd"/><stop offset="0.842" stop-color="#1c1ce3"/><stop offset="1.000" stop-color="#0000ff"/></linearGradient><linearGradient id="g4_8" gradientUnits="userSpaceOnUse" x1="0" y1="879" x2="0" y2="1062"><stop offset="0.000" stop-color="#f0f00f"/><stop offset="0.334" stop-color="#b2b24d"/><stop offset="0.405" stop-color="#999966"/><stop offset="0.487" stop-color="#75758a"/><stop offset="0.628" stop-color="#5757a8"/><stop offset="0.749" stop-color="#4242bd"/><stop offset="0.842" stop-color="#1c1ce3"/><stop offset="1.000" stop-color="#0000ff"/></linearGradient><linearGradient id="g4_9" gradientUnits="userSpaceOnUse" x1="0" y1="879" x2="0" y2="1062"><stop offset="0.000" stop-color="#f0f00f"/><stop offset="0.334" stop-color="#b2b24d"/><stop offset="0.405" stop-color="#999966"/><stop offset="0.487" stop-color="#75758a"/><stop offset="0.628" stop-color="#5757a8"/><stop offset="0.749" stop-color="#4242bd"/><stop offset="0.842" stop-color="#1c1ce3"/><stop offset="1.000" stop-color="#0000ff"/></linearGradient><linearGradient id="g4_10" gradientUnits="userSpaceOnUse" x1="0" y1="879" x2="0" y2="1062"><stop offset="0.000" stop-color="#f0f00f"/><stop offset="0.334" stop-color="#b2b24d"/><stop offset="0.405" stop-color="#999966"/><stop offset="0.487" stop-color="#75758a"/><stop offset="0.628" stop-color="#5757a8"/><stop offset="0.749" stop-color="#4242bd"/><stop offset="0.842" stop-color="#1c1ce3"/><stop offset="1.000" stop-color="#0000ff"/></linearGradient><linearGradient id="g4_11" gradientUnits="userSpaceOnUse" x1="0" y1="879" x2="0" y2="1062"><stop offset="0.000" stop-color="#f0f00f"/><stop offset="0.334" stop-color="#b2b24d"/><stop offset="0.405" stop-color="#999966"/><stop offset="0.487" stop-color="#75758a"/><stop offset="0.628" stop-color="#5757a8"/><stop offset="0.749" stop-color="#4242bd"/><stop offset="0.842" stop-color="#1c1ce3"/><stop offset="1.000" stop-color="#0000ff"/></linearGradient><linearGradient id="g4_12" gradientUnits="userSpaceOnUse" x1="0" y1="879" x2="0" y2="1062"><stop offset="0.000" stop-color="#f0f00f"/><stop offset="0.344" stop-color="#b2b24d"/><stop offset="0.415" stop-color="#999966"/><stop offset="0.497" stop-color="#75758a"/><stop offset="0.628" stop-color="#5757a8"/><stop offset="0.749" stop-color="#4242bd"/><stop offset="0.842" stop-color="#1c1ce3"/><stop offset="1.000" stop-color="#0000ff"/></linearGradient><linearGradient id="g4_13" gradientUnits="userSpaceOnUse" x1="0" y1="879" x2="0" y2="1062"><stop offset="0.000" stop-color="#f0f00f"/><stop offset="0.356" stop-color="#b2b24d"/><stop offset="0.427" stop-color="#999966"/><stop offset="0.509" stop-color="#75758a"/><stop offset="0.628" stop-color="#5757a8"/><stop offset="0.749" stop-color="#4242bd"/><stop offset="0.842" stop-color="#1c1ce3"/><stop offset="1.000" stop-color="#0000ff"/></linearGradient><linearGradient id="g4_14" gradientUnits="userSpaceOnUse" x1="0" y1="879" x2="0" y2="1062"><stop offset="0.000" stop-color="#f0f00f"/><stop offset="0.369" stop-color="#b2b24d"/><stop offset="0.440" stop-color="#999966"/><stop offset="0.522" stop-color="#75758a"/><stop offset="0.628" stop-color="#5757a8"/><stop offset="0.749" stop-color="#4242bd"/><stop offset="0.842" stop-color="#1c1ce3"/><stop offset="1.000" stop-color="#0000ff"/></linearGradient><linearGradient id="g4_15" gradientUnits="userSpaceOnUse" x1="0" y1="879" x2="0" y2="1062"><stop offset="0.000" stop-color="#f0f00f"/><stop offset="0.387" stop-color="#b2b24d"/><stop offset="0.458" stop-color="#999966"/><stop offset="0.540" stop-color="#75758a"/><stop offset="0.628" stop-color="#5757a8"/><stop offset="0.749" stop-color="#4242bd"/><stop offset="0.842" stop-color="#1c1ce3"/><stop offset="1.000" stop-color="#0000ff"/></linearGradient><linearGradient id="g4_16" gradientUnits="userSpaceOnUse" x1="0" y1="879" x2="0" y2="1062"><stop offset="0.000" stop-color="#f0f00f"/><stop offset="0.409" stop-color="#b2b24d"/><stop offset="0.480" stop-color="#999966"/><stop offset="0.562" stop-color="#75758a"/><stop offset="0.628" stop-color="#5757a8"/><stop offset="0.749" stop-color="#4242bd"/><stop offset="0.842" stop-color="#1c1ce3"/><stop offset="1.000" stop-color="#0000ff"/></linearGradient><linearGradient id="g4_17" gradientUnits="userSpaceOnUse" x1="0" y1="879" x2="0" y2="1062"><stop offset="0.000" stop-color="#f0f00f"/><stop offset="0.431" stop-color="#b2b24d"/><stop offset="0.502" stop-color="#999966"/><stop offset="0.584" stop-color="#75758a"/><stop offset="0.632" stop-color="#5757a8"/><stop offset="0.752" stop-color="#4242bd"/><stop offset="0.845" stop-color="#1c1ce3"/><stop offset="1.000" stop-color="#0000ff"/></linearGradient><linearGradient id="g4_18" gradientUnits="userSpaceOnUse" x1="0" y1="879" x2="0" y2="1062"><stop offset="0.000" stop-color="#f0f00f"/><stop offset="0.452" stop-color="#b2b24d"/><stop offset="0.523" stop-color="#999966"/><stop offset="0.605" stop-color="#75758a"/><stop offset="0.635" stop-color="#5757a8"/><stop offset="0.755" stop-color="#4242bd"/><stop offset="0.848" stop-color="#1c1ce3"/><stop offset="1.000" stop-color="#0000ff"/></linearGradient><linearGradient id="g4_19" gradientUnits="userSpaceOnUse" x1="0" y1="879" x2="0" y2="1062"><stop offset="0.000" stop-color="#f0f00f"/><stop offset="0.474" stop-color="#b2b24d"/><stop offset="0.545" stop-color="#999966"/><stop offset="0.627" stop-color="#75758a"/><stop offset="0.638" stop-color="#5757a8"/><stop offset="0.758" stop-color="#4242bd"/><stop offset="0.851" stop-color="#1c1ce3"/><stop offset="1.000" stop-color="#0000ff"/></linearGradient><linearGradient id="g4_20" gradientUnits="userSpaceOnUse" x1="0" y1="879" x2="0" y2="1062"><stop offset="0.000" stop-color="#f0f00f"/><stop offset="0.491" stop-color="#b2b24d"/><stop offset="0.562" stop-color="#999966"/><stop offset="0.644" stop-color="#75758a"/><stop offset="0.762" stop-color="#4242bd"/><stop offset="0.855" stop-color="#1c1ce3"/><stop offset="1.000" stop-color="#0000ff"/></linearGradient><linearGradient id="g4_21" gradientUnits="userSpaceOnUse" x1="0" y1="879" x2="0" y2="1062"><stop offset="0.000" stop-color="#f0f00f"/><stop offset="0.505" stop-color="#b2b24d"/><stop offset="0.576" stop-color="#999966"/><stop offset="0.658" stop-color="#75758a"/><stop offset="0.765" stop-color="#4242bd"/><stop offset="0.858" stop-color="#1c1ce3"/><stop offset="1.000" stop-color="#0000ff"/></linearGradient><linearGradient id="g4_22" gradientUnits="userSpaceOnUse" x1="0" y1="879" x2="0" y2="1062"><stop offset="0.000" stop-color="#f0f00f"/><stop offset="0.520" stop-color="#b2b24d"/><stop offset="0.591" stop-color="#999966"/><stop offset="0.673" stop-color="#75758a"/><stop offset="0.768" stop-color="#4242bd"/><stop offset="0.861" stop-color="#1c1ce3"/><stop offset="1.000" stop-color="#0000ff"/></linearGradient><linearGradient id="g4_23" gradientUnits="userSpaceOnUse" x1="0" y1="879" x2="0" y2="1062"><stop offset="0.000" stop-color="#f0f00f"/><stop offset="0.527" stop-color="#b2b24d"/><stop offset="0.598" stop-color="#999966"/><stop offset="0.680" stop-color="#75758a"/><stop offset="0.772" stop-color="#4242bd"/><stop offset="0.864" stop-color="#1c1ce3"/><stop offset="1.000" stop-color="#0000ff"/></linearGradient><linearGradient id="g4_24" gradientUnits="userSpaceOnUse" x1="0" y1="879" x2="0" y2="1062"><stop offset="0.000" stop-color="#f0f00f"/><stop offset="0.534" stop-color="#b2b24d"/><stop offset="0.606" stop-color="#999966"/><stop offset="0.687" stop-color="#75758a"/><stop offset="0.775" stop-color="#4242bd"/><stop offset="0.868" stop-color="#1c1ce3"/><stop offset="1.000" stop-color="#0000ff"/></linearGradient><linearGradient id="g4_25" gradientUnits="userSpaceOnUse" x1="0" y1="879" x2="0" y2="1062"><stop offset="0.000" stop-color="#f0f00f"/><stop offset="0.539" stop-color="#b2b24d"/><stop offset="0.610" stop-color="#999966"/><stop offset="0.692" stop-color="#75758a"/><stop offset="0.778" stop-color="#4242bd"/><stop offset="0.871" stop-color="#1c1ce3"/><stop offset="1.000" stop-color="#0000ff"/></linearGradient><linearGradient id="g4_26" gradientUnits="userSpaceOnUse" x1="0" y1="879" x2="0" y2="1062"><stop offset="0.000" stop-color="#f0f00f"/><stop offset="0.537" stop-color="#b2b24d"/><stop offset="0.608" stop-color="#999966"/><stop offset="0.690" stop-color="#75758a"/><stop offset="0.781" stop-color="#4242bd"/><stop offset="0.874" stop-color="#1c1ce3"/><stop offset="1.000" stop-color="#0000ff"/></linearGradient><linearGradient id="g4_27" gradientUnits="userSpaceOnUse" x1="0" y1="879" x2="0" y2="1062"><stop offset="0.000" stop-color="#f0f00f"/><stop offset="0.535" stop-color="#b2b24d"/><stop offset="0.606" stop-color="#999966"/><stop offset="0.688" stop-color="#75758a"/><stop offset="0.785" stop-color="#4242bd"/><stop offset="0.878" stop-color="#1c1ce3"/><stop offset="1.000" stop-color="#0000ff"/></linearGradient><linearGradient id="g4_28" gradientUnits="userSpaceOnUse" x1="0" y1="879" x2="0" y2="1062"><stop offset="0.000" stop-color="#f0f00f"/><stop offset="0.534" stop-color="#b2b24d"/><stop offset="0.605" stop-color="#999966"/><stop offset="0.687" stop-color="#75758a"/><stop offset="0.788" stop-color="#4242bd"/><stop offset="0.881" stop-color="#1c1ce3"/><stop offset="1.000" stop-color="#0000ff"/></linearGradient><linearGradient id="g4_29" gradientUnits="userSpaceOnUse" x1="0" y1="879" x2="0" y2="1062"><stop offset="0.000" stop-color="#f0f00f"/><stop offset="0.519" stop-color="#b2b24d"/><stop offset="0.590" stop-color="#999966"/><stop offset="0.672" stop-color="#75758a"/><stop offset="0.791" stop-color="#4242bd"/><stop offset="0.884" stop-color="#1c1ce3"/><stop offset="1.000" stop-color="#0000ff"/></linearGradient><linearGradient id="g4_30" gradientUnits="userSpaceOnUse" x1="0" y1="879" x2="0" y2="1062"><stop offset="0.000" stop-color="#f0f00f"/><stop offset="0.500" stop-color="#b2b24d"/><stop offset="0.571" stop-color="#999966"/><stop offset="0.653" stop-color="#75758a"/><stop offset="0.674" stop-color="#5757a8"/><stop offset="0.795" stop-color="#4242bd"/><stop offset="0.887" stop-color="#1c1ce3"/><stop offset="1.000" stop-color="#0000ff"/></linearGradient><linearGradient id="g4_31" gradientUnits="userSpaceOnUse" x1="0" y1="879" x2="0" y2="1062"><stop offset="0.000" stop-color="#f0f00f"/><stop offset="0.441" stop-color="#b2b24d"/><stop offset="0.512" stop-color="#999966"/><stop offset="0.594" stop-color="#75758a"/><stop offset="0.678" stop-color="#5757a8"/><stop offset="0.798" stop-color="#4242bd"/><stop offset="0.891" stop-color="#1c1ce3"/><stop offset="1.000" stop-color="#0000ff"/></linearGradient><linearGradient id="g4_32" gradientUnits="userSpaceOnUse" x1="0" y1="879" x2="0" y2="1062"><stop offset="0.000" stop-color="#f0f00f"/><stop offset="0.386" stop-color="#b2b24d"/><stop offset="0.457" stop-color="#999966"/><stop offset="0.539" stop-color="#75758a"/><stop offset="0.678" stop-color="#5757a8"/><stop offset="0.798" stop-color="#4242bd"/><stop offset="0.891" stop-color="#1c1ce3"/><stop offset="1.000" stop-color="#0000ff"/></linearGradient><linearGradient id="g4_33" gradientUnits="userSpaceOnUse" x1="0" y1="879" x2="0" y2="1062"><stop offset="0.000" stop-color="#f0f00f"/><stop offset="0.354" stop-color="#b2b24d"/><stop offset="0.425" stop-color="#999966"/><stop offset="0.507" stop-color="#75758a"/><stop offset="0.678" stop-color="#5757a8"/><stop offset="0.798" stop-color="#4242bd"/><stop offset="0.891" stop-color="#1c1ce3"/><stop offset="1.000" stop-color="#0000ff"/></linearGradient><linearGradient id="g4_34" gradientUnits="userSpaceOnUse" x1="0" y1="879" x2="0" y2="1062"><stop offset="0.000" stop-color="#f0f00f"/><stop offset="0.328" stop-color="#b2b24d"/><stop offset="0.399" stop-color="#999966"/><stop offset="0.481" stop-color="#75758a"/><stop offset="0.678" stop-color="#5757a8"/><stop offset="0.798" stop-color="#4242bd"/><stop offset="0.891" stop-color="#1c1ce3"/><stop offset="1.000" stop-color="#0000ff"/></linearGradient><linearGradient id="g4_35" gradientUnits="userSpaceOnUse" x1="0" y1="879" x2="0" y2="1062"><stop offset="0.000" stop-color="#f0f00f"/><stop offset="0.312" stop-color="#b2b24d"/><stop offset="0.383" stop-color="#999966"/><stop offset="0.465" stop-color="#75758a"/><stop offset="0.689" stop-color="#63639c"/><stop offset="0.798" stop-color="#4242bd"/><stop offset="0.891" stop-color="#1c1ce3"/><stop offset="1.000" stop-color="#0000ff"/></linearGradient><linearGradient id="g4_36" gradientUnits="userSpaceOnUse" x1="0" y1="879" x2="0" y2="1062"><stop offset="0.000" stop-color="#f0f00f"/><stop offset="0.297" stop-color="#b2b24d"/><stop offset="0.368" stop-color="#999966"/><stop offset="0.450" stop-color="#75758a"/><stop offset="0.689" stop-color="#63639c"/><stop offset="0.798" stop-color="#4242bd"/><stop offset="0.891" stop-color="#1c1ce3"/><stop offset="1.000" stop-color="#0000ff"/></linearGradient><linearGradient id="g4_37" gradientUnits="userSpaceOnUse" x1="0" y1="879" x2="0" y2="1062"><stop offset="0.000" stop-color="#f0f00f"/><stop offset="0.285" stop-color="#b2b24d"/><stop offset="0.356" stop-color="#999966"/><stop offset="0.438" stop-color="#75758a"/><stop offset="0.689" stop-color="#63639c"/><stop offset="0.798" stop-color="#4242bd"/><stop offset="0.891" stop-color="#1c1ce3"/><stop offset="1.000" stop-color="#0000ff"/></linearGradient><linearGradient id="g4_38" gradientUnits="userSpaceOnUse" x1="0" y1="879" x2="0" y2="1062"><stop offset="0.000" stop-color="#f0f00f"/><stop offset="0.280" stop-color="#b2b24d"/><stop offset="0.351" stop-color="#999966"/><stop offset="0.433" stop-color="#75758a"/><stop offset="0.689" stop-color="#63639c"/><stop offset="0.798" stop-color="#4242bd"/><stop offset="0.891" stop-color="#1c1ce3"/><stop offset="1.000" stop-color="#0000ff"/></linearGradient><linearGradient id="g4_39" gradientUnits="userSpaceOnUse" x1="0" y1="879" x2="0" y2="1062"><stop offset="0.000" stop-color="#f0f00f"/><stop offset="0.276" stop-color="#b2b24d"/><stop offset="0.347" stop-color="#999966"/><stop offset="0.429" stop-color="#75758a"/><stop offset="0.689" stop-color="#63639c"/><stop offset="0.798" stop-color="#4242bd"/><stop offset="0.891" stop-color="#1c1ce3"/><stop offset="1.000" stop-color="#0000ff"/></linearGradient><linearGradient id="g4_40" gradientUnits="userSpaceOnUse" x1="0" y1="879" x2="0" y2="1062"><stop offset="0.000" stop-color="#f0f00f"/><stop offset="0.271" stop-color="#b2b24d"/><stop offset="0.342" stop-color="#999966"/><stop offset="0.424" stop-color="#75758a"/><stop offset="0.689" stop-color="#63639c"/><stop offset="0.798" stop-color="#4242bd"/><stop offset="0.891" stop-color="#1c1ce3"/><stop offset="1.000" stop-color="#0000ff"/></linearGradient><linearGradient id="g4_41" gradientUnits="userSpaceOnUse" x1="0" y1="879" x2="0" y2="1062"><stop offset="0.000" stop-color="#f0f00f"/><stop offset="0.267" stop-color="#b2b24d"/><stop offset="0.338" stop-color="#999966"/><stop offset="0.420" stop-color="#75758a"/><stop offset="0.689" stop-color="#63639c"/><stop offset="0.798" stop-color="#4242bd"/><stop offset="0.891" stop-color="#1c1ce3"/><stop offset="1.000" stop-color="#0000ff"/></linearGradient><linearGradient id="g4_42" gradientUnits="userSpaceOnUse" x1="0" y1="879" x2="0" y2="1062"><stop offset="0.000" stop-color="#f0f00f"/><stop offset="0.268" stop-color="#b2b24d"/><stop offset="0.339" stop-color="#999966"/><stop offset="0.421" stop-color="#75758a"/><stop offset="0.689" stop-color="#63639c"/><stop offset="0.798" stop-color="#4242bd"/><stop offset="0.891" stop-color="#1c1ce3"/><stop offset="1.000" stop-color="#0000ff"/></linearGradient><linearGradient id="g4_43" gradientUnits="userSpaceOnUse" x1="0" y1="879" x2="0" y2="1062"><stop offset="0.000" stop-color="#f0f00f"/><stop offset="0.270" stop-color="#b2b24d"/><stop offset="0.341" stop-color="#999966"/><stop offset="0.423" stop-color="#75758a"/><stop offset="0.689" stop-color="#63639c"/><stop offset="0.798" stop-color="#4242bd"/><stop offset="0.891" stop-color="#1c1ce3"/><stop offset="1.000" stop-color="#0000ff"/></linearGradient><linearGradient id="g4_44" gradientUnits="userSpaceOnUse" x1="0" y1="879" x2="0" y2="1062"><stop offset="0.000" stop-color="#f0f00f"/><stop offset="0.272" stop-color="#b2b24d"/><stop offset="0.343" stop-color="#999966"/><stop offset="0.425" stop-color="#75758a"/><stop offset="0.689" stop-color="#63639c"/><stop offset="0.798" stop-color="#4242bd"/><stop offset="0.891" stop-color="#1c1ce3"/><stop offset="1.000" stop-color="#0000ff"/></linearGradient><linearGradient id="g4_45" gradientUnits="userSpaceOnUse" x1="0" y1="879" x2="0" y2="1062"><stop offset="0.000" stop-color="#f0f00f"/><stop offset="0.275" stop-color="#b2b24d"/><stop offset="0.346" stop-color="#999966"/><stop offset="0.428" stop-color="#75758a"/><stop offset="0.689" stop-color="#63639c"/><stop offset="0.798" stop-color="#4242bd"/><stop offset="0.891" stop-color="#1c1ce3"/><stop offset="1.000" stop-color="#0000ff"/></linearGradient><linearGradient id="g4_46" gradientUnits="userSpaceOnUse" x1="0" y1="879" x2="0" y2="1062"><stop offset="0.000" stop-color="#f0f00f"/><stop offset="0.278" stop-color="#b2b24d"/><stop offset="0.349" stop-color="#999966"/><stop offset="0.431" stop-color="#75758a"/><stop offset="0.689" stop-color="#63639c"/><stop offset="0.798" stop-color="#4242bd"/><stop offset="0.891" stop-color="#1c1ce3"/><stop offset="1.000" stop-color="#0000ff"/></linearGradient><linearGradient id="g4_47" gradientUnits="userSpaceOnUse" x1="0" y1="879" x2="0" y2="1062"><stop offset="0.000" stop-color="#f0f00f"/><stop offset="0.285" stop-color="#b2b24d"/><stop offset="0.356" stop-color="#999966"/><stop offset="0.438" stop-color="#75758a"/><stop offset="0.689" stop-color="#63639c"/><stop offset="0.798" stop-color="#4242bd"/><stop offset="0.891" stop-color="#1c1ce3"/><stop offset="1.000" stop-color="#0000ff"/></linearGradient><linearGradient id="g4_48" gradientUnits="userSpaceOnUse" x1="0" y1="879" x2="0" y2="1062"><stop offset="0.000" stop-color="#f0f00f"/><stop offset="0.291" stop-color="#b2b24d"/><stop offset="0.362" stop-color="#999966"/><stop offset="0.444" stop-color="#75758a"/><stop offset="0.689" stop-color="#63639c"/><stop offset="0.798" stop-color="#4242bd"/><stop offset="0.891" stop-color="#1c1ce3"/><stop offset="1.000" stop-color="#0000ff"/></linearGradient><linearGradient id="g4_49" gradientUnits="userSpaceOnUse" x1="0" y1="879" x2="0" y2="1062"><stop offset="0.000" stop-color="#f0f00f"/><stop offset="0.298" stop-color="#b2b24d"/><stop offset="0.369" stop-color="#999966"/><stop offset="0.451" stop-color="#75758a"/><stop offset="0.689" stop-color="#63639c"/><stop offset="0.798" stop-color="#4242bd"/><stop offset="0.891" stop-color="#1c1ce3"/><stop offset="1.000" stop-color="#0000ff"/></linearGradient><linearGradient id="g4_50" gradientUnits="userSpaceOnUse" x1="0" y1="879" x2="0" y2="1062"><stop offset="0.000" stop-color="#ffff00"/><stop offset="0.306" stop-color="#b2b24d"/><stop offset="0.377" stop-color="#999966"/><stop offset="0.459" stop-color="#75758a"/><stop offset="0.689" stop-color="#63639c"/><stop offset="0.798" stop-color="#4242bd"/><stop offset="0.891" stop-color="#1c1ce3"/><stop offset="1.000" stop-color="#0000ff"/></linearGradient><linearGradient id="g4_51" gradientUnits="userSpaceOnUse" x1="0" y1="879" x2="0" y2="1062"><stop offset="0.000" stop-color="#ffff00"/><stop offset="0.314" stop-color="#b2b24d"/><stop offset="0.385" stop-color="#999966"/><stop offset="0.467" stop-color="#75758a"/><stop offset="0.689" stop-color="#63639c"/><stop offset="0.798" stop-color="#4242bd"/><stop offset="0.891" stop-color="#1c1ce3"/><stop offset="1.000" stop-color="#0000ff"/></linearGradient><linearGradient id="g4_52" gradientUnits="userSpaceOnUse" x1="0" y1="879" x2="0" y2="1062"><stop offset="0.000" stop-color="#ffff00"/><stop offset="0.333" stop-color="#b2b24d"/><stop offset="0.404" stop-color="#999966"/><stop offset="0.486" stop-color="#75758a"/><stop offset="0.689" stop-color="#63639c"/><stop offset="0.798" stop-color="#4242bd"/><stop offset="0.891" stop-color="#1c1ce3"/><stop offset="1.000" stop-color="#0000ff"/></linearGradient><linearGradient id="g4_53" gradientUnits="userSpaceOnUse" x1="0" y1="879" x2="0" y2="1062"><stop offset="0.000" stop-color="#ffff00"/><stop offset="0.355" stop-color="#b2b24d"/><stop offset="0.426" stop-color="#999966"/><stop offset="0.508" stop-color="#75758a"/><stop offset="0.689" stop-color="#63639c"/><stop offset="0.798" stop-color="#4242bd"/><stop offset="0.891" stop-color="#1c1ce3"/><stop offset="1.000" stop-color="#0000ff"/></linearGradient><linearGradient id="g4_54" gradientUnits="userSpaceOnUse" x1="0" y1="879" x2="0" y2="1062"><stop offset="0.000" stop-color="#ffff00"/><stop offset="0.380" stop-color="#b2b24d"/><stop offset="0.451" stop-color="#999966"/><stop offset="0.533" stop-color="#75758a"/><stop offset="0.678" stop-color="#5757a8"/><stop offset="0.798" stop-color="#4242bd"/><stop offset="0.891" stop-color="#1c1ce3"/><stop offset="1.000" stop-color="#0000ff"/></linearGradient><linearGradient id="g4_55" gradientUnits="userSpaceOnUse" x1="0" y1="879" x2="0" y2="1062"><stop offset="0.000" stop-color="#ffff00"/><stop offset="0.424" stop-color="#b2b24d"/><stop offset="0.495" stop-color="#999966"/><stop offset="0.577" stop-color="#75758a"/><stop offset="0.678" stop-color="#5757a8"/><stop offset="0.798" stop-color="#4242bd"/><stop offset="0.891" stop-color="#1c1ce3"/><stop offset="1.000" stop-color="#0000ff"/></linearGradient><linearGradient id="g4_56" gradientUnits="userSpaceOnUse" x1="0" y1="879" x2="0" y2="1062"><stop offset="0.000" stop-color="#ffff00"/><stop offset="0.264" stop-color="#e6e619"/><stop offset="0.483" stop-color="#b2b24d"/><stop offset="0.554" stop-color="#999966"/><stop offset="0.636" stop-color="#75758a"/><stop offset="0.678" stop-color="#5757a8"/><stop offset="0.798" stop-color="#4242bd"/><stop offset="0.891" stop-color="#1c1ce3"/><stop offset="1.000" stop-color="#0000ff"/></linearGradient><linearGradient id="g4_57" gradientUnits="userSpaceOnUse" x1="0" y1="879" x2="0" y2="1062"><stop offset="0.000" stop-color="#ffff00"/><stop offset="0.351" stop-color="#e6e619"/><stop offset="0.569" stop-color="#b2b24d"/><stop offset="0.640" stop-color="#999966"/><stop offset="0.722" stop-color="#75758a"/><stop offset="0.798" stop-color="#4242bd"/><stop offset="0.891" stop-color="#1c1ce3"/><stop offset="1.000" stop-color="#0000ff"/></linearGradient><linearGradient id="g4_58" gradientUnits="userSpaceOnUse" x1="0" y1="879" x2="0" y2="1062"><stop offset="0.000" stop-color="#ffff00"/><stop offset="0.383" stop-color="#e6e619"/><stop offset="0.602" stop-color="#b2b24d"/><stop offset="0.673" stop-color="#999966"/><stop offset="0.798" stop-color="#4242bd"/><stop offset="0.891" stop-color="#1c1ce3"/><stop offset="1.000" stop-color="#0000ff"/></linearGradient><linearGradient id="g4_59" gradientUnits="userSpaceOnUse" x1="0" y1="879" x2="0" y2="1062"><stop offset="0.000" stop-color="#ffff00"/><stop offset="0.411" stop-color="#e6e619"/><stop offset="0.629" stop-color="#b2b24d"/><stop offset="0.701" stop-color="#999966"/><stop offset="0.798" stop-color="#4242bd"/><stop offset="0.891" stop-color="#1c1ce3"/><stop offset="1.000" stop-color="#0000ff"/></linearGradient><linearGradient id="g4_60" gradientUnits="userSpaceOnUse" x1="0" y1="879" x2="0" y2="1062"><stop offset="0.000" stop-color="#ffff00"/><stop offset="0.422" stop-color="#e6e619"/><stop offset="0.641" stop-color="#b2b24d"/><stop offset="0.712" stop-color="#999966"/><stop offset="0.798" stop-color="#4242bd"/><stop offset="0.891" stop-color="#1c1ce3"/><stop offset="1.000" stop-color="#0000ff"/></linearGradient><linearGradient id="g4_61" gradientUnits="userSpaceOnUse" x1="0" y1="879" x2="0" y2="1062"><stop offset="0.000" stop-color="#ffff00"/><stop offset="0.434" stop-color="#e6e619"/><stop offset="0.652" stop-color="#b2b24d"/><stop offset="0.723" stop-color="#999966"/><stop offset="0.798" stop-color="#4242bd"/><stop offset="0.891" stop-color="#1c1ce3"/><stop offset="1.000" stop-color="#0000ff"/></linearGradient><linearGradient id="g4_62" gradientUnits="userSpaceOnUse" x1="0" y1="879" x2="0" y2="1062"><stop offset="0.000" stop-color="#ffff00"/><stop offset="0.444" stop-color="#e6e619"/><stop offset="0.662" stop-color="#b2b24d"/><stop offset="0.734" stop-color="#999966"/><stop offset="0.798" stop-color="#4242bd"/><stop offset="0.891" stop-color="#1c1ce3"/><stop offset="1.000" stop-color="#0000ff"/></linearGradient><linearGradient id="g4_63" gradientUnits="userSpaceOnUse" x1="0" y1="879" x2="0" y2="1062"><stop offset="0.000" stop-color="#ffff00"/><stop offset="0.445" stop-color="#e6e619"/><stop offset="0.664" stop-color="#b2b24d"/><stop offset="0.735" stop-color="#999966"/><stop offset="0.798" stop-color="#4242bd"/><stop offset="0.891" stop-color="#1c1ce3"/><stop offset="1.000" stop-color="#0000ff"/></linearGradient><linearGradient id="g4_64" gradientUnits="userSpaceOnUse" x1="0" y1="879" x2="0" y2="1062"><stop offset="0.000" stop-color="#ffff00"/><stop offset="0.447" stop-color="#e6e619"/><stop offset="0.665" stop-color="#b2b24d"/><stop offset="0.736" stop-color="#999966"/><stop offset="0.798" stop-color="#4242bd"/><stop offset="0.891" stop-color="#1c1ce3"/><stop offset="1.000" stop-color="#0000ff"/></linearGradient><linearGradient id="g4_65" gradientUnits="userSpaceOnUse" x1="0" y1="879" x2="0" y2="1062"><stop offset="0.000" stop-color="#ffff00"/><stop offset="0.447" stop-color="#e6e619"/><stop offset="0.666" stop-color="#b2b24d"/><stop offset="0.737" stop-color="#999966"/><stop offset="0.798" stop-color="#4242bd"/><stop offset="0.891" stop-color="#1c1ce3"/><stop offset="1.000" stop-color="#0000ff"/></linearGradient><linearGradient id="g4_66" gradientUnits="userSpaceOnUse" x1="0" y1="879" x2="0" y2="1062"><stop offset="0.000" stop-color="#ffff00"/><stop offset="0.446" stop-color="#e6e619"/><stop offset="0.664" stop-color="#b2b24d"/><stop offset="0.735" stop-color="#999966"/><stop offset="0.798" stop-color="#4242bd"/><stop offset="0.891" stop-color="#1c1ce3"/><stop offset="1.000" stop-color="#0000ff"/></linearGradient><linearGradient id="g4_67" gradientUnits="userSpaceOnUse" x1="0" y1="879" x2="0" y2="1062"><stop offset="0.000" stop-color="#ffff00"/><stop offset="0.445" stop-color="#e6e619"/><stop offset="0.663" stop-color="#b2b24d"/><stop offset="0.734" stop-color="#999966"/><stop offset="0.798" stop-color="#4242bd"/><stop offset="0.891" stop-color="#1c1ce3"/><stop offset="1.000" stop-color="#0000ff"/></linearGradient><linearGradient id="g4_68" gradientUnits="userSpaceOnUse" x1="0" y1="879" x2="0" y2="1062"><stop offset="0.000" stop-color="#ffff00"/><stop offset="0.441" stop-color="#e6e619"/><stop offset="0.660" stop-color="#b2b24d"/><stop offset="0.731" stop-color="#999966"/><stop offset="0.798" stop-color="#4242bd"/><stop offset="0.891" stop-color="#1c1ce3"/><stop offset="1.000" stop-color="#0000ff"/></linearGradient><linearGradient id="g4_69" gradientUnits="userSpaceOnUse" x1="0" y1="879" x2="0" y2="1062"><stop offset="0.000" stop-color="#ffff00"/><stop offset="0.433" stop-color="#e6e619"/><stop offset="0.651" stop-color="#b2b24d"/><stop offset="0.723" stop-color="#999966"/><stop offset="0.798" stop-color="#4242bd"/><stop offset="0.891" stop-color="#1c1ce3"/><stop offset="1.000" stop-color="#0000ff"/></linearGradient><linearGradient id="g4_70" gradientUnits="userSpaceOnUse" x1="0" y1="879" x2="0" y2="1062"><stop offset="0.000" stop-color="#ffff00"/><stop offset="0.425" stop-color="#e6e619"/><stop offset="0.643" stop-color="#b2b24d"/><stop offset="0.714" stop-color="#999966"/><stop offset="0.798" stop-color="#4242bd"/><stop offset="0.891" stop-color="#1c1ce3"/><stop offset="1.000" stop-color="#0000ff"/></linearGradient><linearGradient id="g4_71" gradientUnits="userSpaceOnUse" x1="0" y1="879" x2="0" y2="1062"><stop offset="0.000" stop-color="#ffff00"/><stop offset="0.416" stop-color="#e6e619"/><stop offset="0.635" stop-color="#b2b24d"/><stop offset="0.706" stop-color="#999966"/><stop offset="0.798" stop-color="#4242bd"/><stop offset="0.891" stop-color="#1c1ce3"/><stop offset="1.000" stop-color="#0000ff"/></linearGradient><linearGradient id="g4_72" gradientUnits="userSpaceOnUse" x1="0" y1="879" x2="0" y2="1062"><stop offset="0.000" stop-color="#ffff00"/><stop offset="0.407" stop-color="#e6e619"/><stop offset="0.625" stop-color="#b2b24d"/><stop offset="0.697" stop-color="#999966"/><stop offset="0.798" stop-color="#4242bd"/><stop offset="0.891" stop-color="#1c1ce3"/><stop offset="1.000" stop-color="#0000ff"/></linearGradient><linearGradient id="g4_73" gradientUnits="userSpaceOnUse" x1="0" y1="879" x2="0" y2="1062"><stop offset="0.000" stop-color="#ffff00"/><stop offset="0.398" stop-color="#e6e619"/><stop offset="0.616" stop-color="#b2b24d"/><stop offset="0.687" stop-color="#999966"/><stop offset="0.798" stop-color="#4242bd"/><stop offset="0.891" stop-color="#1c1ce3"/><stop offset="1.000" stop-color="#0000ff"/></linearGradient><linearGradient id="g4_74" gradientUnits="userSpaceOnUse" x1="0" y1="879" x2="0" y2="1062"><stop offset="0.000" stop-color="#ffff00"/><stop offset="0.389" stop-color="#e6e619"/><stop offset="0.607" stop-color="#b2b24d"/><stop offset="0.678" stop-color="#999966"/><stop offset="0.798" stop-color="#4242bd"/><stop offset="0.891" stop-color="#1c1ce3"/><stop offset="1.000" stop-color="#0000ff"/></linearGradient><linearGradient id="g4_75" gradientUnits="userSpaceOnUse" x1="0" y1="879" x2="0" y2="1062"><stop offset="0.000" stop-color="#ffff00"/><stop offset="0.382" stop-color="#e6e619"/><stop offset="0.601" stop-color="#b2b24d"/><stop offset="0.672" stop-color="#999966"/><stop offset="0.798" stop-color="#4242bd"/><stop offset="0.891" stop-color="#1c1ce3"/><stop offset="1.000" stop-color="#0000ff"/></linearGradient><linearGradient id="g4_76" gradientUnits="userSpaceOnUse" x1="0" y1="879" x2="0" y2="1062"><stop offset="0.000" stop-color="#ffff00"/><stop offset="0.375" stop-color="#e6e619"/><stop offset="0.594" stop-color="#b2b24d"/><stop offset="0.665" stop-color="#999966"/><stop offset="0.798" stop-color="#4242bd"/><stop offset="0.891" stop-color="#1c1ce3"/><stop offset="1.000" stop-color="#0000ff"/></linearGradient><linearGradient id="g4_77" gradientUnits="userSpaceOnUse" x1="0" y1="879" x2="0" y2="1062"><stop offset="0.000" stop-color="#ffff00"/><stop offset="0.369" stop-color="#e6e619"/><stop offset="0.587" stop-color="#b2b24d"/><stop offset="0.658" stop-color="#999966"/><stop offset="0.798" stop-color="#4242bd"/><stop offset="0.891" stop-color="#1c1ce3"/><stop offset="1.000" stop-color="#0000ff"/></linearGradient><linearGradient id="g4_78" gradientUnits="userSpaceOnUse" x1="0" y1="879" x2="0" y2="1062"><stop offset="0.000" stop-color="#ffff00"/><stop offset="0.363" stop-color="#e6e619"/><stop offset="0.582" stop-color="#b2b24d"/><stop offset="0.653" stop-color="#999966"/><stop offset="0.798" stop-color="#4242bd"/><stop offset="0.891" stop-color="#1c1ce3"/><stop offset="1.000" stop-color="#0000ff"/></linearGradient><linearGradient id="g4_79" gradientUnits="userSpaceOnUse" x1="0" y1="879" x2="0" y2="1062"><stop offset="0.000" stop-color="#ffff00"/><stop offset="0.358" stop-color="#e6e619"/><stop offset="0.577" stop-color="#b2b24d"/><stop offset="0.648" stop-color="#999966"/><stop offset="0.798" stop-color="#4242bd"/><stop offset="0.891" stop-color="#1c1ce3"/><stop offset="1.000" stop-color="#0000ff"/></linearGradient><linearGradient id="g4_80" gradientUnits="userSpaceOnUse" x1="0" y1="879" x2="0" y2="1062"><stop offset="0.000" stop-color="#ffff00"/><stop offset="0.353" stop-color="#e6e619"/><stop offset="0.571" stop-color="#b2b24d"/><stop offset="0.643" stop-color="#999966"/><stop offset="0.724" stop-color="#75758a"/><stop offset="0.798" stop-color="#4242bd"/><stop offset="0.891" stop-color="#1c1ce3"/><stop offset="1.000" stop-color="#0000ff"/></linearGradient><linearGradient id="g4_81" gradientUnits="userSpaceOnUse" x1="0" y1="879" x2="0" y2="1062"><stop offset="0.000" stop-color="#ffff00"/><stop offset="0.349" stop-color="#e6e619"/><stop offset="0.568" stop-color="#b2b24d"/><stop offset="0.639" stop-color="#999966"/><stop offset="0.721" stop-color="#75758a"/><stop offset="0.798" stop-color="#4242bd"/><stop offset="0.891" stop-color="#1c1ce3"/><stop offset="1.000" stop-color="#0000ff"/></linearGradient><linearGradient id="g4_82" gradientUnits="userSpaceOnUse" x1="0" y1="879" x2="0" y2="1062"><stop offset="0.000" stop-color="#ffff00"/><stop offset="0.348" stop-color="#e6e619"/><stop offset="0.566" stop-color="#b2b24d"/><stop offset="0.637" stop-color="#999966"/><stop offset="0.719" stop-color="#75758a"/><stop offset="0.798" stop-color="#4242bd"/><stop offset="0.891" stop-color="#1c1ce3"/><stop offset="1.000" stop-color="#0000ff"/></linearGradient><linearGradient id="g4_83" gradientUnits="userSpaceOnUse" x1="0" y1="879" x2="0" y2="1062"><stop offset="0.000" stop-color="#ffff00"/><stop offset="0.346" stop-color="#e6e619"/><stop offset="0.565" stop-color="#b2b24d"/><stop offset="0.636" stop-color="#999966"/><stop offset="0.718" stop-color="#75758a"/><stop offset="0.798" stop-color="#4242bd"/><stop offset="0.891" stop-color="#1c1ce3"/><stop offset="1.000" stop-color="#0000ff"/></linearGradient><linearGradient id="g4_84" gradientUnits="userSpaceOnUse" x1="0" y1="879" x2="0" y2="1062"><stop offset="0.000" stop-color="#ffff00"/><stop offset="0.345" stop-color="#e6e619"/><stop offset="0.563" stop-color="#b2b24d"/><stop offset="0.634" stop-color="#999966"/><stop offset="0.716" stop-color="#75758a"/><stop offset="0.798" stop-color="#4242bd"/><stop offset="0.891" stop-color="#1c1ce3"/><stop offset="1.000" stop-color="#0000ff"/></linearGradient><linearGradient id="g4_85" gradientUnits="userSpaceOnUse" x1="0" y1="879" x2="0" y2="1062"><stop offset="0.000" stop-color="#ffff00"/><stop offset="0.339" stop-color="#e6e619"/><stop offset="0.558" stop-color="#b2b24d"/><stop offset="0.629" stop-color="#999966"/><stop offset="0.711" stop-color="#75758a"/><stop offset="0.798" stop-color="#4242bd"/><stop offset="0.891" stop-color="#1c1ce3"/><stop offset="1.000" stop-color="#0000ff"/></linearGradient><linearGradient id="g4_86" gradientUnits="userSpaceOnUse" x1="0" y1="879" x2="0" y2="1062"><stop offset="0.000" stop-color="#ffff00"/><stop offset="0.333" stop-color="#e6e619"/><stop offset="0.552" stop-color="#b2b24d"/><stop offset="0.623" stop-color="#999966"/><stop offset="0.705" stop-color="#75758a"/><stop offset="0.798" stop-color="#4242bd"/><stop offset="0.891" stop-color="#1c1ce3"/><stop offset="1.000" stop-color="#0000ff"/></linearGradient><linearGradient id="g4_87" gradientUnits="userSpaceOnUse" x1="0" y1="879" x2="0" y2="1062"><stop offset="0.000" stop-color="#ffff00"/><stop offset="0.323" stop-color="#e6e619"/><stop offset="0.542" stop-color="#b2b24d"/><stop offset="0.613" stop-color="#999966"/><stop offset="0.695" stop-color="#75758a"/><stop offset="0.798" stop-color="#4242bd"/><stop offset="0.891" stop-color="#1c1ce3"/><stop offset="1.000" stop-color="#0000ff"/></linearGradient><linearGradient id="g4_88" gradientUnits="userSpaceOnUse" x1="0" y1="879" x2="0" y2="1062"><stop offset="0.000" stop-color="#ffff00"/><stop offset="0.310" stop-color="#e6e619"/><stop offset="0.528" stop-color="#b2b24d"/><stop offset="0.599" stop-color="#999966"/><stop offset="0.681" stop-color="#75758a"/><stop offset="0.798" stop-color="#4242bd"/><stop offset="0.891" stop-color="#1c1ce3"/><stop offset="1.000" stop-color="#0000ff"/></linearGradient><linearGradient id="g4_89" gradientUnits="userSpaceOnUse" x1="0" y1="879" x2="0" y2="1062"><stop offset="0.000" stop-color="#ffff00"/><stop offset="0.295" stop-color="#e6e619"/><stop offset="0.514" stop-color="#b2b24d"/><stop offset="0.585" stop-color="#999966"/><stop offset="0.667" stop-color="#75758a"/><stop offset="0.689" stop-color="#63639c"/><stop offset="0.798" stop-color="#4242bd"/><stop offset="0.891" stop-color="#1c1ce3"/><stop offset="1.000" stop-color="#0000ff"/></linearGradient><linearGradient id="g4_90" gradientUnits="userSpaceOnUse" x1="0" y1="879" x2="0" y2="1062"><stop offset="0.000" stop-color="#ffff00"/><stop offset="0.278" stop-color="#e6e619"/><stop offset="0.496" stop-color="#b2b24d"/><stop offset="0.567" stop-color="#999966"/><stop offset="0.649" stop-color="#75758a"/><stop offset="0.689" stop-color="#63639c"/><stop offset="0.798" stop-color="#4242bd"/><stop offset="0.891" stop-color="#1c1ce3"/><stop offset="1.000" stop-color="#0000ff"/></linearGradient><linearGradient id="g4_91" gradientUnits="userSpaceOnUse" x1="0" y1="879" x2="0" y2="1062"><stop offset="0.000" stop-color="#ffff00"/><stop offset="0.260" stop-color="#e6e619"/><stop offset="0.478" stop-color="#b2b24d"/><stop offset="0.549" stop-color="#999966"/><stop offset="0.631" stop-color="#75758a"/><stop offset="0.689" stop-color="#63639c"/><stop offset="0.798" stop-color="#4242bd"/><stop offset="0.891" stop-color="#1c1ce3"/><stop offset="1.000" stop-color="#0000ff"/></linearGradient><linearGradient id="g4_92" gradientUnits="userSpaceOnUse" x1="0" y1="879" x2="0" y2="1062"><stop offset="0.000" stop-color="#ffff00"/><stop offset="0.236" stop-color="#e6e619"/><stop offset="0.454" stop-color="#b2b24d"/><stop offset="0.525" stop-color="#999966"/><stop offset="0.607" stop-color="#75758a"/><stop offset="0.689" stop-color="#63639c"/><stop offset="0.798" stop-color="#4242bd"/><stop offset="0.891" stop-color="#1c1ce3"/><stop offset="1.000" stop-color="#0000ff"/></linearGradient><linearGradient id="g4_93" gradientUnits="userSpaceOnUse" x1="0" y1="879" x2="0" y2="1062"><stop offset="0.000" stop-color="#ffff00"/><stop offset="0.212" stop-color="#e6e619"/><stop offset="0.430" stop-color="#b2b24d"/><stop offset="0.501" stop-color="#999966"/><stop offset="0.583" stop-color="#75758a"/><stop offset="0.689" stop-color="#63639c"/><stop offset="0.798" stop-color="#4242bd"/><stop offset="0.891" stop-color="#1c1ce3"/><stop offset="1.000" stop-color="#0000ff"/></linearGradient><linearGradient id="g4_94" gradientUnits="userSpaceOnUse" x1="0" y1="879" x2="0" y2="1062"><stop offset="0.000" stop-color="#ffff00"/><stop offset="0.194" stop-color="#e6e619"/><stop offset="0.413" stop-color="#b2b24d"/><stop offset="0.484" stop-color="#999966"/><stop offset="0.566" stop-color="#75758a"/><stop offset="0.689" stop-color="#63639c"/><stop offset="0.798" stop-color="#4242bd"/><stop offset="0.891" stop-color="#1c1ce3"/><stop offset="1.000" stop-color="#0000ff"/></linearGradient><linearGradient id="g4_95" gradientUnits="userSpaceOnUse" x1="0" y1="879" x2="0" y2="1062"><stop offset="0.000" stop-color="#ffff00"/><stop offset="0.194" stop-color="#e6e619"/><stop offset="0.413" stop-color="#b2b24d"/><stop offset="0.484" stop-color="#999966"/><stop offset="0.566" stop-color="#75758a"/><stop offset="0.689" stop-color="#63639c"/><stop offset="0.798" stop-color="#4242bd"/><stop offset="0.891" stop-color="#1c1ce3"/><stop offset="1.000" stop-color="#0000ff"/></linearGradient><linearGradient id="g4_96" gradientUnits="userSpaceOnUse" x1="0" y1="879" x2="0" y2="1062"><stop offset="0.000" stop-color="#ffff00"/><stop offset="0.194" stop-color="#e6e619"/><stop offset="0.413" stop-color="#b2b24d"/><stop offset="0.484" stop-color="#999966"/><stop offset="0.566" stop-color="#75758a"/><stop offset="0.689" stop-color="#63639c"/><stop offset="0.798" stop-color="#4242bd"/><stop offset="0.891" stop-color="#1c1ce3"/><stop offset="1.000" stop-color="#0000ff"/></linearGradient><linearGradient id="g4_97" gradientUnits="userSpaceOnUse" x1="0" y1="879" x2="0" y2="1062"><stop offset="0.000" stop-color="#ffff00"/><stop offset="0.194" stop-color="#e6e619"/><stop offset="0.413" stop-color="#b2b24d"/><stop offset="0.484" stop-color="#999966"/><stop offset="0.566" stop-color="#75758a"/><stop offset="0.689" stop-color="#63639c"/><stop offset="0.798" stop-color="#4242bd"/><stop offset="0.891" stop-color="#1c1ce3"/><stop offset="1.000" stop-color="#0000ff"/></linearGradient><linearGradient id="g4_98" gradientUnits="userSpaceOnUse" x1="0" y1="879" x2="0" y2="1062"><stop offset="0.000" stop-color="#ffff00"/><stop offset="0.194" stop-color="#e6e619"/><stop offset="0.413" stop-color="#b2b24d"/><stop offset="0.484" stop-color="#999966"/><stop offset="0.566" stop-color="#75758a"/><stop offset="0.689" stop-color="#63639c"/><stop offset="0.798" stop-color="#4242bd"/><stop offset="0.891" stop-color="#1c1ce3"/><stop offset="1.000" stop-color="#0000ff"/></linearGradient><filter id="hblur" x="-5%" y="-5%" width="110%" height="110%"><feGaussianBlur stdDeviation="15 0"/></filter><filter id="b06" x="-20%" y="-50%" width="140%" height="200%"><feGaussianBlur stdDeviation="0.6"/></filter><filter id="b1" x="-20%" y="-50%" width="140%" height="200%"><feGaussianBlur stdDeviation="1.5"/></filter><filter id="hblur3" x="-5%" y="-5%" width="110%" height="110%"><feGaussianBlur stdDeviation="5 1"/></filter><filter id="b2" x="-20%" y="-50%" width="140%" height="200%"><feGaussianBlur stdDeviation="2"/></filter><filter id="b3" x="-20%" y="-50%" width="140%" height="200%"><feGaussianBlur stdDeviation="3"/></filter><filter id="b4" x="-20%" y="-50%" width="140%" height="200%"><feGaussianBlur stdDeviation="4"/></filter><filter id="b5" x="-20%" y="-50%" width="140%" height="200%"><feGaussianBlur stdDeviation="5"/></filter><filter id="b6" x="-20%" y="-50%" width="140%" height="200%"><feGaussianBlur stdDeviation="6"/></filter><filter id="b8" x="-20%" y="-50%" width="140%" height="200%"><feGaussianBlur stdDeviation="8"/></filter></defs>
<text x="464" y="45.5" font-size="27.3" text-anchor="middle" >Kislovodsk Mountain Astronomical Station</text><text x="21" y="1212" font-size="20" text-anchor="start" >Created&#160;&#160;2016.04.08</text><g clip-path="url(#clip0)"><rect x="60" y="80" width="760" height="220" fill="#f69e9e"/><g filter="url(#disp1)"><polygon points="60,134 116,131 150,129 163,131 176,139 191,141 210,140 229,142 247,141 270,140 316,144 345,150 382,151 420,153 452,155 496,158 545,163 590,158 625,160 660,165 662,182 640,184 600,186 560,190 538,202 515,210 496,217 440,222 388,222 340,218 300,212 270,217 238,219 200,223 153,227 144,225 144,200 116,199 60,200" fill="#7272f0" /><polygon points="600,222 650,212 700,203 761,193 820,188 820,203 771,207 733,211 700,218 650,226 600,232" fill="#7272f0" /><polygon points="60,224 106,226 130,238 60,246" fill="#7272f0" /><polygon points="680,133 720,126 760,131 800,136 820,138 820,153 760,147 720,146 690,143" fill="#a2a2f4" /><polygon points="440,100 492,100 510,104 496,112 484,124 462,130 440,126" fill="#a2a2f4" /><polygon points="680,100 790,100 806,103 806,113 790,110 765,106 752,107 748,116 735,117 722,108 695,104" fill="#a2a2f4" /><polygon points="80,132 93,130 123,132 145,129 160,126 171,131 188,131 212,138 80,140" fill="#a2a2f4" /><polygon points="60,241 200,244 300,243 400,241 500,241 600,238 700,234 760,230 820,226 820,300 60,300" fill="#9696f4" /><polygon points="130,150 160,146 190,151 220,156 250,162 275,168 288,176 288,190 278,197 262,196 247,186 219,180 195,174 176,167 153,159 130,157" fill="#f18282" /><polygon points="60,200 116,200 144,203 150,226 106,230 60,224" fill="#f69e9e" /><polygon points="100,236 153,228 200,224 238,220 270,218 300,213 330,200 345,190 372,204 386,214 360,226 400,226 440,224 480,222 520,216 500,230 440,238 400,242 320,245 210,245 130,242" fill="#f69e9e" /><polygon points="180,232 240,226 300,220 360,214 400,214 360,228 300,236 220,238" fill="#f18282" fill-opacity="0.7"/><polygon points="305,163 330,161 348,168 346,178 330,176 310,170" fill="#f18282" /><polygon points="345,176 366,174 371,184 365,191 350,190" fill="#f18282" /><ellipse cx="385" cy="184" rx="5" ry="4.5" fill="#f18282" /><ellipse cx="302" cy="182" rx="4" ry="2" fill="#f18282" /><ellipse cx="456" cy="177" rx="12" ry="8" fill="#f69e9e" /><polygon points="478,186 500,183 510,190 505,203 485,206 478,198" fill="#f69e9e" /><polygon points="540,166 575,157 596,160 606,182 620,188 690,178 660,162 680,150 740,146 804,152 820,160 820,196 761,188 690,200 618,210 590,214 560,218 520,218 510,214 538,200 548,180" fill="#f18282" /><polygon points="560,234 620,230 686,222 733,214 771,208 820,202 820,222 771,230 714,234 620,238 560,240" fill="#f18282" fill-opacity="0.85"/></g><g filter="url(#b2)"><ellipse cx="110" cy="185" rx="28" ry="8" fill="#4040f0" /><ellipse cx="86" cy="184" rx="7" ry="5" fill="#f03838" /><ellipse cx="108" cy="185" rx="4" ry="3" fill="#f03838" /><ellipse cx="420" cy="193" rx="9" ry="6" fill="#4040f0" /><ellipse cx="437" cy="193" rx="10" ry="5" fill="#f03838" /><ellipse cx="607" cy="170" rx="14" ry="10" fill="#7272f0" /><ellipse cx="643" cy="172" rx="13" ry="8" fill="#4040f0" /><ellipse cx="626" cy="172" rx="8" ry="7" fill="#f03838" /><ellipse cx="697" cy="170" rx="6" ry="4" fill="#7272f0" /><ellipse cx="745" cy="182" rx="11" ry="6" fill="#7272f0" /><ellipse cx="260" cy="178" rx="14" ry="6" fill="#f06060" /><ellipse cx="580" cy="178" rx="16" ry="10" fill="#f07070" /><ellipse cx="780" cy="180" rx="24" ry="10" fill="#f07070" /></g><g fill="none" stroke="#9898f2" filter="url(#b06)"><path d="M105,103.7 C140,104 185,105 200,109 C208,113 209,120 206,128" stroke-width="2.6"/><path d="M93,106.7 C130,108 175,110 191,113.4 C196,116 199,119 200,122" stroke-width="2"/><path d="M84,116.4 C100,115 125,117 148,122.3" stroke-width="2"/><path d="M108,122.3 C118,123 128,124 135,126.8" stroke-width="1.8"/><path d="M493,104 Q530,103 548,110" stroke-width="2"/><path d="M553,104 Q600,106 615,118" stroke-width="2.2"/></g></g><rect x="78" y="99" width="725" height="1" fill="#000"/><rect x="78" y="280.5" width="725" height="1.5" fill="#000"/><rect x="78" y="98.5" width="2" height="183.5" fill="#000"/><rect x="801" y="98.5" width="2" height="183.5" fill="#000"/><text x="84.1" y="87" font-size="16" text-anchor="middle" >0</text><rect x="139.75" y="95" width="1.3" height="4" fill="#000"/><text x="144.1" y="87" font-size="16" text-anchor="middle" >30</text><rect x="199.75" y="95" width="1.3" height="4" fill="#000"/><text x="204.1" y="87" font-size="16" text-anchor="middle" >60</text><rect x="259.75" y="95" width="1.3" height="4" fill="#000"/><text x="264.1" y="87" font-size="16" text-anchor="middle" >90</text><rect x="319.75" y="95" width="1.3" height="4" fill="#000"/><text x="324.1" y="87" font-size="16" text-anchor="middle" >120</text><rect x="379.75" y="95" width="1.3" height="4" fill="#000"/><text x="384.1" y="87" font-size="16" text-anchor="middle" >150</text><rect x="439.75" y="95" width="1.3" height="4" fill="#000"/><text x="444.1" y="87" font-size="16" text-anchor="middle" >180</text><rect x="499.75" y="95" width="1.3" height="4" fill="#000"/><text x="504.1" y="87" font-size="16" text-anchor="middle" >210</text><rect x="559.75" y="95" width="1.3" height="4" fill="#000"/><text x="564.1" y="87" font-size="16" text-anchor="middle" >240</text><rect x="619.75" y="95" width="1.3" height="4" fill="#000"/><text x="624.1" y="87" font-size="16" text-anchor="middle" >270</text><rect x="679.75" y="95" width="1.3" height="4" fill="#000"/><text x="684.1" y="87" font-size="16" text-anchor="middle" >300</text><rect x="739.75" y="95" width="1.3" height="4" fill="#000"/><text x="744.1" y="87" font-size="16" text-anchor="middle" >330</text><text x="804.1" y="87" font-size="16" text-anchor="middle" >360</text><text x="73" y="110.0" font-size="16" text-anchor="end" >90</text><text x="833" y="110.0" font-size="16" text-anchor="end" >90</text><rect x="75" y="129.75" width="3" height="1.3" fill="#000"/><rect x="803" y="129.75" width="3" height="1.3" fill="#000"/><text x="73" y="140.0" font-size="16" text-anchor="end" >60</text><text x="833" y="140.0" font-size="16" text-anchor="end" >60</text><rect x="75" y="159.75" width="3" height="1.3" fill="#000"/><rect x="803" y="159.75" width="3" height="1.3" fill="#000"/><text x="73" y="170.0" font-size="16" text-anchor="end" >30</text><text x="833" y="170.0" font-size="16" text-anchor="end" >30</text><text x="69.3" y="200.0" font-size="16" text-anchor="end" >0</text><text x="829.3" y="200.0" font-size="16" text-anchor="end" >0</text><rect x="75" y="219.75" width="3" height="1.3" fill="#000"/><rect x="803" y="219.75" width="3" height="1.3" fill="#000"/><text x="73" y="230.0" font-size="16" text-anchor="end" >-30</text><text x="833" y="230.0" font-size="16" text-anchor="end" >-30</text><rect x="75" y="249.75" width="3" height="1.3" fill="#000"/><rect x="803" y="249.75" width="3" height="1.3" fill="#000"/><text x="73" y="260.0" font-size="16" text-anchor="end" >-60</text><text x="833" y="260.0" font-size="16" text-anchor="end" >-60</text><text x="73" y="290.0" font-size="16" text-anchor="end" >-90</text><text x="833" y="290.0" font-size="16" text-anchor="end" >-90</text><rect x="83.85" y="281.5" width="1.3" height="3" fill="#000"/><rect x="110.24" y="281.5" width="1.3" height="3" fill="#000"/><rect x="136.64" y="281.5" width="1.3" height="8" fill="#000"/><rect x="163.03" y="281.5" width="1.3" height="3" fill="#000"/><rect x="189.43" y="281.5" width="1.3" height="3" fill="#000"/><rect x="215.82" y="281.5" width="1.3" height="3" fill="#000"/><rect x="242.22" y="281.5" width="1.3" height="3" fill="#000"/><rect x="268.62" y="281.5" width="1.3" height="8" fill="#000"/><rect x="295.01" y="281.5" width="1.3" height="3" fill="#000"/><rect x="321.41" y="281.5" width="1.3" height="3" fill="#000"/><rect x="347.80" y="281.5" width="1.3" height="3" fill="#000"/><rect x="374.19" y="281.5" width="1.3" height="17" fill="#000"/><rect x="400.59" y="281.5" width="1.3" height="3" fill="#000"/><rect x="426.99" y="281.5" width="1.3" height="8" fill="#000"/><rect x="453.38" y="281.5" width="1.3" height="3" fill="#000"/><rect x="479.78" y="281.5" width="1.3" height="3" fill="#000"/><rect x="506.17" y="281.5" width="1.3" height="3" fill="#000"/><rect x="532.56" y="281.5" width="1.3" height="3" fill="#000"/><rect x="558.96" y="281.5" width="1.3" height="8" fill="#000"/><rect x="585.36" y="281.5" width="1.3" height="3" fill="#000"/><rect x="611.75" y="281.5" width="1.3" height="3" fill="#000"/><rect x="638.14" y="281.5" width="1.3" height="3" fill="#000"/><rect x="664.54" y="281.5" width="1.3" height="3" fill="#000"/><rect x="690.94" y="281.5" width="1.3" height="8" fill="#000"/><rect x="717.33" y="281.5" width="1.3" height="3" fill="#000"/><rect x="743.73" y="281.5" width="1.3" height="3" fill="#000"/><rect x="770.12" y="281.5" width="1.3" height="3" fill="#000"/><rect x="796.51" y="281.5" width="1.3" height="3" fill="#000"/><text x="136.7" y="307.5" font-size="16" text-anchor="end" >10</text><text x="259.3" y="307.5" font-size="16" text-anchor="end" >5</text><text x="427" y="307.5" font-size="16" text-anchor="end" >30</text><text x="559" y="307.5" font-size="16" text-anchor="end" >25</text><text x="691.4" y="307.5" font-size="16" text-anchor="end" >20</text><text x="80" y="324.5" font-size="16" text-anchor="start" >Apr</text><text x="458" y="329.8" font-size="16" text-anchor="middle" >2016</text><text x="758.5" y="329.8" font-size="16" text-anchor="middle" >Nr:2175</text><text x="800" y="324.5" font-size="16" text-anchor="start" >Mar</text><g clip-path="url(#clip1)"><rect x="60" y="340" width="760" height="220" fill="#e24c1c"/><g filter="url(#b5)"><polygon points="510,362 810,362 810,400 760,385 700,380 640,395 625,420 600,440 566,460 553,400 534,396 518,378 510,370" fill="#ff0800" /><polygon points="200,380 253,378 245,395 215,395" fill="#ff0800" /></g><polygon points="75,476 128,479 120,496 142,511 200,518 200,550 75,550" fill="url(#blRed)" filter="url(#b2)"/><polygon points="562,400 640,400 640,440 581,442 579,462 560,462" fill="url(#stemG)" filter="url(#b2)"/><polygon points="620,404 760,404 760,436 620,436" fill="url(#blobR)" filter="url(#b2)"/><polygon points="575.5,419.1 588.7,410.6 603.8,411.6 611.3,419.1 609.4,426.6 579.3,426.6" fill="none" stroke="#90e060" stroke-width="5" filter="url(#b3)"/><polygon points="80,374 96.8,372 115.6,370 130.7,370.6 159,373 176,377.7 191,385 209.8,391.8 228.6,395.6 240,393.7 253,391 243.6,385 247.4,380.5 256.8,379.2 271.3,385.2 293.9,379.6 314.6,376.8 335.3,374 363.5,373 369.2,371.1 410.6,369.2 440,368.3 458.8,367.4 515.3,369.2 521,374 517,381.5 522.8,389 534,393.7 553,397.5 566,402.2 566,419 562.4,421 564.2,445.5 562.4,460.5 579.3,460.5 581.2,441.7 605.6,439.8 618.8,426.6 620,421 642.6,414.4 657.6,414.4 682,422.9 701,431.4 714,434.2 736.7,434.2 751.8,424.8 751.8,415.4 733,406 725.4,397.5 695.3,406 657.6,407.8 638.8,406.9 627.5,402.2 648.2,391.8 676.5,390.9 693.4,381.5 714,376.8 738.6,386.2 770.6,386.2 789.4,381.5 800.7,376.8 806,375 806,505 800.7,504.8 774.4,512.3 755.5,513.2 751.8,516 701,516 680.2,512.3 654,513.2 642.6,518 620,520.8 609.4,522.6 587,525.5 534,526.4 506,523.6 487,520.8 468,517 440,515 416.2,512.3 391.8,515.1 371,517 354,520.8 260,520.8 234,520.8 209.8,518 191,516 172,513.2 140,510.4 127,503.8 118.5,496.3 123.2,488.8 125,481 110,483 96.8,490.6 75,502 75,374" fill="#c3c3c3" stroke="#4a9ab0" stroke-width="1"/><polygon points="575.5,419.1 588.7,410.6 603.8,411.6 611.3,419.1 609.4,426.6 579.3,426.6" fill="#c3c3c3" stroke="#4a9ab0" stroke-width="1"/><mask id="lightmask" maskUnits="userSpaceOnUse" x="60" y="340" width="760" height="220"><rect x="60" y="340" width="760" height="220" fill="#fff"/><polygon points="140.1,447.4 162.7,445.5 183.4,451.1 206.0,453.0 213.5,460.5 190.9,462.4 172.1,466.2 149.5,462.4 140.1,456.8" fill="#000" /><ellipse cx="269.4" cy="437.9" rx="13.2" ry="13.2" fill="#000"/><ellipse cx="327.8" cy="428.5" rx="20.7" ry="8.5" fill="#000"/><ellipse cx="356.9" cy="442.6" rx="12.2" ry="8.5" fill="#000"/><polygon points="307.1,447.4 335.3,443.6 372.9,451.1 382.4,466.2 354.1,469.9 316.5,469.9 297.6,462.4" fill="#000" /><ellipse cx="440.7" cy="453.0" rx="11.3" ry="5.6" fill="#000"/><ellipse cx="444.5" cy="426.6" rx="9.4" ry="7.5" fill="#000"/><ellipse cx="455.1" cy="436.1" rx="13.2" ry="7.5" fill="#000"/><polygon points="477.6,447.4 505.9,445.5 511.5,454.9 500.2,466.2 477.6,462.4" fill="#000" /></mask><g clip-path="url(#grayclip)"><g filter="url(#tex2)"><g mask="url(#lightmask)"><polygon points="79.9,393.7 96.8,392.8 125.1,393.1 149.5,389.9 164.6,388.6 183.4,394.6 200.4,400.3 221.1,399.9 238.0,402.2 270.0,401.2 270.0,426.6 256.8,420.1 243.6,415.4 221.1,413.5 194.7,410.6 183.4,407.8 153.3,408.8 138.2,404.4 111.9,405.6 93.1,412.5 79.9,416.3" fill="#000" /><polygon points="79.9,432.3 106.2,429.5 125.1,422.9 153.3,421.0 175.9,429.5 194.7,437.9 209.8,445.5 228.6,451.1 270.0,456.8 270.0,477.5 247.4,475.6 224.8,481.2 200.4,485.9 168.4,486.9 157.1,477.5 138.2,467.1 115.6,464.3 96.8,461.5 79.9,463.4" fill="#000" /><polygon points="79.9,479.4 106.2,479.4 121.3,482.2 100.6,488.8 79.9,498.2" fill="#000" /><polygon points="125.1,505.7 153.3,501.9 181.5,494.4 200.4,492.5 219.2,492.5 247.4,500.1 270.0,498.2 270.0,521.7 234.2,520.8 190.9,516.1 153.3,512.3 126.9,507.6" fill="#000" /><polygon points="260.0,403.1 316.5,404.1 354.1,407.8 410.6,410.6 452.0,413.5 452.0,471.8 420.0,474.6 391.8,469.9 380.5,462.4 354.1,462.4 316.5,469.9 288.2,468.1 260.0,468.1" fill="#000" /><polygon points="260.0,500.1 297.6,503.8 335.3,500.1 372.9,501.9 410.6,505.7 452.0,503.8 452.0,516.1 416.2,512.3 391.8,515.1 371.1,517.0 354.1,520.8 260.0,520.8" fill="#000" /><polygon points="372.9,473.7 401.2,469.9 452.0,473.7 452.0,492.5 410.6,488.8 372.9,492.5 354.1,485.0" fill="#000" /><ellipse cx="322.1" cy="479.4" rx="4.7" ry="2.3" fill="#000"/><ellipse cx="284.5" cy="494.4" rx="7.5" ry="2.8" fill="#000"/><polygon points="451.3,370.2 487.1,368.3 515.3,370.2 511.5,379.6 496.5,383.4 483.3,387.1 470.1,385.2 455.1,388.1 451.3,381.5" fill="#000" /><polygon points="492.7,398.4 511.5,393.7 519.1,396.5 504.0,401.2" fill="#000" /><polygon points="511.5,407.8 537.9,404.1 541.6,407.8 515.3,409.7" fill="#000" /><polygon points="440.0,417.2 468.2,419.1 487.1,422.9 505.9,428.5 524.7,428.5 549.2,436.1 545.4,447.4 530.4,454.9 515.3,466.2 496.5,469.9 477.6,473.7 458.8,479.4 440.0,479.4" fill="#000" /><polygon points="505.9,477.5 534.1,473.7 562.4,479.4 590.6,477.5 632.0,471.8 632.0,500.1 571.8,500.1 534.1,492.5 511.5,485.0" fill="#000" /><polygon points="440.0,500.1 496.5,496.3 534.1,500.1 571.8,501.9 632.0,501.9 632.0,518.9 609.4,522.6 586.8,525.5 534.1,526.4 505.9,523.6 487.1,520.8 468.2,517.0 440.0,515.1" fill="#000" /><polygon points="605.6,432.3 632.0,428.5 632.0,454.9 613.2,451.1" fill="#000" /><polygon points="682.1,392.8 704.7,385.2 717.9,390.9 742.4,398.4 761.2,400.3 785.6,394.6 800.7,394.6 800.7,413.5 780.0,411.6 751.8,405.9 732.9,400.3 710.4,396.5 695.3,398.4" fill="#000" /><ellipse cx="646.4" cy="398.4" rx="5.6" ry="2.8" fill="#000"/><polygon points="620.0,424.8 638.8,422.9 657.6,430.4 672.7,437.9 676.5,447.4 657.6,451.1 638.8,451.1 620.0,447.4" fill="#000" /><polygon points="620.0,477.5 676.5,466.2 732.9,462.4 770.6,451.1 798.8,445.5 800.7,458.6 770.6,469.9 732.9,477.5 676.5,486.9 620.0,490.6" fill="#000" /><polygon points="620.0,494.4 676.5,492.5 714.1,488.8 751.8,488.8 789.4,485.0 800.7,486.9 800.7,504.8 774.4,512.3 755.5,513.2 751.8,516.1 700.9,516.1 680.2,512.3 653.9,513.2 642.6,517.9 620.0,520.8" fill="#000" /><ellipse cx="742.4" cy="441.7" rx="11.3" ry="4.7" fill="#000"/></g></g></g><polygon points="210,418 218,417 249,428 249,434 240,434 211,422" fill="#78f078" stroke="#2050d0" stroke-width="1"/><ellipse cx="120.5" cy="449.5" rx="12.5" ry="5.5" fill="#70f080" stroke="#2050d0" stroke-width="1"/><polygon points="135,483 148,474 150,471 157,471 157,474 167,480 167,487 138,487" fill="url(#holeG)" stroke="#2050d0" stroke-width="1.6"/><polygon points="386.2,433.5 399,433.5 402.4,435.6 415.3,437.3 419.6,440 415.3,444.8 415.3,456.7 424,462 433.6,466.4 426,469 417.5,472.9 411,471.8 405.6,466.4 401.3,457.8 395.9,445.9 386.2,439.4" fill="url(#bootG)" stroke="#2060c0" stroke-width="2.2"/><polygon points="386.2,433.5 399,433.5 402.4,435.6 415.3,437.3 419.6,440 415.3,444.8 415.3,456.7 424,462 433.6,466.4 426,469 417.5,472.9 411,471.8 405.6,466.4 401.3,457.8 395.9,445.9 386.2,439.4" fill="none" stroke="#70e870" stroke-width="1"/><ellipse cx="413" cy="480.5" rx="2.2" ry="2.2" fill="#60d0e0" stroke="#2050d0" stroke-width="1"/><ellipse cx="413" cy="488" rx="2" ry="2.5" fill="#a0c040" stroke="#2050d0" stroke-width="1"/><polygon points="447,466 464,459 465,464 450,470" fill="#90e060" stroke="#2050d0" stroke-width="1"/><ellipse cx="287" cy="360" rx="5" ry="3" fill="#ff0800" filter="url(#b1)"/><path d="M78.0,432.7 C81.0,431.2 89.8,425.9 95.8,423.8 C101.8,421.7 106.0,420.8 113.7,420.2 C121.4,419.6 133.3,419.0 142.2,420.2 C151.1,421.4 160.1,424.7 167.2,427.4 C174.3,430.1 178.4,433.0 185.0,436.3 C191.6,439.6 199.3,444.0 206.5,447.0 C213.7,450.0 220.8,452.3 227.9,454.1 C235.0,455.9 241.0,457.3 249.3,457.7 C257.6,458.1 270.8,457.8 277.9,456.6 C285.0,455.4 287.4,454.8 292.1,450.5 C296.9,446.2 301.6,435.9 306.4,430.9 C311.2,425.8 314.1,423.5 320.7,420.2 C327.2,416.9 335.6,413.4 345.7,411.3 C355.8,409.2 369.5,408.0 381.4,407.7 C393.3,407.4 406.9,408.6 417.0,409.5 C427.1,410.4 434.6,411.9 442.0,413.1 C449.4,414.3 454.6,414.3 461.4,416.7 C468.2,419.1 476.9,423.2 482.8,427.4 C488.8,431.5 492.9,435.7 497.1,441.6 C501.3,447.5 503.6,457.6 507.8,463.0 C512.0,468.4 515.6,470.8 522.1,473.7 C528.6,476.6 539.3,479.0 547.0,480.2 C554.7,481.4 560.8,480.9 568.5,480.9 C576.2,480.9 585.2,481.1 593.5,480.2 C601.8,479.3 610.1,477.2 618.4,475.5 C626.7,473.8 634.5,471.8 643.4,470.2 C652.3,468.6 663.1,467.1 672.0,465.9 C680.9,464.7 688.1,463.6 697.0,463.0 C705.9,462.4 717.8,462.6 725.5,462.0 C733.2,461.4 737.4,460.8 743.4,459.5 C749.4,458.2 755.2,456.2 761.2,454.1 C767.2,452.0 772.9,450.0 779.1,447.0 C785.4,444.0 794.7,438.6 798.7,436.3 C802.7,434.0 802.3,433.6 803.0,433.0" fill="none" stroke="#000" stroke-width="2"/></g><rect x="78" y="359" width="725" height="1" fill="#000"/><rect x="78" y="540.5" width="725" height="1.5" fill="#000"/><rect x="78" y="358.5" width="2" height="183.5" fill="#000"/><rect x="801" y="358.5" width="2" height="183.5" fill="#000"/><text x="84.1" y="347" font-size="16" text-anchor="middle" >0</text><rect x="139.75" y="355" width="1.3" height="4" fill="#000"/><text x="144.1" y="347" font-size="16" text-anchor="middle" >30</text><rect x="199.75" y="355" width="1.3" height="4" fill="#000"/><text x="204.1" y="347" font-size="16" text-anchor="middle" >60</text><rect x="259.75" y="355" width="1.3" height="4" fill="#000"/><text x="264.1" y="347" font-size="16" text-anchor="middle" >90</text><rect x="319.75" y="355" width="1.3" height="4" fill="#000"/><text x="324.1" y="347" font-size="16" text-anchor="middle" >120</text><rect x="379.75" y="355" width="1.3" height="4" fill="#000"/><text x="384.1" y="347" font-size="16" text-anchor="middle" >150</text><rect x="439.75" y="355" width="1.3" height="4" fill="#000"/><text x="444.1" y="347" font-size="16" text-anchor="middle" >180</text><rect x="499.75" y="355" width="1.3" height="4" fill="#000"/><text x="504.1" y="347" font-size="16" text-anchor="middle" >210</text><rect x="559.75" y="355" width="1.3" height="4" fill="#000"/><text x="564.1" y="347" font-size="16" text-anchor="middle" >240</text><rect x="619.75" y="355" width="1.3" height="4" fill="#000"/><text x="624.1" y="347" font-size="16" text-anchor="middle" >270</text><rect x="679.75" y="355" width="1.3" height="4" fill="#000"/><text x="684.1" y="347" font-size="16" text-anchor="middle" >300</text><rect x="739.75" y="355" width="1.3" height="4" fill="#000"/><text x="744.1" y="347" font-size="16" text-anchor="middle" >330</text><text x="804.1" y="347" font-size="16" text-anchor="middle" >360</text><text x="73" y="370.0" font-size="16" text-anchor="end" >90</text><text x="833" y="370.0" font-size="16" text-anchor="end" >90</text><rect x="75" y="389.75" width="3" height="1.3" fill="#000"/><rect x="803" y="389.75" width="3" height="1.3" fill="#000"/><text x="73" y="400.0" font-size="16" text-anchor="end" >60</text><text x="833" y="400.0" font-size="16" text-anchor="end" >60</text><rect x="75" y="419.75" width="3" height="1.3" fill="#000"/><rect x="803" y="419.75" width="3" height="1.3" fill="#000"/><text x="73" y="430.0" font-size="16" text-anchor="end" >30</text><text x="833" y="430.0" font-size="16" text-anchor="end" >30</text><text x="69.3" y="460.0" font-size="16" text-anchor="end" >0</text><text x="829.3" y="460.0" font-size="16" text-anchor="end" >0</text><rect x="75" y="479.75" width="3" height="1.3" fill="#000"/><rect x="803" y="479.75" width="3" height="1.3" fill="#000"/><text x="73" y="490.0" font-size="16" text-anchor="end" >-30</text><text x="833" y="490.0" font-size="16" text-anchor="end" >-30</text><rect x="75" y="509.75" width="3" height="1.3" fill="#000"/><rect x="803" y="509.75" width="3" height="1.3" fill="#000"/><text x="73" y="520.0" font-size="16" text-anchor="end" >-60</text><text x="833" y="520.0" font-size="16" text-anchor="end" >-60</text><text x="73" y="550.0" font-size="16" text-anchor="end" >-90</text><text x="833" y="550.0" font-size="16" text-anchor="end" >-90</text><rect x="83.85" y="541.5" width="1.3" height="3" fill="#000"/><rect x="110.24" y="541.5" width="1.3" height="3" fill="#000"/><rect x="136.64" y="541.5" width="1.3" height="8" fill="#000"/><rect x="163.03" y="541.5" width="1.3" height="3" fill="#000"/><rect x="189.43" y="541.5" width="1.3" height="3" fill="#000"/><rect x="215.82" y="541.5" width="1.3" height="3" fill="#000"/><rect x="242.22" y="541.5" width="1.3" height="3" fill="#000"/><rect x="268.62" y="541.5" width="1.3" height="8" fill="#000"/><rect x="295.01" y="541.5" width="1.3" height="3" fill="#000"/><rect x="321.41" y="541.5" width="1.3" height="3" fill="#000"/><rect x="347.80" y="541.5" width="1.3" height="3" fill="#000"/><rect x="374.19" y="541.5" width="1.3" height="17" fill="#000"/><rect x="400.59" y="541.5" width="1.3" height="3" fill="#000"/><rect x="426.99" y="541.5" width="1.3" height="8" fill="#000"/><rect x="453.38" y="541.5" width="1.3" height="3" fill="#000"/><rect x="479.78" y="541.5" width="1.3" height="3" fill="#000"/><rect x="506.17" y="541.5" width="1.3" height="3" fill="#000"/><rect x="532.56" y="541.5" width="1.3" height="3" fill="#000"/><rect x="558.96" y="541.5" width="1.3" height="8" fill="#000"/><rect x="585.36" y="541.5" width="1.3" height="3" fill="#000"/><rect x="611.75" y="541.5" width="1.3" height="3" fill="#000"/><rect x="638.14" y="541.5" width="1.3" height="3" fill="#000"/><rect x="664.54" y="541.5" width="1.3" height="3" fill="#000"/><rect x="690.94" y="541.5" width="1.3" height="8" fill="#000"/><rect x="717.33" y="541.5" width="1.3" height="3" fill="#000"/><rect x="743.73" y="541.5" width="1.3" height="3" fill="#000"/><rect x="770.12" y="541.5" width="1.3" height="3" fill="#000"/><rect x="796.51" y="541.5" width="1.3" height="3" fill="#000"/><text x="136.7" y="567.5" font-size="16" text-anchor="end" >10</text><text x="259.3" y="567.5" font-size="16" text-anchor="end" >5</text><text x="427" y="567.5" font-size="16" text-anchor="end" >30</text><text x="559" y="567.5" font-size="16" text-anchor="end" >25</text><text x="691.4" y="567.5" font-size="16" text-anchor="end" >20</text><g clip-path="url(#clip2)"><g filter="url(#hblur3)"><rect x="47" y="610" width="10" height="200" fill="url(#g3_0)"/><rect x="55" y="610" width="10" height="200" fill="url(#g3_1)"/><rect x="63" y="610" width="10" height="200" fill="url(#g3_2)"/><rect x="71" y="610" width="10" height="200" fill="url(#g3_3)"/><rect x="79" y="610" width="10" height="200" fill="url(#g3_4)"/><rect x="87" y="610" width="10" height="200" fill="url(#g3_5)"/><rect x="95" y="610" width="10" height="200" fill="url(#g3_6)"/><rect x="103" y="610" width="10" height="200" fill="url(#g3_7)"/><rect x="111" y="610" width="10" height="200" fill="url(#g3_8)"/><rect x="119" y="610" width="10" height="200" fill="url(#g3_9)"/><rect x="127" y="610" width="10" height="200" fill="url(#g3_10)"/><rect x="135" y="610" width="10" height="200" fill="url(#g3_11)"/><rect x="143" y="610" width="10" height="200" fill="url(#g3_12)"/><rect x="151" y="610" width="10" height="200" fill="url(#g3_13)"/><rect x="159" y="610" width="10" height="200" fill="url(#g3_14)"/><rect x="167" y="610" width="10" height="200" fill="url(#g3_15)"/><rect x="175" y="610" width="10" height="200" fill="url(#g3_16)"/><rect x="183" y="610" width="10" height="200" fill="url(#g3_17)"/><rect x="191" y="610" width="10" height="200" fill="url(#g3_18)"/><rect x="199" y="610" width="10" height="200" fill="url(#g3_19)"/><rect x="207" y="610" width="10" height="200" fill="url(#g3_20)"/><rect x="215" y="610" width="10" height="200" fill="url(#g3_21)"/><rect x="223" y="610" width="10" height="200" fill="url(#g3_22)"/><rect x="231" y="610" width="10" height="200" fill="url(#g3_23)"/><rect x="239" y="610" width="10" height="200" fill="url(#g3_24)"/><rect x="247" y="610" width="10" height="200" fill="url(#g3_25)"/><rect x="255" y="610" width="10" height="200" fill="url(#g3_26)"/><rect x="263" y="610" width="10" height="200" fill="url(#g3_27)"/><rect x="271" y="610" width="10" height="200" fill="url(#g3_28)"/><rect x="279" y="610" width="10" height="200" fill="url(#g3_29)"/><rect x="287" y="610" width="10" height="200" fill="url(#g3_30)"/><rect x="295" y="610" width="10" height="200" fill="url(#g3_31)"/><rect x="303" y="610" width="10" height="200" fill="url(#g3_32)"/><rect x="311" y="610" width="10" height="200" fill="url(#g3_33)"/><rect x="319" y="610" width="10" height="200" fill="url(#g3_34)"/><rect x="327" y="610" width="10" height="200" fill="url(#g3_35)"/><rect x="335" y="610" width="10" height="200" fill="url(#g3_36)"/><rect x="343" y="610" width="10" height="200" fill="url(#g3_37)"/><rect x="351" y="610" width="10" height="200" fill="url(#g3_38)"/><rect x="359" y="610" width="10" height="200" fill="url(#g3_39)"/><rect x="367" y="610" width="10" height="200" fill="url(#g3_40)"/><rect x="375" y="610" width="10" height="200" fill="url(#g3_41)"/><rect x="383" y="610" width="10" height="200" fill="url(#g3_42)"/><rect x="391" y="610" width="10" height="200" fill="url(#g3_43)"/><rect x="399" y="610" width="10" height="200" fill="url(#g3_44)"/><rect x="407" y="610" width="10" height="200" fill="url(#g3_45)"/><rect x="415" y="610" width="10" height="200" fill="url(#g3_46)"/><rect x="423" y="610" width="10" height="200" fill="url(#g3_47)"/><rect x="431" y="610" width="10" height="200" fill="url(#g3_48)"/><rect x="439" y="610" width="10" height="200" fill="url(#g3_49)"/><rect x="447" y="610" width="10" height="200" fill="url(#g3_50)"/><rect x="455" y="610" width="10" height="200" fill="url(#g3_51)"/><rect x="463" y="610" width="10" height="200" fill="url(#g3_52)"/><rect x="471" y="610" width="10" height="200" fill="url(#g3_53)"/><rect x="479" y="610" width="10" height="200" fill="url(#g3_54)"/><rect x="487" y="610" width="10" height="200" fill="url(#g3_55)"/><rect x="495" y="610" width="10" height="200" fill="url(#g3_56)"/><rect x="503" y="610" width="10" height="200" fill="url(#g3_57)"/><rect x="511" y="610" width="10" height="200" fill="url(#g3_58)"/><rect x="519" y="610" width="10" height="200" fill="url(#g3_59)"/><rect x="527" y="610" width="10" height="200" fill="url(#g3_60)"/><rect x="535" y="610" width="10" height="200" fill="url(#g3_61)"/><rect x="543" y="610" width="10" height="200" fill="url(#g3_62)"/><rect x="551" y="610" width="10" height="200" fill="url(#g3_63)"/><rect x="559" y="610" width="10" height="200" fill="url(#g3_64)"/><rect x="567" y="610" width="10" height="200" fill="url(#g3_65)"/><rect x="575" y="610" width="10" height="200" fill="url(#g3_66)"/><rect x="583" y="610" width="10" height="200" fill="url(#g3_67)"/><rect x="591" y="610" width="10" height="200" fill="url(#g3_68)"/><rect x="599" y="610" width="10" height="200" fill="url(#g3_69)"/><rect x="607" y="610" width="10" height="200" fill="url(#g3_70)"/><rect x="615" y="610" width="10" height="200" fill="url(#g3_71)"/><rect x="623" y="610" width="10" height="200" fill="url(#g3_72)"/><rect x="631" y="610" width="10" height="200" fill="url(#g3_73)"/><rect x="639" y="610" width="10" height="200" fill="url(#g3_74)"/><rect x="647" y="610" width="10" height="200" fill="url(#g3_75)"/><rect x="655" y="610" width="10" height="200" fill="url(#g3_76)"/><rect x="663" y="610" width="10" height="200" fill="url(#g3_77)"/><rect x="671" y="610" width="10" height="200" fill="url(#g3_78)"/><rect x="679" y="610" width="10" height="200" fill="url(#g3_79)"/><rect x="687" y="610" width="10" height="200" fill="url(#g3_80)"/><rect x="695" y="610" width="10" height="200" fill="url(#g3_81)"/><rect x="703" y="610" width="10" height="200" fill="url(#g3_82)"/><rect x="711" y="610" width="10" height="200" fill="url(#g3_83)"/><rect x="719" y="610" width="10" height="200" fill="url(#g3_84)"/><rect x="727" y="610" width="10" height="200" fill="url(#g3_85)"/><rect x="735" y="610" width="10" height="200" fill="url(#g3_86)"/><rect x="743" y="610" width="10" height="200" fill="url(#g3_87)"/><rect x="751" y="610" width="10" height="200" fill="url(#g3_88)"/><rect x="759" y="610" width="10" height="200" fill="url(#g3_89)"/><rect x="767" y="610" width="10" height="200" fill="url(#g3_90)"/><rect x="775" y="610" width="10" height="200" fill="url(#g3_91)"/><rect x="783" y="610" width="10" height="200" fill="url(#g3_92)"/><rect x="791" y="610" width="10" height="200" fill="url(#g3_93)"/><rect x="799" y="610" width="10" height="200" fill="url(#g3_94)"/><rect x="807" y="610" width="10" height="200" fill="url(#g3_95)"/><rect x="815" y="610" width="10" height="200" fill="url(#g3_96)"/><rect x="823" y="610" width="10" height="200" fill="url(#g3_97)"/><rect x="831" y="610" width="10" height="200" fill="url(#g3_98)"/></g><g filter="url(#b4)" fill="#ff0a00"><polygon points="70,638 98,640 104,650 96,656 70,658"/><polygon points="176,650 200,646 240,651 262,660 258,665 230,663 190,660"/><polygon points="470,632 520,624 810,622 810,660 760,650 700,650 650,653 640,662 630,674 609,669 560,663 530,664 502,665 482,650"/><polygon points="70,736 100,731 122,734 140,744 185,750 180,775 120,792 70,797"/><polygon points="365,754 420,750 490,756 500,768 450,776 380,774"/><polygon points="520,770 600,764 700,752 740,754 800,742 810,745 810,786 700,790 560,786"/></g><polyline points="634,664 650,659 700,655 750,652 780,653 803,664 815,668" fill="none" stroke="#98e070" stroke-width="8" filter="url(#b2)"/><polygon points="60,660 99,650 117,647 139,647 160,653 178,665 263,668 285,661 300,658 316,654 356,649 409,646 428,639 459,636 475,642 502,670 528,668 556,666 600,672 634,680 645,662 700,657 760,658 800,665 820,668 820,734 787,737 762,745 724,747 699,742 650,747 600,757 560,761 528,761 488,756 449,750 409,745 364,748 330,756 300,757 263,757 230,755 198,749 176,746 143,744 121,735 100,731 60,729" fill="url(#streak)" fill-opacity="0.22" filter="url(#b2)"/><g filter="url(#b2)" fill="#ff0a00"><polygon points="140,730 170,726 210,730 205,738 150,738"/></g><g filter="url(#b3)"><polygon points="669,665 730,662 805,668 805,690 760,692 690,704" fill="url(#wedgeR)"/><ellipse cx="572" cy="706" rx="30" ry="17" fill="#d08838" filter="url(#b6)"/><polygon points="556,682 590,679 632,722 600,714" fill="#ff0a00"/></g><g filter="url(#b8)"><ellipse cx="412" cy="713" rx="55" ry="17" fill="#c8a848"/><ellipse cx="150" cy="716" rx="30" ry="8" fill="#b8e070"/></g><g filter="url(#b6)"><ellipse cx="255" cy="703" rx="42" ry="14" fill="#3090d0" fill-opacity="0.7"/><ellipse cx="125" cy="700" rx="50" ry="16" fill="#58d0c8" fill-opacity="0.5"/></g><path d="M182,690 Q240,682 300,682 Q330,678 345,668" fill="none" stroke="#3080d8" stroke-width="4" stroke-opacity="0.8" filter="url(#b2)"/><ellipse cx="287" cy="620" rx="5" ry="3" fill="#ff0800" filter="url(#b1)"/></g><rect x="78" y="619" width="725" height="1" fill="#000"/><rect x="78" y="800.5" width="725" height="1.5" fill="#000"/><rect x="78" y="618.5" width="2" height="183.5" fill="#000"/><rect x="801" y="618.5" width="2" height="183.5" fill="#000"/><text x="84.1" y="607" font-size="16" text-anchor="middle" >0</text><rect x="139.75" y="615" width="1.3" height="4" fill="#000"/><text x="144.1" y="607" font-size="16" text-anchor="middle" >30</text><rect x="199.75" y="615" width="1.3" height="4" fill="#000"/><text x="204.1" y="607" font-size="16" text-anchor="middle" >60</text><rect x="259.75" y="615" width="1.3" height="4" fill="#000"/><text x="264.1" y="607" font-size="16" text-anchor="middle" >90</text><rect x="319.75" y="615" width="1.3" height="4" fill="#000"/><text x="324.1" y="607" font-size="16" text-anchor="middle" >120</text><rect x="379.75" y="615" width="1.3" height="4" fill="#000"/><text x="384.1" y="607" font-size="16" text-anchor="middle" >150</text><rect x="439.75" y="615" width="1.3" height="4" fill="#000"/><text x="444.1" y="607" font-size="16" text-anchor="middle" >180</text><rect x="499.75" y="615" width="1.3" height="4" fill="#000"/><text x="504.1" y="607" font-size="16" text-anchor="middle" >210</text><rect x="559.75" y="615" width="1.3" height="4" fill="#000"/><text x="564.1" y="607" font-size="16" text-anchor="middle" >240</text><rect x="619.75" y="615" width="1.3" height="4" fill="#000"/><text x="624.1" y="607" font-size="16" text-anchor="middle" >270</text><rect x="679.75" y="615" width="1.3" height="4" fill="#000"/><text x="684.1" y="607" font-size="16" text-anchor="middle" >300</text><rect x="739.75" y="615" width="1.3" height="4" fill="#000"/><text x="744.1" y="607" font-size="16" text-anchor="middle" >330</text><text x="804.1" y="607" font-size="16" text-anchor="middle" >360</text><text x="73" y="630.0" font-size="16" text-anchor="end" >90</text><text x="833" y="630.0" font-size="16" text-anchor="end" >90</text><rect x="75" y="649.75" width="3" height="1.3" fill="#000"/><rect x="803" y="649.75" width="3" height="1.3" fill="#000"/><text x="73" y="660.0" font-size="16" text-anchor="end" >60</text><text x="833" y="660.0" font-size="16" text-anchor="end" >60</text><rect x="75" y="679.75" width="3" height="1.3" fill="#000"/><rect x="803" y="679.75" width="3" height="1.3" fill="#000"/><text x="73" y="690.0" font-size="16" text-anchor="end" >30</text><text x="833" y="690.0" font-size="16" text-anchor="end" >30</text><text x="69.3" y="720.0" font-size="16" text-anchor="end" >0</text><text x="829.3" y="720.0" font-size="16" text-anchor="end" >0</text><rect x="75" y="739.75" width="3" height="1.3" fill="#000"/><rect x="803" y="739.75" width="3" height="1.3" fill="#000"/><text x="73" y="750.0" font-size="16" text-anchor="end" >-30</text><text x="833" y="750.0" font-size="16" text-anchor="end" >-30</text><rect x="75" y="769.75" width="3" height="1.3" fill="#000"/><rect x="803" y="769.75" width="3" height="1.3" fill="#000"/><text x="73" y="780.0" font-size="16" text-anchor="end" >-60</text><text x="833" y="780.0" font-size="16" text-anchor="end" >-60</text><text x="73" y="810.0" font-size="16" text-anchor="end" >-90</text><text x="833" y="810.0" font-size="16" text-anchor="end" >-90</text><rect x="83.85" y="801.5" width="1.3" height="3" fill="#000"/><rect x="110.24" y="801.5" width="1.3" height="3" fill="#000"/><rect x="136.64" y="801.5" width="1.3" height="8" fill="#000"/><rect x="163.03" y="801.5" width="1.3" height="3" fill="#000"/><rect x="189.43" y="801.5" width="1.3" height="3" fill="#000"/><rect x="215.82" y="801.5" width="1.3" height="3" fill="#000"/><rect x="242.22" y="801.5" width="1.3" height="3" fill="#000"/><rect x="268.62" y="801.5" width="1.3" height="8" fill="#000"/><rect x="295.01" y="801.5" width="1.3" height="3" fill="#000"/><rect x="321.41" y="801.5" width="1.3" height="3" fill="#000"/><rect x="347.80" y="801.5" width="1.3" height="3" fill="#000"/><rect x="374.19" y="801.5" width="1.3" height="17" fill="#000"/><rect x="400.59" y="801.5" width="1.3" height="3" fill="#000"/><rect x="426.99" y="801.5" width="1.3" height="8" fill="#000"/><rect x="453.38" y="801.5" width="1.3" height="3" fill="#000"/><rect x="479.78" y="801.5" width="1.3" height="3" fill="#000"/><rect x="506.17" y="801.5" width="1.3" height="3" fill="#000"/><rect x="532.56" y="801.5" width="1.3" height="3" fill="#000"/><rect x="558.96" y="801.5" width="1.3" height="8" fill="#000"/><rect x="585.36" y="801.5" width="1.3" height="3" fill="#000"/><rect x="611.75" y="801.5" width="1.3" height="3" fill="#000"/><rect x="638.14" y="801.5" width="1.3" height="3" fill="#000"/><rect x="664.54" y="801.5" width="1.3" height="3" fill="#000"/><rect x="690.94" y="801.5" width="1.3" height="8" fill="#000"/><rect x="717.33" y="801.5" width="1.3" height="3" fill="#000"/><rect x="743.73" y="801.5" width="1.3" height="3" fill="#000"/><rect x="770.12" y="801.5" width="1.3" height="3" fill="#000"/><rect x="796.51" y="801.5" width="1.3" height="3" fill="#000"/><text x="136.7" y="827.5" font-size="16" text-anchor="end" >10</text><text x="259.3" y="827.5" font-size="16" text-anchor="end" >5</text><text x="427" y="827.5" font-size="16" text-anchor="end" >30</text><text x="559" y="827.5" font-size="16" text-anchor="end" >25</text><text x="691.4" y="827.5" font-size="16" text-anchor="end" >20</text><g clip-path="url(#clip3)"><g filter="url(#hblur)"><rect x="47" y="879" width="10" height="183" fill="url(#g4_0)"/><rect x="55" y="879" width="10" height="183" fill="url(#g4_1)"/><rect x="63" y="879" width="10" height="183" fill="url(#g4_2)"/><rect x="71" y="879" width="10" height="183" fill="url(#g4_3)"/><rect x="79" y="879" width="10" height="183" fill="url(#g4_4)"/><rect x="87" y="879" width="10" height="183" fill="url(#g4_5)"/><rect x="95" y="879" width="10" height="183" fill="url(#g4_6)"/><rect x="103" y="879" width="10" height="183" fill="url(#g4_7)"/><rect x="111" y="879" width="10" height="183" fill="url(#g4_8)"/><rect x="119" y="879" width="10" height="183" fill="url(#g4_9)"/><rect x="127" y="879" width="10" height="183" fill="url(#g4_10)"/><rect x="135" y="879" width="10" height="183" fill="url(#g4_11)"/><rect x="143" y="879" width="10" height="183" fill="url(#g4_12)"/><rect x="151" y="879" width="10" height="183" fill="url(#g4_13)"/><rect x="159" y="879" width="10" height="183" fill="url(#g4_14)"/><rect x="167" y="879" width="10" height="183" fill="url(#g4_15)"/><rect x="175" y="879" width="10" height="183" fill="url(#g4_16)"/><rect x="183" y="879" width="10" height="183" fill="url(#g4_17)"/><rect x="191" y="879" width="10" height="183" fill="url(#g4_18)"/><rect x="199" y="879" width="10" height="183" fill="url(#g4_19)"/><rect x="207" y="879" width="10" height="183" fill="url(#g4_20)"/><rect x="215" y="879" width="10" height="183" fill="url(#g4_21)"/><rect x="223" y="879" width="10" height="183" fill="url(#g4_22)"/><rect x="231" y="879" width="10" height="183" fill="url(#g4_23)"/><rect x="239" y="879" width="10" height="183" fill="url(#g4_24)"/><rect x="247" y="879" width="10" height="183" fill="url(#g4_25)"/><rect x="255" y="879" width="10" height="183" fill="url(#g4_26)"/><rect x="263" y="879" width="10" height="183" fill="url(#g4_27)"/><rect x="271" y="879" width="10" height="183" fill="url(#g4_28)"/><rect x="279" y="879" width="10" height="183" fill="url(#g4_29)"/><rect x="287" y="879" width="10" height="183" fill="url(#g4_30)"/><rect x="295" y="879" width="10" height="183" fill="url(#g4_31)"/><rect x="303" y="879" width="10" height="183" fill="url(#g4_32)"/><rect x="311" y="879" width="10" height="183" fill="url(#g4_33)"/><rect x="319" y="879" width="10" height="183" fill="url(#g4_34)"/><rect x="327" y="879" width="10" height="183" fill="url(#g4_35)"/><rect x="335" y="879" width="10" height="183" fill="url(#g4_36)"/><rect x="343" y="879" width="10" height="183" fill="url(#g4_37)"/><rect x="351" y="879" width="10" height="183" fill="url(#g4_38)"/><rect x="359" y="879" width="10" height="183" fill="url(#g4_39)"/><rect x="367" y="879" width="10" height="183" fill="url(#g4_40)"/><rect x="375" y="879" width="10" height="183" fill="url(#g4_41)"/><rect x="383" y="879" width="10" height="183" fill="url(#g4_42)"/><rect x="391" y="879" width="10" height="183" fill="url(#g4_43)"/><rect x="399" y="879" width="10" height="183" fill="url(#g4_44)"/><rect x="407" y="879" width="10" height="183" fill="url(#g4_45)"/><rect x="415" y="879" width="10" height="183" fill="url(#g4_46)"/><rect x="423" y="879" width="10" height="183" fill="url(#g4_47)"/><rect x="431" y="879" width="10" height="183" fill="url(#g4_48)"/><rect x="439" y="879" width="10" height="183" fill="url(#g4_49)"/><rect x="447" y="879" width="10" height="183" fill="url(#g4_50)"/><rect x="455" y="879" width="10" height="183" fill="url(#g4_51)"/><rect x="463" y="879" width="10" height="183" fill="url(#g4_52)"/><rect x="471" y="879" width="10" height="183" fill="url(#g4_53)"/><rect x="479" y="879" width="10" height="183" fill="url(#g4_54)"/><rect x="487" y="879" width="10" height="183" fill="url(#g4_55)"/><rect x="495" y="879" width="10" height="183" fill="url(#g4_56)"/><rect x="503" y="879" width="10" height="183" fill="url(#g4_57)"/><rect x="511" y="879" width="10" height="183" fill="url(#g4_58)"/><rect x="519" y="879" width="10" height="183" fill="url(#g4_59)"/><rect x="527" y="879" width="10" height="183" fill="url(#g4_60)"/><rect x="535" y="879" width="10" height="183" fill="url(#g4_61)"/><rect x="543" y="879" width="10" height="183" fill="url(#g4_62)"/><rect x="551" y="879" width="10" height="183" fill="url(#g4_63)"/><rect x="559" y="879" width="10" height="183" fill="url(#g4_64)"/><rect x="567" y="879" width="10" height="183" fill="url(#g4_65)"/><rect x="575" y="879" width="10" height="183" fill="url(#g4_66)"/><rect x="583" y="879" width="10" height="183" fill="url(#g4_67)"/><rect x="591" y="879" width="10" height="183" fill="url(#g4_68)"/><rect x="599" y="879" width="10" height="183" fill="url(#g4_69)"/><rect x="607" y="879" width="10" height="183" fill="url(#g4_70)"/><rect x="615" y="879" width="10" height="183" fill="url(#g4_71)"/><rect x="623" y="879" width="10" height="183" fill="url(#g4_72)"/><rect x="631" y="879" width="10" height="183" fill="url(#g4_73)"/><rect x="639" y="879" width="10" height="183" fill="url(#g4_74)"/><rect x="647" y="879" width="10" height="183" fill="url(#g4_75)"/><rect x="655" y="879" width="10" height="183" fill="url(#g4_76)"/><rect x="663" y="879" width="10" height="183" fill="url(#g4_77)"/><rect x="671" y="879" width="10" height="183" fill="url(#g4_78)"/><rect x="679" y="879" width="10" height="183" fill="url(#g4_79)"/><rect x="687" y="879" width="10" height="183" fill="url(#g4_80)"/><rect x="695" y="879" width="10" height="183" fill="url(#g4_81)"/><rect x="703" y="879" width="10" height="183" fill="url(#g4_82)"/><rect x="711" y="879" width="10" height="183" fill="url(#g4_83)"/><rect x="719" y="879" width="10" height="183" fill="url(#g4_84)"/><rect x="727" y="879" width="10" height="183" fill="url(#g4_85)"/><rect x="735" y="879" width="10" height="183" fill="url(#g4_86)"/><rect x="743" y="879" width="10" height="183" fill="url(#g4_87)"/><rect x="751" y="879" width="10" height="183" fill="url(#g4_88)"/><rect x="759" y="879" width="10" height="183" fill="url(#g4_89)"/><rect x="767" y="879" width="10" height="183" fill="url(#g4_90)"/><rect x="775" y="879" width="10" height="183" fill="url(#g4_91)"/><rect x="783" y="879" width="10" height="183" fill="url(#g4_92)"/><rect x="791" y="879" width="10" height="183" fill="url(#g4_93)"/><rect x="799" y="879" width="10" height="183" fill="url(#g4_94)"/><rect x="807" y="879" width="10" height="183" fill="url(#g4_95)"/><rect x="815" y="879" width="10" height="183" fill="url(#g4_96)"/><rect x="823" y="879" width="10" height="183" fill="url(#g4_97)"/><rect x="831" y="879" width="10" height="183" fill="url(#g4_98)"/></g><path d="M78.0,952.7 C81.0,951.2 89.8,945.9 95.8,943.8 C101.8,941.7 106.0,940.8 113.7,940.2 C121.4,939.6 133.3,939.0 142.2,940.2 C151.1,941.4 160.1,944.7 167.2,947.4 C174.3,950.1 178.4,953.0 185.0,956.3 C191.6,959.6 199.3,964.0 206.5,967.0 C213.7,970.0 220.8,972.3 227.9,974.1 C235.0,975.9 241.0,977.3 249.3,977.7 C257.6,978.1 270.8,977.8 277.9,976.6 C285.0,975.4 287.4,974.8 292.1,970.5 C296.9,966.2 301.6,955.9 306.4,950.9 C311.2,945.9 314.1,943.5 320.7,940.2 C327.2,936.9 335.6,933.4 345.7,931.3 C355.8,929.2 369.5,928.0 381.4,927.7 C393.3,927.4 406.9,928.6 417.0,929.5 C427.1,930.4 434.6,931.9 442.0,933.1 C449.4,934.3 454.6,934.3 461.4,936.7 C468.2,939.1 476.9,943.2 482.8,947.4 C488.8,951.5 492.9,955.7 497.1,961.6 C501.3,967.5 503.6,977.6 507.8,983.0 C512.0,988.4 515.6,990.8 522.1,993.7 C528.6,996.6 539.3,999.0 547.0,1000.2 C554.7,1001.4 560.8,1000.9 568.5,1000.9 C576.2,1000.9 585.2,1001.1 593.5,1000.2 C601.8,999.3 610.1,997.2 618.4,995.5 C626.7,993.8 634.5,991.8 643.4,990.2 C652.3,988.6 663.1,987.1 672.0,985.9 C680.9,984.7 688.1,983.6 697.0,983.0 C705.9,982.4 717.8,982.6 725.5,982.0 C733.2,981.4 737.4,980.8 743.4,979.5 C749.4,978.2 755.2,976.2 761.2,974.1 C767.2,972.0 772.9,970.0 779.1,967.0 C785.4,964.0 794.7,958.6 798.7,956.3 C802.7,954.0 802.3,953.5 803.0,953.0" fill="none" stroke="#000" stroke-width="2"/></g><rect x="78" y="879" width="725" height="1" fill="#000"/><rect x="78" y="1060.5" width="725" height="1.5" fill="#000"/><rect x="78" y="878.5" width="2" height="183.5" fill="#000"/><rect x="801" y="878.5" width="2" height="183.5" fill="#000"/><text x="84.1" y="867" font-size="16" text-anchor="middle" >0</text><rect x="139.75" y="875" width="1.3" height="4" fill="#000"/><text x="144.1" y="867" font-size="16" text-anchor="middle" >30</text><rect x="199.75" y="875" width="1.3" height="4" fill="#000"/><text x="204.1" y="867" font-size="16" text-anchor="middle" >60</text><rect x="259.75" y="875" width="1.3" height="4" fill="#000"/><text x="264.1" y="867" font-size="16" text-anchor="middle" >90</text><rect x="319.75" y="875" width="1.3" height="4" fill="#000"/><text x="324.1" y="867" font-size="16" text-anchor="middle" >120</text><rect x="379.75" y="875" width="1.3" height="4" fill="#000"/><text x="384.1" y="867" font-size="16" text-anchor="middle" >150</text><rect x="439.75" y="875" width="1.3" height="4" fill="#000"/><text x="444.1" y="867" font-size="16" text-anchor="middle" >180</text><rect x="499.75" y="875" width="1.3" height="4" fill="#000"/><text x="504.1" y="867" font-size="16" text-anchor="middle" >210</text><rect x="559.75" y="875" width="1.3" height="4" fill="#000"/><text x="564.1" y="867" font-size="16" text-anchor="middle" >240</text><rect x="619.75" y="875" width="1.3" height="4" fill="#000"/><text x="624.1" y="867" font-size="16" text-anchor="middle" >270</text><rect x="679.75" y="875" width="1.3" height="4" fill="#000"/><text x="684.1" y="867" font-size="16" text-anchor="middle" >300</text><rect x="739.75" y="875" width="1.3" height="4" fill="#000"/><text x="744.1" y="867" font-size="16" text-anchor="middle" >330</text><text x="804.1" y="867" font-size="16" text-anchor="middle" >360</text><text x="73" y="890.0" font-size="16" text-anchor="end" >90</text><text x="833" y="890.0" font-size="16" text-anchor="end" >90</text><rect x="75" y="909.75" width="3" height="1.3" fill="#000"/><rect x="803" y="909.75" width="3" height="1.3" fill="#000"/><text x="73" y="920.0" font-size="16" text-anchor="end" >60</text><text x="833" y="920.0" font-size="16" text-anchor="end" >60</text><rect x="75" y="939.75" width="3" height="1.3" fill="#000"/><rect x="803" y="939.75" width="3" height="1.3" fill="#000"/><text x="73" y="950.0" font-size="16" text-anchor="end" >30</text><text x="833" y="950.0" font-size="16" text-anchor="end" >30</text><text x="69.3" y="980.0" font-size="16" text-anchor="end" >0</text><text x="829.3" y="980.0" font-size="16" text-anchor="end" >0</text><rect x="75" y="999.75" width="3" height="1.3" fill="#000"/><rect x="803" y="999.75" width="3" height="1.3" fill="#000"/><text x="73" y="1010.0" font-size="16" text-anchor="end" >-30</text><text x="833" y="1010.0" font-size="16" text-anchor="end" >-30</text><rect x="75" y="1029.75" width="3" height="1.3" fill="#000"/><rect x="803" y="1029.75" width="3" height="1.3" fill="#000"/><text x="73" y="1040.0" font-size="16" text-anchor="end" >-60</text><text x="833" y="1040.0" font-size="16" text-anchor="end" >-60</text><text x="73" y="1070.0" font-size="16" text-anchor="end" >-90</text><text x="833" y="1070.0" font-size="16" text-anchor="end" >-90</text><rect x="83.85" y="1061.5" width="1.3" height="3" fill="#000"/><rect x="110.24" y="1061.5" width="1.3" height="3" fill="#000"/><rect x="136.64" y="1061.5" width="1.3" height="8" fill="#000"/><rect x="163.03" y="1061.5" width="1.3" height="3" fill="#000"/><rect x="189.43" y="1061.5" width="1.3" height="3" fill="#000"/><rect x="215.82" y="1061.5" width="1.3" height="3" fill="#000"/><rect x="242.22" y="1061.5" width="1.3" height="3" fill="#000"/><rect x="268.62" y="1061.5" width="1.3" height="8" fill="#000"/><rect x="295.01" y="1061.5" width="1.3" height="3" fill="#000"/><rect x="321.41" y="1061.5" width="1.3" height="3" fill="#000"/><rect x="347.80" y="1061.5" width="1.3" height="3" fill="#000"/><rect x="374.19" y="1061.5" width="1.3" height="17" fill="#000"/><rect x="400.59" y="1061.5" width="1.3" height="3" fill="#000"/><rect x="426.99" y="1061.5" width="1.3" height="8" fill="#000"/><rect x="453.38" y="1061.5" width="1.3" height="3" fill="#000"/><rect x="479.78" y="1061.5" width="1.3" height="3" fill="#000"/><rect x="506.17" y="1061.5" width="1.3" height="3" fill="#000"/><rect x="532.56" y="1061.5" width="1.3" height="3" fill="#000"/><rect x="558.96" y="1061.5" width="1.3" height="8" fill="#000"/><rect x="585.36" y="1061.5" width="1.3" height="3" fill="#000"/><rect x="611.75" y="1061.5" width="1.3" height="3" fill="#000"/><rect x="638.14" y="1061.5" width="1.3" height="3" fill="#000"/><rect x="664.54" y="1061.5" width="1.3" height="3" fill="#000"/><rect x="690.94" y="1061.5" width="1.3" height="8" fill="#000"/><rect x="717.33" y="1061.5" width="1.3" height="3" fill="#000"/><rect x="743.73" y="1061.5" width="1.3" height="3" fill="#000"/><rect x="770.12" y="1061.5" width="1.3" height="3" fill="#000"/><rect x="796.51" y="1061.5" width="1.3" height="3" fill="#000"/><text x="136.7" y="1087.5" font-size="16" text-anchor="end" >10</text><text x="259.3" y="1087.5" font-size="16" text-anchor="end" >5</text><text x="427" y="1087.5" font-size="16" text-anchor="end" >30</text><text x="559" y="1087.5" font-size="16" text-anchor="end" >25</text><text x="691.4" y="1087.5" font-size="16" text-anchor="end" >20</text><text x="80" y="1104.5" font-size="16" text-anchor="start" >Apr</text><text x="458" y="1109.8" font-size="16" text-anchor="middle" >2016</text><text x="758.5" y="1109.8" font-size="16" text-anchor="middle" >Nr:2175</text><text x="800" y="1104.5" font-size="16" text-anchor="start" >Mar</text><rect x="870" y="99.30" width="20" height="8.90" fill="#fa0404"/><rect x="870" y="107.90" width="20" height="8.90" fill="#fa1616"/><rect x="870" y="116.51" width="20" height="8.90" fill="#fa2929"/><rect x="870" y="125.11" width="20" height="8.90" fill="#f93b3b"/><rect x="870" y="133.72" width="20" height="8.90" fill="#f94e4e"/><rect x="870" y="142.32" width="20" height="8.90" fill="#f96060"/><rect x="870" y="150.93" width="20" height="8.90" fill="#f97373"/><rect x="870" y="159.53" width="20" height="8.90" fill="#f88585"/><rect x="870" y="168.14" width="20" height="8.90" fill="#f89898"/><rect x="870" y="176.74" width="20" height="8.90" fill="#f8aaaa"/><rect x="870" y="185.35" width="20" height="8.90" fill="#d8d8d8"/><rect x="870" y="193.95" width="20" height="8.90" fill="#aaaaf8"/><rect x="870" y="202.56" width="20" height="8.90" fill="#9999f8"/><rect x="870" y="211.16" width="20" height="8.90" fill="#8989f9"/><rect x="870" y="219.77" width="20" height="8.90" fill="#7878f9"/><rect x="870" y="228.37" width="20" height="8.90" fill="#6767fa"/><rect x="870" y="236.98" width="20" height="8.90" fill="#5757fa"/><rect x="870" y="245.58" width="20" height="8.90" fill="#4646fb"/><rect x="870" y="254.19" width="20" height="8.90" fill="#3535fb"/><rect x="870" y="262.79" width="20" height="8.90" fill="#2525fc"/><rect x="870" y="271.40" width="20" height="8.90" fill="#1414fc"/><rect x="892" y="108" width="5" height="1.3" fill="#000"/><rect x="892" y="117" width="5" height="1.3" fill="#000"/><rect x="892" y="125" width="5" height="1.3" fill="#000"/><rect x="892" y="134" width="5" height="1.3" fill="#000"/><rect x="892" y="142" width="5" height="1.3" fill="#000"/><rect x="892" y="151" width="5" height="1.3" fill="#000"/><rect x="892" y="159" width="5" height="1.3" fill="#000"/><rect x="892" y="168" width="5" height="1.3" fill="#000"/><rect x="892" y="177" width="5" height="1.3" fill="#000"/><rect x="892" y="185" width="5" height="1.3" fill="#000"/><rect x="892" y="194" width="5" height="1.3" fill="#000"/><rect x="892" y="202" width="5" height="1.3" fill="#000"/><rect x="892" y="211" width="5" height="1.3" fill="#000"/><rect x="892" y="219" width="5" height="1.3" fill="#000"/><rect x="892" y="228" width="5" height="1.3" fill="#000"/><rect x="892" y="237" width="5" height="1.3" fill="#000"/><rect x="892" y="245" width="5" height="1.3" fill="#000"/><rect x="892" y="254" width="5" height="1.3" fill="#000"/><rect x="892" y="262" width="5" height="1.3" fill="#000"/><rect x="892" y="271" width="5" height="1.3" fill="#000"/><rect x="892" y="280" width="5" height="1.3" fill="#000"/><text x="900.5" y="112.7" font-size="13">512</text><text x="900.5" y="129.8" font-size="13">128</text><text x="900.5" y="147.0" font-size="13">32</text><text x="900.5" y="164.1" font-size="13">8</text><text x="900.5" y="181.3" font-size="13">2</text><text x="900.5" y="198.4" font-size="13">0</text><text x="900.5" y="215.6" font-size="13">-2</text><text x="900.5" y="232.7" font-size="13">-8</text><text x="900.5" y="249.9" font-size="13">-32</text><text x="900.5" y="267.1" font-size="13">-128</text><text x="900.5" y="284.2" font-size="13">-512</text><text x="840" y="93" font-size="13">Photospheric field Br</text><text x="950" y="203" font-size="13">B, G</text><rect x="870" y="360" width="21" height="181" fill="url(#gv)"/><rect x="892" y="361" width="4" height="1.3" fill="#000"/><text x="899.5" y="370.0" font-size="16">750</text><rect x="892" y="397" width="4" height="1.3" fill="#000"/><text x="899.5" y="406.0" font-size="16">650</text><rect x="892" y="433" width="4" height="1.3" fill="#000"/><text x="899.5" y="442.0" font-size="16">550</text><rect x="892" y="469" width="4" height="1.3" fill="#000"/><text x="899.5" y="478.0" font-size="16">450</text><rect x="892" y="505" width="4" height="1.3" fill="#000"/><text x="899.5" y="514.0" font-size="16">350</text><rect x="892" y="541" width="4" height="1.3" fill="#000"/><text x="899.5" y="550.0" font-size="16">250</text><text x="840" y="354.7" font-size="16.2">Derived coronal holes</text><text x="950" y="465" font-size="16">km/s</text><rect x="870" y="620" width="21" height="181" fill="url(#gv)"/><rect x="892" y="621" width="4" height="1.3" fill="#000"/><text x="899.5" y="630.0" font-size="16">750</text><rect x="892" y="657" width="4" height="1.3" fill="#000"/><text x="899.5" y="666.0" font-size="16">650</text><rect x="892" y="693" width="4" height="1.3" fill="#000"/><text x="899.5" y="702.0" font-size="16">550</text><rect x="892" y="729" width="4" height="1.3" fill="#000"/><text x="899.5" y="738.0" font-size="16">450</text><rect x="892" y="765" width="4" height="1.3" fill="#000"/><text x="899.5" y="774.0" font-size="16">350</text><rect x="892" y="801" width="4" height="1.3" fill="#000"/><text x="899.5" y="810.0" font-size="16">250</text><text x="840" y="614.7" font-size="16">Solar wind speed</text><text x="950" y="725" font-size="16">V, km/s</text><rect x="870" y="880" width="21" height="181" fill="url(#gs)"/><rect x="892" y="881" width="4" height="1.3" fill="#000"/><text x="899.5" y="890.0" font-size="16" clip-path="url(#lblclip)">0,27</text><rect x="892" y="917" width="4" height="1.3" fill="#000"/><text x="899.5" y="926.0" font-size="16">0,12</text><rect x="892" y="953" width="4" height="1.3" fill="#000"/><text x="899.5" y="962.0" font-size="16">-0,03</text><rect x="892" y="989" width="4" height="1.3" fill="#000"/><text x="899.5" y="998.0" font-size="16">-0,19</text><rect x="892" y="1025" width="4" height="1.3" fill="#000"/><text x="899.5" y="1034.0" font-size="16">-0,34</text><rect x="892" y="1061" width="4" height="1.3" fill="#000"/><text x="899.5" y="1070.0" font-size="16">-0,5</text><text x="840" y="874.7" font-size="16.5">Source surface field</text><text x="950" y="985" font-size="16">Br, G</text>
</svg></body></html>
